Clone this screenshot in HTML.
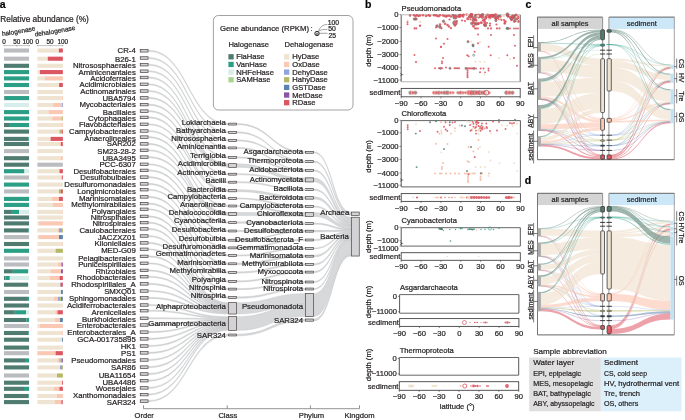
<!DOCTYPE html>
<html><head><meta charset="utf-8"><style>
html,body{margin:0;padding:0;background:#fff;width:685px;height:420px;overflow:hidden}
svg{display:block;will-change:transform}
text{font-family:"Liberation Sans", sans-serif;stroke:#231f20;stroke-width:0.22px;paint-order:stroke}
</style></head><body>
<svg width="685" height="420" viewBox="0 0 685 420" font-family="Liberation Sans, sans-serif">
<rect width="685" height="420" fill="#fff"/>
<text x="-0.30" y="8.20" font-size="10.5" text-anchor="start" font-weight="bold" fill="#000" >a</text>
<text x="0.30" y="22.30" font-size="8.3" text-anchor="start" font-weight="normal" fill="#231f20" >Relative abundance (%)</text>
<defs><path id="arc1" d="M2.3,35.9 Q20,33.6 42,29.2"/><path id="arc2" d="M35.0,36.6 Q56,33.6 82,28.6"/></defs>
<text font-size="6.6" fill="#231f20"><textPath href="#arc1">halogenase</textPath></text>
<text font-size="6.6" fill="#231f20"><textPath href="#arc2">dehalogenase</textPath></text>
<text x="4.00" y="44.00" font-size="6.4" text-anchor="middle" font-weight="normal" fill="#231f20" >0</text>
<text x="16.70" y="44.00" font-size="6.4" text-anchor="middle" font-weight="normal" fill="#231f20" >50</text>
<text x="27.80" y="44.00" font-size="6.4" text-anchor="middle" font-weight="normal" fill="#231f20" >100</text>
<line x1="4.00" y1="45.60" x2="29.40" y2="45.60" stroke="#888" stroke-width="0.5" />
<line x1="4.00" y1="45.00" x2="4.00" y2="46.20" stroke="#666" stroke-width="0.5" />
<line x1="16.70" y1="45.00" x2="16.70" y2="46.20" stroke="#666" stroke-width="0.5" />
<line x1="29.40" y1="45.00" x2="29.40" y2="46.20" stroke="#666" stroke-width="0.5" />
<text x="37.40" y="44.00" font-size="6.4" text-anchor="middle" font-weight="normal" fill="#231f20" >0</text>
<text x="50.10" y="44.00" font-size="6.4" text-anchor="middle" font-weight="normal" fill="#231f20" >50</text>
<text x="62.80" y="44.00" font-size="6.4" text-anchor="middle" font-weight="normal" fill="#231f20" >100</text>
<line x1="37.40" y1="45.60" x2="62.80" y2="45.60" stroke="#888" stroke-width="0.5" />
<line x1="37.40" y1="45.00" x2="37.40" y2="46.20" stroke="#666" stroke-width="0.5" />
<line x1="50.10" y1="45.00" x2="50.10" y2="46.20" stroke="#666" stroke-width="0.5" />
<line x1="62.80" y1="45.00" x2="62.80" y2="46.20" stroke="#666" stroke-width="0.5" />
<rect x="4.00" y="48.45" width="25.05" height="4.10" fill="#bbbcc0" stroke="none" stroke-width="0" rx="0" />
<rect x="37.40" y="48.45" width="21.55" height="4.10" fill="#efe3d1" stroke="none" stroke-width="0" rx="0" />
<rect x="58.90" y="48.45" width="3.95" height="4.10" fill="#dc5661" stroke="none" stroke-width="0" rx="0" />
<rect x="4.00" y="56.65" width="25.05" height="4.10" fill="#bbbcc0" stroke="none" stroke-width="0" rx="0" />
<rect x="37.40" y="56.65" width="10.45" height="4.10" fill="#efe3d1" stroke="none" stroke-width="0" rx="0" />
<rect x="47.80" y="56.65" width="15.05" height="4.10" fill="#dc5661" stroke="none" stroke-width="0" rx="0" />
<rect x="4.00" y="63.75" width="25.05" height="4.10" fill="#4f7b70" stroke="none" stroke-width="0" rx="0" />
<rect x="37.40" y="63.75" width="25.45" height="4.10" fill="#efe3d1" stroke="none" stroke-width="0" rx="0" />
<rect x="4.00" y="70.05" width="25.05" height="4.10" fill="#2b9e86" stroke="none" stroke-width="0" rx="0" />
<rect x="37.40" y="70.05" width="2.55" height="4.10" fill="#efe3d1" stroke="none" stroke-width="0" rx="0" />
<rect x="39.90" y="70.05" width="22.95" height="4.10" fill="#dc5661" stroke="none" stroke-width="0" rx="0" />
<rect x="4.00" y="76.35" width="25.05" height="4.10" fill="#2b9e86" stroke="none" stroke-width="0" rx="0" />
<rect x="37.40" y="76.35" width="7.65" height="4.10" fill="#efe3d1" stroke="none" stroke-width="0" rx="0" />
<rect x="45.00" y="76.35" width="17.85" height="4.10" fill="#fbc8b3" stroke="none" stroke-width="0" rx="0" />
<rect x="4.00" y="82.95" width="25.05" height="4.10" fill="#2b9e86" stroke="none" stroke-width="0" rx="0" />
<rect x="37.40" y="82.95" width="21.75" height="4.10" fill="#efe3d1" stroke="none" stroke-width="0" rx="0" />
<rect x="59.10" y="82.95" width="3.75" height="4.10" fill="#dc5661" stroke="none" stroke-width="0" rx="0" />
<rect x="4.00" y="89.95" width="25.05" height="4.10" fill="#bbbcc0" stroke="none" stroke-width="0" rx="0" />
<rect x="37.40" y="89.95" width="25.45" height="4.10" fill="#efe3d1" stroke="none" stroke-width="0" rx="0" />
<rect x="4.00" y="96.05" width="0.65" height="4.10" fill="#4f7b70" stroke="none" stroke-width="0" rx="0" />
<rect x="4.60" y="96.05" width="24.45" height="4.10" fill="#2b9e86" stroke="none" stroke-width="0" rx="0" />
<rect x="37.40" y="96.05" width="24.45" height="4.10" fill="#efe3d1" stroke="none" stroke-width="0" rx="0" />
<rect x="61.80" y="96.05" width="1.05" height="4.10" fill="#fbc8b3" stroke="none" stroke-width="0" rx="0" />
<rect x="4.00" y="102.95" width="25.05" height="4.10" fill="#d6ede9" stroke="none" stroke-width="0" rx="0" />
<rect x="37.40" y="102.95" width="15.85" height="4.10" fill="#efe3d1" stroke="none" stroke-width="0" rx="0" />
<rect x="53.20" y="102.95" width="8.75" height="4.10" fill="#fbc8b3" stroke="none" stroke-width="0" rx="0" />
<rect x="61.90" y="102.95" width="0.95" height="4.10" fill="#8ea4da" stroke="none" stroke-width="0" rx="0" />
<rect x="4.00" y="110.05" width="25.05" height="4.10" fill="#2b9e86" stroke="none" stroke-width="0" rx="0" />
<rect x="37.40" y="110.05" width="11.25" height="4.10" fill="#efe3d1" stroke="none" stroke-width="0" rx="0" />
<rect x="48.60" y="110.05" width="14.25" height="4.10" fill="#fbc8b3" stroke="none" stroke-width="0" rx="0" />
<rect x="4.00" y="116.45" width="25.05" height="4.10" fill="#2b9e86" stroke="none" stroke-width="0" rx="0" />
<rect x="37.40" y="116.45" width="14.85" height="4.10" fill="#efe3d1" stroke="none" stroke-width="0" rx="0" />
<rect x="52.20" y="116.45" width="9.65" height="4.10" fill="#fbc8b3" stroke="none" stroke-width="0" rx="0" />
<rect x="61.80" y="116.45" width="1.05" height="4.10" fill="#b5b967" stroke="none" stroke-width="0" rx="0" />
<rect x="4.00" y="122.95" width="5.05" height="4.10" fill="#4f7b70" stroke="none" stroke-width="0" rx="0" />
<rect x="9.00" y="122.95" width="20.05" height="4.10" fill="#2b9e86" stroke="none" stroke-width="0" rx="0" />
<rect x="37.40" y="122.95" width="24.15" height="4.10" fill="#efe3d1" stroke="none" stroke-width="0" rx="0" />
<rect x="61.50" y="122.95" width="1.35" height="4.10" fill="#fbc8b3" stroke="none" stroke-width="0" rx="0" />
<rect x="4.00" y="129.55" width="25.05" height="4.10" fill="#4f7b70" stroke="none" stroke-width="0" rx="0" />
<rect x="37.40" y="129.55" width="22.15" height="4.10" fill="#efe3d1" stroke="none" stroke-width="0" rx="0" />
<rect x="59.50" y="129.55" width="2.55" height="4.10" fill="#b5b967" stroke="none" stroke-width="0" rx="0" />
<rect x="62.00" y="129.55" width="0.85" height="4.10" fill="#dc5661" stroke="none" stroke-width="0" rx="0" />
<rect x="4.00" y="136.85" width="24.45" height="4.10" fill="#4f7b70" stroke="none" stroke-width="0" rx="0" />
<rect x="28.40" y="136.85" width="0.65" height="4.10" fill="#2b9e86" stroke="none" stroke-width="0" rx="0" />
<rect x="37.40" y="136.85" width="13.25" height="4.10" fill="#efe3d1" stroke="none" stroke-width="0" rx="0" />
<rect x="50.60" y="136.85" width="12.25" height="4.10" fill="#dc5661" stroke="none" stroke-width="0" rx="0" />
<rect x="4.00" y="141.95" width="25.05" height="4.10" fill="#4f7b70" stroke="none" stroke-width="0" rx="0" />
<rect x="37.40" y="141.95" width="22.15" height="4.10" fill="#efe3d1" stroke="none" stroke-width="0" rx="0" />
<rect x="59.50" y="141.95" width="1.55" height="4.10" fill="#fbc8b3" stroke="none" stroke-width="0" rx="0" />
<rect x="61.00" y="141.95" width="1.85" height="4.10" fill="#dc5661" stroke="none" stroke-width="0" rx="0" />
<rect x="4.00" y="149.05" width="25.05" height="4.10" fill="#bbbcc0" stroke="none" stroke-width="0" rx="0" />
<rect x="37.40" y="149.05" width="25.45" height="4.10" fill="#efe3d1" stroke="none" stroke-width="0" rx="0" />
<rect x="4.00" y="156.15" width="25.05" height="4.10" fill="#4f7b70" stroke="none" stroke-width="0" rx="0" />
<rect x="37.40" y="156.15" width="23.15" height="4.10" fill="#efe3d1" stroke="none" stroke-width="0" rx="0" />
<rect x="60.50" y="156.15" width="2.35" height="4.10" fill="#fbc8b3" stroke="none" stroke-width="0" rx="0" />
<rect x="4.00" y="162.65" width="25.05" height="4.10" fill="#4f7b70" stroke="none" stroke-width="0" rx="0" />
<rect x="37.40" y="162.65" width="25.45" height="4.10" fill="#bbbcc0" stroke="none" stroke-width="0" rx="0" />
<rect x="4.00" y="169.15" width="20.45" height="4.10" fill="#2b9e86" stroke="none" stroke-width="0" rx="0" />
<rect x="24.40" y="169.15" width="4.65" height="4.10" fill="#d6ede9" stroke="none" stroke-width="0" rx="0" />
<rect x="37.40" y="169.15" width="22.15" height="4.10" fill="#efe3d1" stroke="none" stroke-width="0" rx="0" />
<rect x="59.50" y="169.15" width="3.35" height="4.10" fill="#dc5661" stroke="none" stroke-width="0" rx="0" />
<rect x="4.00" y="175.45" width="25.05" height="4.10" fill="#bbbcc0" stroke="none" stroke-width="0" rx="0" />
<rect x="37.40" y="175.45" width="24.45" height="4.10" fill="#efe3d1" stroke="none" stroke-width="0" rx="0" />
<rect x="61.80" y="175.45" width="1.05" height="4.10" fill="#dc5661" stroke="none" stroke-width="0" rx="0" />
<rect x="4.00" y="182.55" width="25.05" height="4.10" fill="#2b9e86" stroke="none" stroke-width="0" rx="0" />
<rect x="37.40" y="182.55" width="25.45" height="4.10" fill="#efe3d1" stroke="none" stroke-width="0" rx="0" />
<rect x="4.00" y="189.35" width="25.05" height="4.10" fill="#bbbcc0" stroke="none" stroke-width="0" rx="0" />
<rect x="37.40" y="189.35" width="21.65" height="4.10" fill="#efe3d1" stroke="none" stroke-width="0" rx="0" />
<rect x="59.00" y="189.35" width="2.05" height="4.10" fill="#b5b967" stroke="none" stroke-width="0" rx="0" />
<rect x="61.00" y="189.35" width="1.85" height="4.10" fill="#dc5661" stroke="none" stroke-width="0" rx="0" />
<rect x="4.00" y="196.85" width="25.05" height="4.10" fill="#2b9e86" stroke="none" stroke-width="0" rx="0" />
<rect x="37.40" y="196.85" width="14.15" height="4.10" fill="#efe3d1" stroke="none" stroke-width="0" rx="0" />
<rect x="51.50" y="196.85" width="7.55" height="4.10" fill="#fbc8b3" stroke="none" stroke-width="0" rx="0" />
<rect x="59.00" y="196.85" width="3.85" height="4.10" fill="#dc5661" stroke="none" stroke-width="0" rx="0" />
<rect x="4.00" y="202.85" width="25.05" height="4.10" fill="#2b9e86" stroke="none" stroke-width="0" rx="0" />
<rect x="37.40" y="202.85" width="15.65" height="4.10" fill="#efe3d1" stroke="none" stroke-width="0" rx="0" />
<rect x="53.00" y="202.85" width="9.85" height="4.10" fill="#fbc8b3" stroke="none" stroke-width="0" rx="0" />
<rect x="4.00" y="209.85" width="7.05" height="4.10" fill="#4f7b70" stroke="none" stroke-width="0" rx="0" />
<rect x="11.00" y="209.85" width="8.05" height="4.10" fill="#2b9e86" stroke="none" stroke-width="0" rx="0" />
<rect x="19.00" y="209.85" width="10.05" height="4.10" fill="#d6ede9" stroke="none" stroke-width="0" rx="0" />
<rect x="37.40" y="209.85" width="24.85" height="4.10" fill="#efe3d1" stroke="none" stroke-width="0" rx="0" />
<rect x="62.20" y="209.85" width="0.65" height="4.10" fill="#fbc8b3" stroke="none" stroke-width="0" rx="0" />
<rect x="4.00" y="215.45" width="25.05" height="4.10" fill="#4f7b70" stroke="none" stroke-width="0" rx="0" />
<rect x="37.40" y="215.45" width="25.45" height="4.10" fill="#efe3d1" stroke="none" stroke-width="0" rx="0" />
<rect x="4.00" y="221.35" width="25.05" height="4.10" fill="#4f7b70" stroke="none" stroke-width="0" rx="0" />
<rect x="37.40" y="221.35" width="1.35" height="4.10" fill="#efe3d1" stroke="none" stroke-width="0" rx="0" />
<rect x="38.70" y="221.35" width="24.15" height="4.10" fill="#fbc8b3" stroke="none" stroke-width="0" rx="0" />
<rect x="4.00" y="228.35" width="24.45" height="4.10" fill="#4f7b70" stroke="none" stroke-width="0" rx="0" />
<rect x="28.40" y="228.35" width="0.65" height="4.10" fill="#2b9e86" stroke="none" stroke-width="0" rx="0" />
<rect x="37.40" y="228.35" width="20.45" height="4.10" fill="#efe3d1" stroke="none" stroke-width="0" rx="0" />
<rect x="57.80" y="228.35" width="1.25" height="4.10" fill="#fbc8b3" stroke="none" stroke-width="0" rx="0" />
<rect x="59.00" y="228.35" width="3.05" height="4.10" fill="#8ea4da" stroke="none" stroke-width="0" rx="0" />
<rect x="62.00" y="228.35" width="0.85" height="4.10" fill="#b5b967" stroke="none" stroke-width="0" rx="0" />
<rect x="4.00" y="235.05" width="25.05" height="4.10" fill="#bbbcc0" stroke="none" stroke-width="0" rx="0" />
<rect x="37.40" y="235.05" width="1.35" height="4.10" fill="#efe3d1" stroke="none" stroke-width="0" rx="0" />
<rect x="38.70" y="235.05" width="20.35" height="4.10" fill="#fbc8b3" stroke="none" stroke-width="0" rx="0" />
<rect x="59.00" y="235.05" width="3.85" height="4.10" fill="#5b83ad" stroke="none" stroke-width="0" rx="0" />
<rect x="4.00" y="241.95" width="25.05" height="4.10" fill="#4f7b70" stroke="none" stroke-width="0" rx="0" />
<rect x="37.40" y="241.95" width="24.85" height="4.10" fill="#efe3d1" stroke="none" stroke-width="0" rx="0" />
<rect x="62.20" y="241.95" width="0.65" height="4.10" fill="#fbc8b3" stroke="none" stroke-width="0" rx="0" />
<rect x="4.00" y="248.75" width="25.05" height="4.10" fill="#2b9e86" stroke="none" stroke-width="0" rx="0" />
<rect x="37.40" y="248.75" width="18.25" height="4.10" fill="#efe3d1" stroke="none" stroke-width="0" rx="0" />
<rect x="55.60" y="248.75" width="7.25" height="4.10" fill="#b5b967" stroke="none" stroke-width="0" rx="0" />
<rect x="4.00" y="256.35" width="25.05" height="4.10" fill="#bbbcc0" stroke="none" stroke-width="0" rx="0" />
<rect x="37.40" y="256.35" width="25.45" height="4.10" fill="#efe3d1" stroke="none" stroke-width="0" rx="0" />
<rect x="4.00" y="262.45" width="25.05" height="4.10" fill="#bbbcc0" stroke="none" stroke-width="0" rx="0" />
<rect x="37.40" y="262.45" width="20.65" height="4.10" fill="#efe3d1" stroke="none" stroke-width="0" rx="0" />
<rect x="58.00" y="262.45" width="3.55" height="4.10" fill="#fbc8b3" stroke="none" stroke-width="0" rx="0" />
<rect x="61.50" y="262.45" width="1.35" height="4.10" fill="#8a55a7" stroke="none" stroke-width="0" rx="0" />
<rect x="4.00" y="269.25" width="8.85" height="4.10" fill="#4f7b70" stroke="none" stroke-width="0" rx="0" />
<rect x="12.80" y="269.25" width="15.25" height="4.10" fill="#2b9e86" stroke="none" stroke-width="0" rx="0" />
<rect x="28.00" y="269.25" width="1.05" height="4.10" fill="#d6ede9" stroke="none" stroke-width="0" rx="0" />
<rect x="37.40" y="269.25" width="13.15" height="4.10" fill="#efe3d1" stroke="none" stroke-width="0" rx="0" />
<rect x="50.50" y="269.25" width="10.55" height="4.10" fill="#fbc8b3" stroke="none" stroke-width="0" rx="0" />
<rect x="61.00" y="269.25" width="1.85" height="4.10" fill="#8a55a7" stroke="none" stroke-width="0" rx="0" />
<rect x="4.00" y="275.95" width="1.55" height="4.10" fill="#4f7b70" stroke="none" stroke-width="0" rx="0" />
<rect x="5.50" y="275.95" width="4.35" height="4.10" fill="#2b9e86" stroke="none" stroke-width="0" rx="0" />
<rect x="9.80" y="275.95" width="19.25" height="4.10" fill="#d6ede9" stroke="none" stroke-width="0" rx="0" />
<rect x="37.40" y="275.95" width="12.65" height="4.10" fill="#efe3d1" stroke="none" stroke-width="0" rx="0" />
<rect x="50.00" y="275.95" width="9.65" height="4.10" fill="#fbc8b3" stroke="none" stroke-width="0" rx="0" />
<rect x="59.60" y="275.95" width="3.25" height="4.10" fill="#dc5661" stroke="none" stroke-width="0" rx="0" />
<rect x="4.00" y="282.65" width="24.05" height="4.10" fill="#4f7b70" stroke="none" stroke-width="0" rx="0" />
<rect x="28.00" y="282.65" width="1.05" height="4.10" fill="#d6ede9" stroke="none" stroke-width="0" rx="0" />
<rect x="37.40" y="282.65" width="22.65" height="4.10" fill="#efe3d1" stroke="none" stroke-width="0" rx="0" />
<rect x="60.00" y="282.65" width="0.75" height="4.10" fill="#8ea4da" stroke="none" stroke-width="0" rx="0" />
<rect x="60.70" y="282.65" width="2.15" height="4.10" fill="#dc5661" stroke="none" stroke-width="0" rx="0" />
<rect x="4.00" y="289.95" width="25.05" height="4.10" fill="#bbbcc0" stroke="none" stroke-width="0" rx="0" />
<rect x="37.40" y="289.95" width="23.65" height="4.10" fill="#efe3d1" stroke="none" stroke-width="0" rx="0" />
<rect x="61.00" y="289.95" width="1.85" height="4.10" fill="#5b83ad" stroke="none" stroke-width="0" rx="0" />
<rect x="4.00" y="296.75" width="23.05" height="4.10" fill="#4f7b70" stroke="none" stroke-width="0" rx="0" />
<rect x="27.00" y="296.75" width="2.05" height="4.10" fill="#2b9e86" stroke="none" stroke-width="0" rx="0" />
<rect x="37.40" y="296.75" width="16.65" height="4.10" fill="#efe3d1" stroke="none" stroke-width="0" rx="0" />
<rect x="54.00" y="296.75" width="4.05" height="4.10" fill="#fbc8b3" stroke="none" stroke-width="0" rx="0" />
<rect x="58.00" y="296.75" width="1.05" height="4.10" fill="#8ea4da" stroke="none" stroke-width="0" rx="0" />
<rect x="59.00" y="296.75" width="2.05" height="4.10" fill="#b5b967" stroke="none" stroke-width="0" rx="0" />
<rect x="61.00" y="296.75" width="1.85" height="4.10" fill="#5b83ad" stroke="none" stroke-width="0" rx="0" />
<rect x="4.00" y="303.45" width="25.05" height="4.10" fill="#4f7b70" stroke="none" stroke-width="0" rx="0" />
<rect x="37.40" y="303.45" width="25.45" height="4.10" fill="#efe3d1" stroke="none" stroke-width="0" rx="0" />
<rect x="4.00" y="310.25" width="10.75" height="4.10" fill="#4f7b70" stroke="none" stroke-width="0" rx="0" />
<rect x="14.70" y="310.25" width="11.35" height="4.10" fill="#2b9e86" stroke="none" stroke-width="0" rx="0" />
<rect x="26.00" y="310.25" width="3.05" height="4.10" fill="#d6ede9" stroke="none" stroke-width="0" rx="0" />
<rect x="37.40" y="310.25" width="17.95" height="4.10" fill="#efe3d1" stroke="none" stroke-width="0" rx="0" />
<rect x="55.30" y="310.25" width="2.25" height="4.10" fill="#fbc8b3" stroke="none" stroke-width="0" rx="0" />
<rect x="57.50" y="310.25" width="5.35" height="4.10" fill="#dc5661" stroke="none" stroke-width="0" rx="0" />
<rect x="4.00" y="317.95" width="22.65" height="4.10" fill="#4f7b70" stroke="none" stroke-width="0" rx="0" />
<rect x="26.60" y="317.95" width="2.45" height="4.10" fill="#2b9e86" stroke="none" stroke-width="0" rx="0" />
<rect x="37.40" y="317.95" width="17.65" height="4.10" fill="#efe3d1" stroke="none" stroke-width="0" rx="0" />
<rect x="55.00" y="317.95" width="5.05" height="4.10" fill="#fbc8b3" stroke="none" stroke-width="0" rx="0" />
<rect x="60.00" y="317.95" width="2.85" height="4.10" fill="#5b83ad" stroke="none" stroke-width="0" rx="0" />
<rect x="4.00" y="323.95" width="25.05" height="4.10" fill="#bbbcc0" stroke="none" stroke-width="0" rx="0" />
<rect x="37.40" y="323.95" width="2.45" height="4.10" fill="#efe3d1" stroke="none" stroke-width="0" rx="0" />
<rect x="39.80" y="323.95" width="23.05" height="4.10" fill="#fbc8b3" stroke="none" stroke-width="0" rx="0" />
<rect x="4.00" y="330.95" width="24.45" height="4.10" fill="#4f7b70" stroke="none" stroke-width="0" rx="0" />
<rect x="28.40" y="330.95" width="0.65" height="4.10" fill="#2b9e86" stroke="none" stroke-width="0" rx="0" />
<rect x="37.40" y="330.95" width="24.15" height="4.10" fill="#efe3d1" stroke="none" stroke-width="0" rx="0" />
<rect x="61.50" y="330.95" width="1.35" height="4.10" fill="#fbc8b3" stroke="none" stroke-width="0" rx="0" />
<rect x="4.00" y="337.65" width="25.05" height="4.10" fill="#4f7b70" stroke="none" stroke-width="0" rx="0" />
<rect x="37.40" y="337.65" width="24.65" height="4.10" fill="#efe3d1" stroke="none" stroke-width="0" rx="0" />
<rect x="62.00" y="337.65" width="0.85" height="4.10" fill="#5b83ad" stroke="none" stroke-width="0" rx="0" />
<rect x="4.00" y="345.55" width="25.05" height="4.10" fill="#4f7b70" stroke="none" stroke-width="0" rx="0" />
<rect x="37.40" y="345.55" width="25.45" height="4.10" fill="#efe3d1" stroke="none" stroke-width="0" rx="0" />
<rect x="4.00" y="351.15" width="25.05" height="4.10" fill="#bbbcc0" stroke="none" stroke-width="0" rx="0" />
<rect x="37.40" y="351.15" width="18.25" height="4.10" fill="#fbc8b3" stroke="none" stroke-width="0" rx="0" />
<rect x="55.60" y="351.15" width="7.25" height="4.10" fill="#dc5661" stroke="none" stroke-width="0" rx="0" />
<rect x="4.00" y="358.35" width="21.05" height="4.10" fill="#4f7b70" stroke="none" stroke-width="0" rx="0" />
<rect x="25.00" y="358.35" width="4.05" height="4.10" fill="#2b9e86" stroke="none" stroke-width="0" rx="0" />
<rect x="37.40" y="358.35" width="20.15" height="4.10" fill="#efe3d1" stroke="none" stroke-width="0" rx="0" />
<rect x="57.50" y="358.35" width="2.05" height="4.10" fill="#fbc8b3" stroke="none" stroke-width="0" rx="0" />
<rect x="59.50" y="358.35" width="1.05" height="4.10" fill="#8ea4da" stroke="none" stroke-width="0" rx="0" />
<rect x="60.50" y="358.35" width="1.05" height="4.10" fill="#b5b967" stroke="none" stroke-width="0" rx="0" />
<rect x="61.50" y="358.35" width="1.35" height="4.10" fill="#8a55a7" stroke="none" stroke-width="0" rx="0" />
<rect x="4.00" y="365.35" width="25.05" height="4.10" fill="#4f7b70" stroke="none" stroke-width="0" rx="0" />
<rect x="37.40" y="365.35" width="22.65" height="4.10" fill="#efe3d1" stroke="none" stroke-width="0" rx="0" />
<rect x="60.00" y="365.35" width="2.05" height="4.10" fill="#8ea4da" stroke="none" stroke-width="0" rx="0" />
<rect x="62.00" y="365.35" width="0.85" height="4.10" fill="#b5b967" stroke="none" stroke-width="0" rx="0" />
<rect x="4.00" y="373.45" width="25.05" height="4.10" fill="#bbbcc0" stroke="none" stroke-width="0" rx="0" />
<rect x="37.40" y="373.45" width="19.65" height="4.10" fill="#efe3d1" stroke="none" stroke-width="0" rx="0" />
<rect x="57.00" y="373.45" width="5.85" height="4.10" fill="#b5b967" stroke="none" stroke-width="0" rx="0" />
<rect x="4.00" y="380.65" width="25.05" height="4.10" fill="#4f7b70" stroke="none" stroke-width="0" rx="0" />
<rect x="37.40" y="380.65" width="24.65" height="4.10" fill="#efe3d1" stroke="none" stroke-width="0" rx="0" />
<rect x="62.00" y="380.65" width="0.85" height="4.10" fill="#dc5661" stroke="none" stroke-width="0" rx="0" />
<rect x="4.00" y="386.75" width="20.05" height="4.10" fill="#4f7b70" stroke="none" stroke-width="0" rx="0" />
<rect x="24.00" y="386.75" width="5.05" height="4.10" fill="#2b9e86" stroke="none" stroke-width="0" rx="0" />
<rect x="37.40" y="386.75" width="16.65" height="4.10" fill="#efe3d1" stroke="none" stroke-width="0" rx="0" />
<rect x="54.00" y="386.75" width="5.05" height="4.10" fill="#fbc8b3" stroke="none" stroke-width="0" rx="0" />
<rect x="59.00" y="386.75" width="0.85" height="4.10" fill="#b5b967" stroke="none" stroke-width="0" rx="0" />
<rect x="59.80" y="386.75" width="3.05" height="4.10" fill="#dc5661" stroke="none" stroke-width="0" rx="0" />
<rect x="4.00" y="393.95" width="24.45" height="4.10" fill="#4f7b70" stroke="none" stroke-width="0" rx="0" />
<rect x="28.40" y="393.95" width="0.65" height="4.10" fill="#2b9e86" stroke="none" stroke-width="0" rx="0" />
<rect x="37.40" y="393.95" width="19.65" height="4.10" fill="#efe3d1" stroke="none" stroke-width="0" rx="0" />
<rect x="57.00" y="393.95" width="5.85" height="4.10" fill="#fbc8b3" stroke="none" stroke-width="0" rx="0" />
<rect x="4.00" y="400.05" width="25.05" height="4.10" fill="#4f7b70" stroke="none" stroke-width="0" rx="0" />
<rect x="37.40" y="400.05" width="17.65" height="4.10" fill="#efe3d1" stroke="none" stroke-width="0" rx="0" />
<rect x="55.00" y="400.05" width="6.55" height="4.10" fill="#fbc8b3" stroke="none" stroke-width="0" rx="0" />
<rect x="61.50" y="400.05" width="0.75" height="4.10" fill="#8a55a7" stroke="none" stroke-width="0" rx="0" />
<rect x="62.20" y="400.05" width="0.65" height="4.10" fill="#dc5661" stroke="none" stroke-width="0" rx="0" />
<path d="M148.40,50.25 C188.35,50.25 188.35,123.55 228.30,123.55 L228.30,124.65 C188.35,124.65 188.35,51.35 148.40,51.35 Z" fill="#d7d8d9" fill-opacity="1.0" stroke="#babdc0" stroke-width="0.35"/>
<path d="M148.40,57.45 C188.35,57.45 188.35,131.85 228.30,131.85 L228.30,132.95 C188.35,132.95 188.35,58.55 148.40,58.55 Z" fill="#d7d8d9" fill-opacity="1.0" stroke="#babdc0" stroke-width="0.35"/>
<path d="M148.40,64.15 C188.35,64.15 188.35,139.85 228.30,139.85 L228.30,140.95 C188.35,140.95 188.35,65.25 148.40,65.25 Z" fill="#d7d8d9" fill-opacity="1.0" stroke="#babdc0" stroke-width="0.35"/>
<path d="M148.40,70.65 C188.35,70.65 188.35,147.35 228.30,147.35 L228.30,148.45 C188.35,148.45 188.35,71.75 148.40,71.75 Z" fill="#d7d8d9" fill-opacity="1.0" stroke="#babdc0" stroke-width="0.35"/>
<path d="M148.40,76.95 C188.35,76.95 188.35,156.75 228.30,156.75 L228.30,158.05 C188.35,158.05 188.35,78.05 148.40,78.05 Z" fill="#d7d8d9" fill-opacity="1.0" stroke="#babdc0" stroke-width="0.35"/>
<path d="M148.40,83.75 C188.35,83.75 188.35,163.75 228.30,163.75 L228.30,164.92 C188.35,164.92 188.35,84.85 148.40,84.85 Z" fill="#d7d8d9" fill-opacity="1.0" stroke="#babdc0" stroke-width="0.35"/>
<path d="M148.40,90.45 C188.35,90.45 188.35,164.92 228.30,164.92 L228.30,166.08 C188.35,166.08 188.35,91.55 148.40,91.55 Z" fill="#d7d8d9" fill-opacity="1.0" stroke="#babdc0" stroke-width="0.35"/>
<path d="M148.40,97.35 C188.35,97.35 188.35,166.08 228.30,166.08 L228.30,167.25 C188.35,167.25 188.35,98.45 148.40,98.45 Z" fill="#d7d8d9" fill-opacity="1.0" stroke="#babdc0" stroke-width="0.35"/>
<path d="M148.40,104.05 C188.35,104.05 188.35,173.65 228.30,173.65 L228.30,174.75 C188.35,174.75 188.35,105.15 148.40,105.15 Z" fill="#d7d8d9" fill-opacity="1.0" stroke="#babdc0" stroke-width="0.35"/>
<path d="M148.40,110.55 C188.35,110.55 188.35,181.65 228.30,181.65 L228.30,182.75 C188.35,182.75 188.35,111.65 148.40,111.65 Z" fill="#d7d8d9" fill-opacity="1.0" stroke="#babdc0" stroke-width="0.35"/>
<path d="M148.40,116.85 C188.35,116.85 188.35,189.70 228.30,189.70 L228.30,190.70 C188.35,190.70 188.35,117.95 148.40,117.95 Z" fill="#d7d8d9" fill-opacity="1.0" stroke="#babdc0" stroke-width="0.35"/>
<path d="M148.40,123.75 C188.35,123.75 188.35,190.70 228.30,190.70 L228.30,191.70 C188.35,191.70 188.35,124.85 148.40,124.85 Z" fill="#d7d8d9" fill-opacity="1.0" stroke="#babdc0" stroke-width="0.35"/>
<path d="M148.40,130.45 C188.35,130.45 188.35,197.95 228.30,197.95 L228.30,199.05 C188.35,199.05 188.35,131.55 148.40,131.55 Z" fill="#d7d8d9" fill-opacity="1.0" stroke="#babdc0" stroke-width="0.35"/>
<path d="M148.40,136.55 C188.35,136.55 188.35,205.45 228.30,205.45 L228.30,206.55 C188.35,206.55 188.35,137.65 148.40,137.65 Z" fill="#d7d8d9" fill-opacity="1.0" stroke="#babdc0" stroke-width="0.35"/>
<path d="M148.40,143.35 C188.35,143.35 188.35,212.50 228.30,212.50 L228.30,213.50 C188.35,213.50 188.35,144.45 148.40,144.45 Z" fill="#d7d8d9" fill-opacity="1.0" stroke="#babdc0" stroke-width="0.35"/>
<path d="M148.40,149.75 C188.35,149.75 188.35,213.50 228.30,213.50 L228.30,214.50 C188.35,214.50 188.35,150.85 148.40,150.85 Z" fill="#d7d8d9" fill-opacity="1.0" stroke="#babdc0" stroke-width="0.35"/>
<path d="M148.40,156.55 C188.35,156.55 188.35,214.50 228.30,214.50 L228.30,215.50 C188.35,215.50 188.35,157.65 148.40,157.65 Z" fill="#d7d8d9" fill-opacity="1.0" stroke="#babdc0" stroke-width="0.35"/>
<path d="M148.40,163.75 C188.35,163.75 188.35,221.85 228.30,221.85 L228.30,223.35 C188.35,223.35 188.35,164.85 148.40,164.85 Z" fill="#d7d8d9" fill-opacity="1.0" stroke="#babdc0" stroke-width="0.35"/>
<path d="M148.40,169.85 C188.35,169.85 188.35,230.30 228.30,230.30 L228.30,231.70 C188.35,231.70 188.35,170.95 148.40,170.95 Z" fill="#d7d8d9" fill-opacity="1.0" stroke="#babdc0" stroke-width="0.35"/>
<path d="M148.40,176.55 C188.35,176.55 188.35,239.75 228.30,239.75 L228.30,240.65 C188.35,240.65 188.35,177.65 148.40,177.65 Z" fill="#d7d8d9" fill-opacity="1.0" stroke="#babdc0" stroke-width="0.35"/>
<path d="M148.40,183.35 C188.35,183.35 188.35,247.40 228.30,247.40 L228.30,248.40 C188.35,248.40 188.35,184.45 148.40,184.45 Z" fill="#d7d8d9" fill-opacity="1.0" stroke="#babdc0" stroke-width="0.35"/>
<path d="M148.40,189.15 C188.35,189.15 188.35,254.95 228.30,254.95 L228.30,256.05 C188.35,256.05 188.35,190.25 148.40,190.25 Z" fill="#d7d8d9" fill-opacity="1.0" stroke="#babdc0" stroke-width="0.35"/>
<path d="M148.40,196.35 C188.35,196.35 188.35,262.95 228.30,262.95 L228.30,264.65 C188.35,264.65 188.35,197.45 148.40,197.45 Z" fill="#d7d8d9" fill-opacity="1.0" stroke="#babdc0" stroke-width="0.35"/>
<path d="M148.40,203.05 C188.35,203.05 188.35,271.85 228.30,271.85 L228.30,273.15 C188.35,273.15 188.35,204.15 148.40,204.15 Z" fill="#d7d8d9" fill-opacity="1.0" stroke="#babdc0" stroke-width="0.35"/>
<path d="M148.40,208.75 C188.35,208.75 188.35,280.85 228.30,280.85 L228.30,281.95 C188.35,281.95 188.35,209.85 148.40,209.85 Z" fill="#d7d8d9" fill-opacity="1.0" stroke="#babdc0" stroke-width="0.35"/>
<path d="M148.40,215.85 C188.35,215.85 188.35,288.55 228.30,288.55 L228.30,289.65 C188.35,289.65 188.35,216.95 148.40,216.95 Z" fill="#d7d8d9" fill-opacity="1.0" stroke="#babdc0" stroke-width="0.35"/>
<path d="M148.40,222.05 C188.35,222.05 188.35,296.85 228.30,296.85 L228.30,298.35 C188.35,298.35 188.35,223.15 148.40,223.15 Z" fill="#d7d8d9" fill-opacity="1.0" stroke="#babdc0" stroke-width="0.35"/>
<path d="M148.40,228.35 C188.35,228.35 188.35,302.75 228.30,302.75 L228.30,303.77 C188.35,303.77 188.35,229.45 148.40,229.45 Z" fill="#d7d8d9" fill-opacity="1.0" stroke="#babdc0" stroke-width="0.35"/>
<path d="M148.40,235.45 C188.35,235.45 188.35,303.77 228.30,303.77 L228.30,304.79 C188.35,304.79 188.35,236.55 148.40,236.55 Z" fill="#d7d8d9" fill-opacity="1.0" stroke="#babdc0" stroke-width="0.35"/>
<path d="M148.40,242.35 C188.35,242.35 188.35,304.79 228.30,304.79 L228.30,305.80 C188.35,305.80 188.35,243.45 148.40,243.45 Z" fill="#d7d8d9" fill-opacity="1.0" stroke="#babdc0" stroke-width="0.35"/>
<path d="M148.40,248.75 C188.35,248.75 188.35,305.80 228.30,305.80 L228.30,306.82 C188.35,306.82 188.35,249.85 148.40,249.85 Z" fill="#d7d8d9" fill-opacity="1.0" stroke="#babdc0" stroke-width="0.35"/>
<path d="M148.40,255.85 C188.35,255.85 188.35,306.82 228.30,306.82 L228.30,307.84 C188.35,307.84 188.35,256.95 148.40,256.95 Z" fill="#d7d8d9" fill-opacity="1.0" stroke="#babdc0" stroke-width="0.35"/>
<path d="M148.40,262.75 C188.35,262.75 188.35,307.84 228.30,307.84 L228.30,308.86 C188.35,308.86 188.35,263.85 148.40,263.85 Z" fill="#d7d8d9" fill-opacity="1.0" stroke="#babdc0" stroke-width="0.35"/>
<path d="M148.40,269.85 C188.35,269.85 188.35,308.86 228.30,308.86 L228.30,309.88 C188.35,309.88 188.35,270.95 148.40,270.95 Z" fill="#d7d8d9" fill-opacity="1.0" stroke="#babdc0" stroke-width="0.35"/>
<path d="M148.40,276.15 C188.35,276.15 188.35,309.88 228.30,309.88 L228.30,310.90 C188.35,310.90 188.35,277.25 148.40,277.25 Z" fill="#d7d8d9" fill-opacity="1.0" stroke="#babdc0" stroke-width="0.35"/>
<path d="M148.40,283.35 C188.35,283.35 188.35,310.90 228.30,310.90 L228.30,311.91 C188.35,311.91 188.35,284.45 148.40,284.45 Z" fill="#d7d8d9" fill-opacity="1.0" stroke="#babdc0" stroke-width="0.35"/>
<path d="M148.40,290.45 C188.35,290.45 188.35,311.91 228.30,311.91 L228.30,312.93 C188.35,312.93 188.35,291.55 148.40,291.55 Z" fill="#d7d8d9" fill-opacity="1.0" stroke="#babdc0" stroke-width="0.35"/>
<path d="M148.40,297.35 C188.35,297.35 188.35,312.93 228.30,312.93 L228.30,313.95 C188.35,313.95 188.35,298.45 148.40,298.45 Z" fill="#d7d8d9" fill-opacity="1.0" stroke="#babdc0" stroke-width="0.35"/>
<path d="M148.40,304.45 C188.35,304.45 188.35,316.65 228.30,316.65 L228.30,317.63 C188.35,317.63 188.35,305.55 148.40,305.55 Z" fill="#d7d8d9" fill-opacity="1.0" stroke="#babdc0" stroke-width="0.35"/>
<path d="M148.40,310.15 C188.35,310.15 188.35,317.63 228.30,317.63 L228.30,318.61 C188.35,318.61 188.35,311.25 148.40,311.25 Z" fill="#d7d8d9" fill-opacity="1.0" stroke="#babdc0" stroke-width="0.35"/>
<path d="M148.40,317.75 C188.35,317.75 188.35,318.61 228.30,318.61 L228.30,319.59 C188.35,319.59 188.35,318.85 148.40,318.85 Z" fill="#d7d8d9" fill-opacity="1.0" stroke="#babdc0" stroke-width="0.35"/>
<path d="M148.40,324.45 C188.35,324.45 188.35,319.59 228.30,319.59 L228.30,320.56 C188.35,320.56 188.35,325.55 148.40,325.55 Z" fill="#d7d8d9" fill-opacity="1.0" stroke="#babdc0" stroke-width="0.35"/>
<path d="M148.40,331.55 C188.35,331.55 188.35,320.56 228.30,320.56 L228.30,321.54 C188.35,321.54 188.35,332.65 148.40,332.65 Z" fill="#d7d8d9" fill-opacity="1.0" stroke="#babdc0" stroke-width="0.35"/>
<path d="M148.40,338.35 C188.35,338.35 188.35,321.54 228.30,321.54 L228.30,322.52 C188.35,322.52 188.35,339.45 148.40,339.45 Z" fill="#d7d8d9" fill-opacity="1.0" stroke="#babdc0" stroke-width="0.35"/>
<path d="M148.40,345.45 C188.35,345.45 188.35,322.52 228.30,322.52 L228.30,323.50 C188.35,323.50 188.35,346.55 148.40,346.55 Z" fill="#d7d8d9" fill-opacity="1.0" stroke="#babdc0" stroke-width="0.35"/>
<path d="M148.40,352.35 C188.35,352.35 188.35,323.50 228.30,323.50 L228.30,324.48 C188.35,324.48 188.35,353.45 148.40,353.45 Z" fill="#d7d8d9" fill-opacity="1.0" stroke="#babdc0" stroke-width="0.35"/>
<path d="M148.40,359.45 C188.35,359.45 188.35,324.48 228.30,324.48 L228.30,325.46 C188.35,325.46 188.35,360.55 148.40,360.55 Z" fill="#d7d8d9" fill-opacity="1.0" stroke="#babdc0" stroke-width="0.35"/>
<path d="M148.40,366.55 C188.35,366.55 188.35,325.46 228.30,325.46 L228.30,326.44 C188.35,326.44 188.35,367.65 148.40,367.65 Z" fill="#d7d8d9" fill-opacity="1.0" stroke="#babdc0" stroke-width="0.35"/>
<path d="M148.40,373.45 C188.35,373.45 188.35,326.44 228.30,326.44 L228.30,327.41 C188.35,327.41 188.35,374.55 148.40,374.55 Z" fill="#d7d8d9" fill-opacity="1.0" stroke="#babdc0" stroke-width="0.35"/>
<path d="M148.40,380.15 C188.35,380.15 188.35,327.41 228.30,327.41 L228.30,328.39 C188.35,328.39 188.35,381.25 148.40,381.25 Z" fill="#d7d8d9" fill-opacity="1.0" stroke="#babdc0" stroke-width="0.35"/>
<path d="M148.40,387.35 C188.35,387.35 188.35,328.39 228.30,328.39 L228.30,329.37 C188.35,329.37 188.35,388.45 148.40,388.45 Z" fill="#d7d8d9" fill-opacity="1.0" stroke="#babdc0" stroke-width="0.35"/>
<path d="M148.40,394.05 C188.35,394.05 188.35,329.37 228.30,329.37 L228.30,330.35 C188.35,330.35 188.35,395.15 148.40,395.15 Z" fill="#d7d8d9" fill-opacity="1.0" stroke="#babdc0" stroke-width="0.35"/>
<path d="M148.40,400.55 C188.35,400.55 188.35,334.15 228.30,334.15 L228.30,335.85 C188.35,335.85 188.35,401.65 148.40,401.65 Z" fill="#d7d8d9" fill-opacity="1.0" stroke="#babdc0" stroke-width="0.35"/>
<path d="M236.70,123.55 C270.95,123.55 270.95,151.75 305.20,151.75 L305.20,152.85 C270.95,152.85 270.95,124.65 236.70,124.65 Z" fill="#d7d8d9" fill-opacity="1.0" stroke="#babdc0" stroke-width="0.35"/>
<path d="M236.70,131.85 C270.95,131.85 270.95,161.00 305.20,161.00 L305.20,161.60 C270.95,161.60 270.95,132.95 236.70,132.95 Z" fill="#d7d8d9" fill-opacity="1.0" stroke="#babdc0" stroke-width="0.35"/>
<path d="M236.70,139.85 C270.95,139.85 270.95,161.60 305.20,161.60 L305.20,162.20 C270.95,162.20 270.95,140.95 236.70,140.95 Z" fill="#d7d8d9" fill-opacity="1.0" stroke="#babdc0" stroke-width="0.35"/>
<path d="M236.70,147.35 C270.95,147.35 270.95,169.70 305.20,169.70 L305.20,170.37 C270.95,170.37 270.95,148.45 236.70,148.45 Z" fill="#d7d8d9" fill-opacity="1.0" stroke="#babdc0" stroke-width="0.35"/>
<path d="M236.70,156.75 C270.95,156.75 270.95,170.37 305.20,170.37 L305.20,171.10 C270.95,171.10 270.95,158.05 236.70,158.05 Z" fill="#d7d8d9" fill-opacity="1.0" stroke="#babdc0" stroke-width="0.35"/>
<path d="M236.70,163.75 C270.95,163.75 270.95,177.95 305.20,177.95 L305.20,180.63 C270.95,180.63 270.95,167.25 236.70,167.25 Z" fill="#d7d8d9" fill-opacity="1.0" stroke="#babdc0" stroke-width="0.35"/>
<path d="M236.70,173.65 C270.95,173.65 270.95,180.63 305.20,180.63 L305.20,181.85 C270.95,181.85 270.95,174.75 236.70,174.75 Z" fill="#d7d8d9" fill-opacity="1.0" stroke="#babdc0" stroke-width="0.35"/>
<path d="M236.70,181.65 C270.95,181.65 270.95,189.00 305.20,189.00 L305.20,190.20 C270.95,190.20 270.95,182.75 236.70,182.75 Z" fill="#d7d8d9" fill-opacity="1.0" stroke="#babdc0" stroke-width="0.35"/>
<path d="M236.70,189.70 C270.95,189.70 270.95,196.75 305.20,196.75 L305.20,199.05 C270.95,199.05 270.95,191.70 236.70,191.70 Z" fill="#d7d8d9" fill-opacity="1.0" stroke="#babdc0" stroke-width="0.35"/>
<path d="M236.70,197.95 C270.95,197.95 270.95,205.90 305.20,205.90 L305.20,207.10 C270.95,207.10 270.95,199.05 236.70,199.05 Z" fill="#d7d8d9" fill-opacity="1.0" stroke="#babdc0" stroke-width="0.35"/>
<path d="M236.70,205.45 C270.95,205.45 270.95,212.55 305.20,212.55 L305.20,213.87 C270.95,213.87 270.95,206.55 236.70,206.55 Z" fill="#d7d8d9" fill-opacity="1.0" stroke="#babdc0" stroke-width="0.35"/>
<path d="M236.70,212.50 C270.95,212.50 270.95,213.87 305.20,213.87 L305.20,216.45 C270.95,216.45 270.95,215.50 236.70,215.50 Z" fill="#d7d8d9" fill-opacity="1.0" stroke="#babdc0" stroke-width="0.35"/>
<path d="M236.70,221.85 C270.95,221.85 270.95,223.00 305.20,223.00 L305.20,224.20 C270.95,224.20 270.95,223.35 236.70,223.35 Z" fill="#d7d8d9" fill-opacity="1.0" stroke="#babdc0" stroke-width="0.35"/>
<path d="M236.70,230.30 C270.95,230.30 270.95,230.45 305.20,230.45 L305.20,231.29 C270.95,231.29 270.95,231.70 236.70,231.70 Z" fill="#d7d8d9" fill-opacity="1.0" stroke="#babdc0" stroke-width="0.35"/>
<path d="M236.70,239.75 C270.95,239.75 270.95,231.29 305.20,231.29 L305.20,231.95 C270.95,231.95 270.95,240.65 236.70,240.65 Z" fill="#d7d8d9" fill-opacity="1.0" stroke="#babdc0" stroke-width="0.35"/>
<path d="M236.70,247.40 C270.95,247.40 270.95,239.40 305.20,239.40 L305.20,240.60 C270.95,240.60 270.95,248.40 236.70,248.40 Z" fill="#d7d8d9" fill-opacity="1.0" stroke="#babdc0" stroke-width="0.35"/>
<path d="M236.70,254.95 C270.95,254.95 270.95,248.10 305.20,248.10 L305.20,248.90 C270.95,248.90 270.95,256.05 236.70,256.05 Z" fill="#d7d8d9" fill-opacity="1.0" stroke="#babdc0" stroke-width="0.35"/>
<path d="M236.70,262.95 C270.95,262.95 270.95,255.45 305.20,255.45 L305.20,256.95 C270.95,256.95 270.95,264.65 236.70,264.65 Z" fill="#d7d8d9" fill-opacity="1.0" stroke="#babdc0" stroke-width="0.35"/>
<path d="M236.70,271.85 C270.95,271.85 270.95,263.75 305.20,263.75 L305.20,265.05 C270.95,265.05 270.95,273.15 236.70,273.15 Z" fill="#d7d8d9" fill-opacity="1.0" stroke="#babdc0" stroke-width="0.35"/>
<path d="M236.70,280.85 C270.95,280.85 270.95,271.45 305.20,271.45 L305.20,272.75 C270.95,272.75 270.95,281.95 236.70,281.95 Z" fill="#d7d8d9" fill-opacity="1.0" stroke="#babdc0" stroke-width="0.35"/>
<path d="M236.70,288.55 C270.95,288.55 270.95,281.50 305.20,281.50 L305.20,282.50 C270.95,282.50 270.95,289.65 236.70,289.65 Z" fill="#d7d8d9" fill-opacity="1.0" stroke="#babdc0" stroke-width="0.35"/>
<path d="M236.70,296.85 C270.95,296.85 270.95,288.50 305.20,288.50 L305.20,289.50 C270.95,289.50 270.95,298.35 236.70,298.35 Z" fill="#d7d8d9" fill-opacity="1.0" stroke="#babdc0" stroke-width="0.35"/>
<path d="M236.70,302.75 C270.95,302.75 270.95,293.65 305.20,293.65 L305.20,304.03 C270.95,304.03 270.95,313.95 236.70,313.95 Z" fill="#d7d8d9" fill-opacity="1.0" stroke="#babdc0" stroke-width="0.35"/>
<path d="M236.70,316.65 C270.95,316.65 270.95,304.03 305.20,304.03 L305.20,316.55 C270.95,316.55 270.95,330.35 236.70,330.35 Z" fill="#d7d8d9" fill-opacity="1.0" stroke="#babdc0" stroke-width="0.35"/>
<path d="M236.70,334.15 C270.95,334.15 270.95,319.10 305.20,319.10 L305.20,321.10 C270.95,321.10 270.95,335.85 236.70,335.85 Z" fill="#d7d8d9" fill-opacity="1.0" stroke="#babdc0" stroke-width="0.35"/>
<path d="M313.80,151.75 C332.45,151.75 332.45,212.15 351.10,212.15 L351.10,213.66 C332.45,213.66 332.45,152.85 313.80,152.85 Z" fill="#d7d8d9" fill-opacity="1.0" stroke="#babdc0" stroke-width="0.35"/>
<path d="M313.80,161.00 C332.45,161.00 332.45,213.66 351.10,213.66 L351.10,215.25 C332.45,215.25 332.45,162.20 313.80,162.20 Z" fill="#d7d8d9" fill-opacity="1.0" stroke="#babdc0" stroke-width="0.35"/>
<path d="M313.80,169.70 C332.45,169.70 332.45,217.35 351.10,217.35 L351.10,218.72 C332.45,218.72 332.45,171.10 313.80,171.10 Z" fill="#d7d8d9" fill-opacity="1.0" stroke="#babdc0" stroke-width="0.35"/>
<path d="M313.80,177.95 C332.45,177.95 332.45,218.72 351.10,218.72 L351.10,221.57 C332.45,221.57 332.45,181.85 313.80,181.85 Z" fill="#d7d8d9" fill-opacity="1.0" stroke="#babdc0" stroke-width="0.35"/>
<path d="M313.80,189.00 C332.45,189.00 332.45,221.57 351.10,221.57 L351.10,222.82 C332.45,222.82 332.45,190.20 313.80,190.20 Z" fill="#d7d8d9" fill-opacity="1.0" stroke="#babdc0" stroke-width="0.35"/>
<path d="M313.80,196.75 C332.45,196.75 332.45,222.82 351.10,222.82 L351.10,224.73 C332.45,224.73 332.45,199.05 313.80,199.05 Z" fill="#d7d8d9" fill-opacity="1.0" stroke="#babdc0" stroke-width="0.35"/>
<path d="M313.80,205.90 C332.45,205.90 332.45,224.73 351.10,224.73 L351.10,225.97 C332.45,225.97 332.45,207.10 313.80,207.10 Z" fill="#d7d8d9" fill-opacity="1.0" stroke="#babdc0" stroke-width="0.35"/>
<path d="M313.80,212.55 C332.45,212.55 332.45,225.97 351.10,225.97 L351.10,228.83 C332.45,228.83 332.45,216.45 313.80,216.45 Z" fill="#d7d8d9" fill-opacity="1.0" stroke="#babdc0" stroke-width="0.35"/>
<path d="M313.80,223.00 C332.45,223.00 332.45,228.83 351.10,228.83 L351.10,230.08 C332.45,230.08 332.45,224.20 313.80,224.20 Z" fill="#d7d8d9" fill-opacity="1.0" stroke="#babdc0" stroke-width="0.35"/>
<path d="M313.80,230.45 C332.45,230.45 332.45,230.08 351.10,230.08 L351.10,231.51 C332.45,231.51 332.45,231.95 313.80,231.95 Z" fill="#d7d8d9" fill-opacity="1.0" stroke="#babdc0" stroke-width="0.35"/>
<path d="M313.80,239.40 C332.45,239.40 332.45,231.51 351.10,231.51 L351.10,232.75 C332.45,232.75 332.45,240.60 313.80,240.60 Z" fill="#d7d8d9" fill-opacity="1.0" stroke="#babdc0" stroke-width="0.35"/>
<path d="M313.80,248.10 C332.45,248.10 332.45,232.75 351.10,232.75 L351.10,233.77 C332.45,233.77 332.45,248.90 313.80,248.90 Z" fill="#d7d8d9" fill-opacity="1.0" stroke="#babdc0" stroke-width="0.35"/>
<path d="M313.80,255.45 C332.45,255.45 332.45,233.77 351.10,233.77 L351.10,235.19 C332.45,235.19 332.45,256.95 313.80,256.95 Z" fill="#d7d8d9" fill-opacity="1.0" stroke="#babdc0" stroke-width="0.35"/>
<path d="M313.80,263.75 C332.45,263.75 332.45,235.19 351.10,235.19 L351.10,236.50 C332.45,236.50 332.45,265.05 313.80,265.05 Z" fill="#d7d8d9" fill-opacity="1.0" stroke="#babdc0" stroke-width="0.35"/>
<path d="M313.80,271.45 C332.45,271.45 332.45,236.50 351.10,236.50 L351.10,237.81 C332.45,237.81 332.45,272.75 313.80,272.75 Z" fill="#d7d8d9" fill-opacity="1.0" stroke="#babdc0" stroke-width="0.35"/>
<path d="M313.80,281.50 C332.45,281.50 332.45,237.81 351.10,237.81 L351.10,238.94 C332.45,238.94 332.45,282.50 313.80,282.50 Z" fill="#d7d8d9" fill-opacity="1.0" stroke="#babdc0" stroke-width="0.35"/>
<path d="M313.80,288.50 C332.45,288.50 332.45,238.94 351.10,238.94 L351.10,240.07 C332.45,240.07 332.45,289.50 313.80,289.50 Z" fill="#d7d8d9" fill-opacity="1.0" stroke="#babdc0" stroke-width="0.35"/>
<path d="M313.80,293.65 C332.45,293.65 332.45,240.07 351.10,240.07 L351.10,254.23 C332.45,254.23 332.45,316.55 313.80,316.55 Z" fill="#d7d8d9" fill-opacity="1.0" stroke="#babdc0" stroke-width="0.35"/>
<path d="M313.80,319.10 C332.45,319.10 332.45,254.23 351.10,254.23 L351.10,255.95 C332.45,255.95 332.45,321.10 313.80,321.10 Z" fill="#d7d8d9" fill-opacity="1.0" stroke="#babdc0" stroke-width="0.35"/>
<rect x="140.25" y="49.55" width="7.80" height="2.50" fill="#d3d3d5" stroke="#4a4240" stroke-width="0.7" rx="0" />
<text x="135.80" y="53.40" font-size="7.8" text-anchor="end" font-weight="normal" fill="#231f20" >CR-4</text>
<rect x="140.25" y="56.75" width="7.80" height="2.50" fill="#d3d3d5" stroke="#4a4240" stroke-width="0.7" rx="0" />
<text x="135.80" y="61.60" font-size="7.8" text-anchor="end" font-weight="normal" fill="#231f20" >B26-1</text>
<rect x="140.25" y="63.45" width="7.80" height="2.50" fill="#d3d3d5" stroke="#4a4240" stroke-width="0.7" rx="0" />
<text x="135.80" y="68.20" font-size="7.8" text-anchor="end" font-weight="normal" fill="#231f20" >Nitrososphaerales</text>
<rect x="140.25" y="69.95" width="7.80" height="2.50" fill="#d3d3d5" stroke="#4a4240" stroke-width="0.7" rx="0" />
<text x="135.80" y="74.50" font-size="7.8" text-anchor="end" font-weight="normal" fill="#231f20" >Aminicenantales</text>
<rect x="140.25" y="76.25" width="7.80" height="2.50" fill="#d3d3d5" stroke="#4a4240" stroke-width="0.7" rx="0" />
<text x="135.80" y="80.80" font-size="7.8" text-anchor="end" font-weight="normal" fill="#231f20" >Acidoferrales</text>
<rect x="140.25" y="83.05" width="7.80" height="2.50" fill="#d3d3d5" stroke="#4a4240" stroke-width="0.7" rx="0" />
<text x="135.80" y="87.40" font-size="7.8" text-anchor="end" font-weight="normal" fill="#231f20" >Acidimicrobiales</text>
<rect x="140.25" y="89.75" width="7.80" height="2.50" fill="#d3d3d5" stroke="#4a4240" stroke-width="0.7" rx="0" />
<text x="135.80" y="94.40" font-size="7.8" text-anchor="end" font-weight="normal" fill="#231f20" >Actinomarinales</text>
<rect x="140.25" y="96.65" width="7.80" height="2.50" fill="#d3d3d5" stroke="#4a4240" stroke-width="0.7" rx="0" />
<text x="135.80" y="100.50" font-size="7.8" text-anchor="end" font-weight="normal" fill="#231f20" >UBA5794</text>
<rect x="140.25" y="103.35" width="7.80" height="2.50" fill="#d3d3d5" stroke="#4a4240" stroke-width="0.7" rx="0" />
<text x="135.80" y="107.40" font-size="7.8" text-anchor="end" font-weight="normal" fill="#231f20" >Mycobacteriales</text>
<rect x="140.25" y="109.85" width="7.80" height="2.50" fill="#d3d3d5" stroke="#4a4240" stroke-width="0.7" rx="0" />
<text x="135.80" y="114.50" font-size="7.8" text-anchor="end" font-weight="normal" fill="#231f20" >Bacillales</text>
<rect x="140.25" y="116.15" width="7.80" height="2.50" fill="#d3d3d5" stroke="#4a4240" stroke-width="0.7" rx="0" />
<text x="135.80" y="120.90" font-size="7.8" text-anchor="end" font-weight="normal" fill="#231f20" >Cytophagales</text>
<rect x="140.25" y="123.05" width="7.80" height="2.50" fill="#d3d3d5" stroke="#4a4240" stroke-width="0.7" rx="0" />
<text x="135.80" y="127.40" font-size="7.8" text-anchor="end" font-weight="normal" fill="#231f20" >Flavobacteriales</text>
<rect x="140.25" y="129.75" width="7.80" height="2.50" fill="#d3d3d5" stroke="#4a4240" stroke-width="0.7" rx="0" />
<text x="135.80" y="134.00" font-size="7.8" text-anchor="end" font-weight="normal" fill="#231f20" >Campylobacterales</text>
<rect x="140.25" y="135.85" width="7.80" height="2.50" fill="#d3d3d5" stroke="#4a4240" stroke-width="0.7" rx="0" />
<text x="135.80" y="141.30" font-size="7.8" text-anchor="end" font-weight="normal" fill="#231f20" >Anaerolineales</text>
<rect x="140.25" y="142.65" width="7.80" height="2.50" fill="#d3d3d5" stroke="#4a4240" stroke-width="0.7" rx="0" />
<text x="135.80" y="146.40" font-size="7.8" text-anchor="end" font-weight="normal" fill="#231f20" >SAR202</text>
<rect x="140.25" y="149.05" width="7.80" height="2.50" fill="#d3d3d5" stroke="#4a4240" stroke-width="0.7" rx="0" />
<text x="135.80" y="153.50" font-size="7.8" text-anchor="end" font-weight="normal" fill="#231f20" >SM23-28-2</text>
<rect x="140.25" y="155.85" width="7.80" height="2.50" fill="#d3d3d5" stroke="#4a4240" stroke-width="0.7" rx="0" />
<text x="135.80" y="160.60" font-size="7.8" text-anchor="end" font-weight="normal" fill="#231f20" >UBA3495</text>
<rect x="140.25" y="163.05" width="7.80" height="2.50" fill="#d3d3d5" stroke="#4a4240" stroke-width="0.7" rx="0" />
<text x="135.80" y="167.10" font-size="7.8" text-anchor="end" font-weight="normal" fill="#231f20" >PCC-6307</text>
<rect x="140.25" y="169.15" width="7.80" height="2.50" fill="#d3d3d5" stroke="#4a4240" stroke-width="0.7" rx="0" />
<text x="135.80" y="173.60" font-size="7.8" text-anchor="end" font-weight="normal" fill="#231f20" >Desulfobacterales</text>
<rect x="140.25" y="175.85" width="7.80" height="2.50" fill="#d3d3d5" stroke="#4a4240" stroke-width="0.7" rx="0" />
<text x="135.80" y="179.90" font-size="7.8" text-anchor="end" font-weight="normal" fill="#231f20" >Desulfobulbales</text>
<rect x="140.25" y="182.65" width="7.80" height="2.50" fill="#d3d3d5" stroke="#4a4240" stroke-width="0.7" rx="0" />
<text x="135.80" y="187.00" font-size="7.8" text-anchor="end" font-weight="normal" fill="#231f20" >Desulfuromonadales</text>
<rect x="140.25" y="188.45" width="7.80" height="2.50" fill="#d3d3d5" stroke="#4a4240" stroke-width="0.7" rx="0" />
<text x="135.80" y="193.80" font-size="7.8" text-anchor="end" font-weight="normal" fill="#231f20" >Longimicrobiales</text>
<rect x="140.25" y="195.65" width="7.80" height="2.50" fill="#d3d3d5" stroke="#4a4240" stroke-width="0.7" rx="0" />
<text x="135.80" y="201.30" font-size="7.8" text-anchor="end" font-weight="normal" fill="#231f20" >Marinisomatales</text>
<rect x="140.25" y="202.35" width="7.80" height="2.50" fill="#d3d3d5" stroke="#4a4240" stroke-width="0.7" rx="0" />
<text x="135.80" y="207.30" font-size="7.8" text-anchor="end" font-weight="normal" fill="#231f20" >Methylomirabilales</text>
<rect x="140.25" y="208.05" width="7.80" height="2.50" fill="#d3d3d5" stroke="#4a4240" stroke-width="0.7" rx="0" />
<text x="135.80" y="214.30" font-size="7.8" text-anchor="end" font-weight="normal" fill="#231f20" >Polyangiales</text>
<rect x="140.25" y="215.15" width="7.80" height="2.50" fill="#d3d3d5" stroke="#4a4240" stroke-width="0.7" rx="0" />
<text x="135.80" y="219.90" font-size="7.8" text-anchor="end" font-weight="normal" fill="#231f20" >Nitrospinales</text>
<rect x="140.25" y="221.35" width="7.80" height="2.50" fill="#d3d3d5" stroke="#4a4240" stroke-width="0.7" rx="0" />
<text x="135.80" y="225.80" font-size="7.8" text-anchor="end" font-weight="normal" fill="#231f20" >Nitrospirales</text>
<rect x="140.25" y="227.65" width="7.80" height="2.50" fill="#d3d3d5" stroke="#4a4240" stroke-width="0.7" rx="0" />
<text x="135.80" y="232.80" font-size="7.8" text-anchor="end" font-weight="normal" fill="#231f20" >Caulobacterales</text>
<rect x="140.25" y="234.75" width="7.80" height="2.50" fill="#d3d3d5" stroke="#4a4240" stroke-width="0.7" rx="0" />
<text x="135.80" y="239.50" font-size="7.8" text-anchor="end" font-weight="normal" fill="#231f20" >JACZXZ01</text>
<rect x="140.25" y="241.65" width="7.80" height="2.50" fill="#d3d3d5" stroke="#4a4240" stroke-width="0.7" rx="0" />
<text x="135.80" y="246.40" font-size="7.8" text-anchor="end" font-weight="normal" fill="#231f20" >Kiloniellales</text>
<rect x="140.25" y="248.05" width="7.80" height="2.50" fill="#d3d3d5" stroke="#4a4240" stroke-width="0.7" rx="0" />
<text x="135.80" y="253.20" font-size="7.8" text-anchor="end" font-weight="normal" fill="#231f20" >MED-G09</text>
<rect x="140.25" y="255.15" width="7.80" height="2.50" fill="#d3d3d5" stroke="#4a4240" stroke-width="0.7" rx="0" />
<text x="135.80" y="260.80" font-size="7.8" text-anchor="end" font-weight="normal" fill="#231f20" >Pelagibacterales</text>
<rect x="140.25" y="262.05" width="7.80" height="2.50" fill="#d3d3d5" stroke="#4a4240" stroke-width="0.7" rx="0" />
<text x="135.80" y="266.90" font-size="7.8" text-anchor="end" font-weight="normal" fill="#231f20" >Puniceispirillales</text>
<rect x="140.25" y="269.15" width="7.80" height="2.50" fill="#d3d3d5" stroke="#4a4240" stroke-width="0.7" rx="0" />
<text x="135.80" y="273.70" font-size="7.8" text-anchor="end" font-weight="normal" fill="#231f20" >Rhizobiales</text>
<rect x="140.25" y="275.45" width="7.80" height="2.50" fill="#d3d3d5" stroke="#4a4240" stroke-width="0.7" rx="0" />
<text x="135.80" y="280.40" font-size="7.8" text-anchor="end" font-weight="normal" fill="#231f20" >Rhodobacterales</text>
<rect x="140.25" y="282.65" width="7.80" height="2.50" fill="#d3d3d5" stroke="#4a4240" stroke-width="0.7" rx="0" />
<text x="135.80" y="287.10" font-size="7.8" text-anchor="end" font-weight="normal" fill="#231f20" >Rhodospirillales_A</text>
<rect x="140.25" y="289.75" width="7.80" height="2.50" fill="#d3d3d5" stroke="#4a4240" stroke-width="0.7" rx="0" />
<text x="135.80" y="294.40" font-size="7.8" text-anchor="end" font-weight="normal" fill="#231f20" >SMXQ01</text>
<rect x="140.25" y="296.65" width="7.80" height="2.50" fill="#d3d3d5" stroke="#4a4240" stroke-width="0.7" rx="0" />
<text x="135.80" y="301.20" font-size="7.8" text-anchor="end" font-weight="normal" fill="#231f20" >Sphingomonadales</text>
<rect x="140.25" y="303.75" width="7.80" height="2.50" fill="#d3d3d5" stroke="#4a4240" stroke-width="0.7" rx="0" />
<text x="135.80" y="307.90" font-size="7.8" text-anchor="end" font-weight="normal" fill="#231f20" >Acidiferrobacterales</text>
<rect x="140.25" y="309.45" width="7.80" height="2.50" fill="#d3d3d5" stroke="#4a4240" stroke-width="0.7" rx="0" />
<text x="135.80" y="314.70" font-size="7.8" text-anchor="end" font-weight="normal" fill="#231f20" >Arenicellales</text>
<rect x="140.25" y="317.05" width="7.80" height="2.50" fill="#d3d3d5" stroke="#4a4240" stroke-width="0.7" rx="0" />
<text x="135.80" y="322.40" font-size="7.8" text-anchor="end" font-weight="normal" fill="#231f20" >Burkholderiales</text>
<rect x="140.25" y="323.75" width="7.80" height="2.50" fill="#d3d3d5" stroke="#4a4240" stroke-width="0.7" rx="0" />
<text x="135.80" y="328.40" font-size="7.8" text-anchor="end" font-weight="normal" fill="#231f20" >Enterobacterales</text>
<rect x="140.25" y="330.85" width="7.80" height="2.50" fill="#d3d3d5" stroke="#4a4240" stroke-width="0.7" rx="0" />
<text x="135.80" y="335.40" font-size="7.8" text-anchor="end" font-weight="normal" fill="#231f20" >Enterobacterales_A</text>
<rect x="140.25" y="337.65" width="7.80" height="2.50" fill="#d3d3d5" stroke="#4a4240" stroke-width="0.7" rx="0" />
<text x="135.80" y="342.10" font-size="7.8" text-anchor="end" font-weight="normal" fill="#231f20" >GCA-001735895</text>
<rect x="140.25" y="344.75" width="7.80" height="2.50" fill="#d3d3d5" stroke="#4a4240" stroke-width="0.7" rx="0" />
<text x="135.80" y="349.00" font-size="7.8" text-anchor="end" font-weight="normal" fill="#231f20" >HK1</text>
<rect x="140.25" y="351.65" width="7.80" height="2.50" fill="#d3d3d5" stroke="#4a4240" stroke-width="0.7" rx="0" />
<text x="135.80" y="355.60" font-size="7.8" text-anchor="end" font-weight="normal" fill="#231f20" >PS1</text>
<rect x="140.25" y="358.75" width="7.80" height="2.50" fill="#d3d3d5" stroke="#4a4240" stroke-width="0.7" rx="0" />
<text x="135.80" y="362.80" font-size="7.8" text-anchor="end" font-weight="normal" fill="#231f20" >Pseudomonadales</text>
<rect x="140.25" y="365.85" width="7.80" height="2.50" fill="#d3d3d5" stroke="#4a4240" stroke-width="0.7" rx="0" />
<text x="135.80" y="369.80" font-size="7.8" text-anchor="end" font-weight="normal" fill="#231f20" >SAR86</text>
<rect x="140.25" y="372.75" width="7.80" height="2.50" fill="#d3d3d5" stroke="#4a4240" stroke-width="0.7" rx="0" />
<text x="135.80" y="377.90" font-size="7.8" text-anchor="end" font-weight="normal" fill="#231f20" >UBA11654</text>
<rect x="140.25" y="379.45" width="7.80" height="2.50" fill="#d3d3d5" stroke="#4a4240" stroke-width="0.7" rx="0" />
<text x="135.80" y="385.10" font-size="7.8" text-anchor="end" font-weight="normal" fill="#231f20" >UBA4486</text>
<rect x="140.25" y="386.65" width="7.80" height="2.50" fill="#d3d3d5" stroke="#4a4240" stroke-width="0.7" rx="0" />
<text x="135.80" y="391.20" font-size="7.8" text-anchor="end" font-weight="normal" fill="#231f20" >Woesejales</text>
<rect x="140.25" y="393.35" width="7.80" height="2.50" fill="#d3d3d5" stroke="#4a4240" stroke-width="0.7" rx="0" />
<text x="135.80" y="398.40" font-size="7.8" text-anchor="end" font-weight="normal" fill="#231f20" >Xanthomonadales</text>
<rect x="140.25" y="399.85" width="7.80" height="2.50" fill="#d3d3d5" stroke="#4a4240" stroke-width="0.7" rx="0" />
<text x="135.80" y="404.50" font-size="7.8" text-anchor="end" font-weight="normal" fill="#231f20" >SAR324</text>
<rect x="228.65" y="123.15" width="7.70" height="1.90" fill="#d3d3d5" stroke="#4a4240" stroke-width="0.7" rx="0" />
<text x="225.90" y="124.90" font-size="7.8" text-anchor="end" font-weight="normal" fill="#231f20" >Lokiarchaeia</text>
<rect x="228.65" y="131.45" width="7.70" height="1.90" fill="#d3d3d5" stroke="#4a4240" stroke-width="0.7" rx="0" />
<text x="225.90" y="133.20" font-size="7.8" text-anchor="end" font-weight="normal" fill="#231f20" >Bathyarchaeia</text>
<rect x="228.65" y="139.45" width="7.70" height="1.90" fill="#d3d3d5" stroke="#4a4240" stroke-width="0.7" rx="0" />
<text x="225.90" y="141.20" font-size="7.8" text-anchor="end" font-weight="normal" fill="#231f20" >Nitrososphaeria</text>
<rect x="228.65" y="146.95" width="7.70" height="1.90" fill="#d3d3d5" stroke="#4a4240" stroke-width="0.7" rx="0" />
<text x="225.90" y="148.70" font-size="7.8" text-anchor="end" font-weight="normal" fill="#231f20" >Aminicenantia</text>
<rect x="228.65" y="156.45" width="7.70" height="1.90" fill="#d3d3d5" stroke="#4a4240" stroke-width="0.7" rx="0" />
<text x="225.90" y="158.20" font-size="7.8" text-anchor="end" font-weight="normal" fill="#231f20" >Terriglobia</text>
<rect x="228.65" y="163.65" width="7.70" height="3.70" fill="#d3d3d5" stroke="#4a4240" stroke-width="0.7" rx="0" />
<text x="225.90" y="166.30" font-size="7.8" text-anchor="end" font-weight="normal" fill="#231f20" >Acidimicrobiia</text>
<rect x="228.65" y="173.25" width="7.70" height="1.90" fill="#d3d3d5" stroke="#4a4240" stroke-width="0.7" rx="0" />
<text x="225.90" y="175.00" font-size="7.8" text-anchor="end" font-weight="normal" fill="#231f20" >Actinomycetia</text>
<rect x="228.65" y="181.25" width="7.70" height="1.90" fill="#d3d3d5" stroke="#4a4240" stroke-width="0.7" rx="0" />
<text x="225.90" y="183.00" font-size="7.8" text-anchor="end" font-weight="normal" fill="#231f20" >Bacilli</text>
<rect x="228.65" y="189.60" width="7.70" height="2.20" fill="#d3d3d5" stroke="#4a4240" stroke-width="0.7" rx="0" />
<text x="225.90" y="191.50" font-size="7.8" text-anchor="end" font-weight="normal" fill="#231f20" >Bacteroidia</text>
<rect x="228.65" y="197.55" width="7.70" height="1.90" fill="#d3d3d5" stroke="#4a4240" stroke-width="0.7" rx="0" />
<text x="225.90" y="199.30" font-size="7.8" text-anchor="end" font-weight="normal" fill="#231f20" >Campylobacteria</text>
<rect x="228.65" y="205.05" width="7.70" height="1.90" fill="#d3d3d5" stroke="#4a4240" stroke-width="0.7" rx="0" />
<text x="225.90" y="206.80" font-size="7.8" text-anchor="end" font-weight="normal" fill="#231f20" >Anaerolineae</text>
<rect x="228.65" y="212.40" width="7.70" height="3.20" fill="#d3d3d5" stroke="#4a4240" stroke-width="0.7" rx="0" />
<text x="225.90" y="214.80" font-size="7.8" text-anchor="end" font-weight="normal" fill="#231f20" >Dehalococcoidia</text>
<rect x="228.65" y="221.65" width="7.70" height="1.90" fill="#d3d3d5" stroke="#4a4240" stroke-width="0.7" rx="0" />
<text x="225.90" y="223.40" font-size="7.8" text-anchor="end" font-weight="normal" fill="#231f20" >Cyanobacteriia</text>
<rect x="228.65" y="230.05" width="7.70" height="1.90" fill="#d3d3d5" stroke="#4a4240" stroke-width="0.7" rx="0" />
<text x="225.90" y="231.80" font-size="7.8" text-anchor="end" font-weight="normal" fill="#231f20" >Desulfobacteria</text>
<rect x="228.65" y="239.25" width="7.70" height="1.90" fill="#d3d3d5" stroke="#4a4240" stroke-width="0.7" rx="0" />
<text x="225.90" y="241.00" font-size="7.8" text-anchor="end" font-weight="normal" fill="#231f20" >Desulfobulbia</text>
<rect x="228.65" y="246.95" width="7.70" height="1.90" fill="#d3d3d5" stroke="#4a4240" stroke-width="0.7" rx="0" />
<text x="225.90" y="248.70" font-size="7.8" text-anchor="end" font-weight="normal" fill="#231f20" >Desulfuromonadia</text>
<rect x="228.65" y="254.55" width="7.70" height="1.90" fill="#d3d3d5" stroke="#4a4240" stroke-width="0.7" rx="0" />
<text x="225.90" y="256.30" font-size="7.8" text-anchor="end" font-weight="normal" fill="#231f20" >Gemmatimonadetes</text>
<rect x="228.65" y="262.85" width="7.70" height="1.90" fill="#d3d3d5" stroke="#4a4240" stroke-width="0.7" rx="0" />
<text x="225.90" y="264.60" font-size="7.8" text-anchor="end" font-weight="normal" fill="#231f20" >Marinisomatia</text>
<rect x="228.65" y="271.55" width="7.70" height="1.90" fill="#d3d3d5" stroke="#4a4240" stroke-width="0.7" rx="0" />
<text x="225.90" y="273.30" font-size="7.8" text-anchor="end" font-weight="normal" fill="#231f20" >Methylomirabilia</text>
<rect x="228.65" y="280.45" width="7.70" height="1.90" fill="#d3d3d5" stroke="#4a4240" stroke-width="0.7" rx="0" />
<text x="225.90" y="282.20" font-size="7.8" text-anchor="end" font-weight="normal" fill="#231f20" >Polyangia</text>
<rect x="228.65" y="288.15" width="7.70" height="1.90" fill="#d3d3d5" stroke="#4a4240" stroke-width="0.7" rx="0" />
<text x="225.90" y="289.90" font-size="7.8" text-anchor="end" font-weight="normal" fill="#231f20" >Nitrospinia</text>
<rect x="228.65" y="296.65" width="7.70" height="1.90" fill="#d3d3d5" stroke="#4a4240" stroke-width="0.7" rx="0" />
<text x="225.90" y="298.40" font-size="7.8" text-anchor="end" font-weight="normal" fill="#231f20" >Nitrospiria</text>
<rect x="228.65" y="302.65" width="7.70" height="11.40" fill="#d3d3d5" stroke="#4a4240" stroke-width="0.7" rx="0" />
<text x="225.90" y="309.40" font-size="7.8" text-anchor="end" font-weight="normal" fill="#231f20" >Alphaproteobacteria</text>
<rect x="228.65" y="316.55" width="7.70" height="13.90" fill="#d3d3d5" stroke="#4a4240" stroke-width="0.7" rx="0" />
<text x="225.90" y="325.60" font-size="7.8" text-anchor="end" font-weight="normal" fill="#231f20" >Gammaproteobacteria</text>
<rect x="228.65" y="334.05" width="7.70" height="1.90" fill="#d3d3d5" stroke="#4a4240" stroke-width="0.7" rx="0" />
<text x="225.90" y="337.60" font-size="7.8" text-anchor="end" font-weight="normal" fill="#231f20" >SAR324</text>
<rect x="305.55" y="151.35" width="7.90" height="1.90" fill="#d3d3d5" stroke="#4a4240" stroke-width="0.7" rx="0" />
<text x="303.00" y="153.90" font-size="7.8" text-anchor="end" font-weight="normal" fill="#231f20" >Asgardarchaeota</text>
<rect x="305.55" y="160.65" width="7.90" height="1.90" fill="#d3d3d5" stroke="#4a4240" stroke-width="0.7" rx="0" />
<text x="303.00" y="163.20" font-size="7.8" text-anchor="end" font-weight="normal" fill="#231f20" >Thermoproteota</text>
<rect x="305.55" y="169.45" width="7.90" height="1.90" fill="#d3d3d5" stroke="#4a4240" stroke-width="0.7" rx="0" />
<text x="303.00" y="172.00" font-size="7.8" text-anchor="end" font-weight="normal" fill="#231f20" >Acidobacteriota</text>
<rect x="305.55" y="177.85" width="7.90" height="4.10" fill="#d3d3d5" stroke="#4a4240" stroke-width="0.7" rx="0" />
<text x="303.00" y="181.50" font-size="7.8" text-anchor="end" font-weight="normal" fill="#231f20" >Actinomycetota</text>
<rect x="305.55" y="188.65" width="7.90" height="1.90" fill="#d3d3d5" stroke="#4a4240" stroke-width="0.7" rx="0" />
<text x="303.00" y="191.20" font-size="7.8" text-anchor="end" font-weight="normal" fill="#231f20" >Bacillota</text>
<rect x="305.55" y="196.65" width="7.90" height="2.50" fill="#d3d3d5" stroke="#4a4240" stroke-width="0.7" rx="0" />
<text x="303.00" y="199.50" font-size="7.8" text-anchor="end" font-weight="normal" fill="#231f20" >Bacteroidota</text>
<rect x="305.55" y="205.55" width="7.90" height="1.90" fill="#d3d3d5" stroke="#4a4240" stroke-width="0.7" rx="0" />
<text x="303.00" y="208.10" font-size="7.8" text-anchor="end" font-weight="normal" fill="#231f20" >Campylobacterota</text>
<rect x="305.55" y="212.45" width="7.90" height="4.10" fill="#d3d3d5" stroke="#4a4240" stroke-width="0.7" rx="0" />
<text x="303.00" y="216.10" font-size="7.8" text-anchor="end" font-weight="normal" fill="#231f20" >Chloroflexota</text>
<rect x="305.55" y="222.65" width="7.90" height="1.90" fill="#d3d3d5" stroke="#4a4240" stroke-width="0.7" rx="0" />
<text x="303.00" y="225.20" font-size="7.8" text-anchor="end" font-weight="normal" fill="#231f20" >Cyanobacteriota</text>
<rect x="305.55" y="230.25" width="7.90" height="1.90" fill="#d3d3d5" stroke="#4a4240" stroke-width="0.7" rx="0" />
<text x="303.00" y="232.80" font-size="7.8" text-anchor="end" font-weight="normal" fill="#231f20" >Desulfobacterota</text>
<rect x="305.55" y="239.05" width="7.90" height="1.90" fill="#d3d3d5" stroke="#4a4240" stroke-width="0.7" rx="0" />
<text x="303.00" y="241.60" font-size="7.8" text-anchor="end" font-weight="normal" fill="#231f20" >Desulfobacterota_F</text>
<rect x="305.55" y="247.55" width="7.90" height="1.90" fill="#d3d3d5" stroke="#4a4240" stroke-width="0.7" rx="0" />
<text x="303.00" y="250.10" font-size="7.8" text-anchor="end" font-weight="normal" fill="#231f20" >Gemmatimonadota</text>
<rect x="305.55" y="255.25" width="7.90" height="1.90" fill="#d3d3d5" stroke="#4a4240" stroke-width="0.7" rx="0" />
<text x="303.00" y="257.80" font-size="7.8" text-anchor="end" font-weight="normal" fill="#231f20" >Marinisomatota</text>
<rect x="305.55" y="263.45" width="7.90" height="1.90" fill="#d3d3d5" stroke="#4a4240" stroke-width="0.7" rx="0" />
<text x="303.00" y="266.00" font-size="7.8" text-anchor="end" font-weight="normal" fill="#231f20" >Methylomirabilota</text>
<rect x="305.55" y="271.15" width="7.90" height="1.90" fill="#d3d3d5" stroke="#4a4240" stroke-width="0.7" rx="0" />
<text x="303.00" y="273.70" font-size="7.8" text-anchor="end" font-weight="normal" fill="#231f20" >Myxococcota</text>
<rect x="305.55" y="281.05" width="7.90" height="1.90" fill="#d3d3d5" stroke="#4a4240" stroke-width="0.7" rx="0" />
<text x="303.00" y="283.60" font-size="7.8" text-anchor="end" font-weight="normal" fill="#231f20" >Nitrospinota</text>
<rect x="305.55" y="288.05" width="7.90" height="1.90" fill="#d3d3d5" stroke="#4a4240" stroke-width="0.7" rx="0" />
<text x="303.00" y="290.60" font-size="7.8" text-anchor="end" font-weight="normal" fill="#231f20" >Nitrospirota</text>
<rect x="305.55" y="293.55" width="7.90" height="23.10" fill="#d3d3d5" stroke="#4a4240" stroke-width="0.7" rx="0" />
<text x="303.00" y="309.30" font-size="7.8" text-anchor="end" font-weight="normal" fill="#231f20" >Pseudomonadota</text>
<rect x="305.55" y="319.00" width="7.90" height="2.20" fill="#d3d3d5" stroke="#4a4240" stroke-width="0.7" rx="0" />
<text x="303.00" y="323.00" font-size="7.8" text-anchor="end" font-weight="normal" fill="#231f20" >SAR324</text>
<rect x="351.45" y="212.05" width="7.80" height="3.30" fill="#d3d3d5" stroke="#4a4240" stroke-width="0.7" rx="0" />
<rect x="351.45" y="217.25" width="7.80" height="38.80" fill="#d3d3d5" stroke="#4a4240" stroke-width="0.7" rx="0" />
<text x="349.30" y="215.40" font-size="7.8" text-anchor="end" font-weight="normal" fill="#231f20" >Archaea</text>
<text x="348.80" y="238.90" font-size="7.8" text-anchor="end" font-weight="normal" fill="#231f20" >Bacteria</text>
<line x1="143.50" y1="408.70" x2="359.50" y2="408.70" stroke="#777" stroke-width="0.8" />
<line x1="143.50" y1="405.30" x2="143.50" y2="408.70" stroke="#777" stroke-width="0.8" />
<line x1="227.20" y1="405.30" x2="227.20" y2="408.70" stroke="#777" stroke-width="0.8" />
<line x1="310.40" y1="405.30" x2="310.40" y2="408.70" stroke="#777" stroke-width="0.8" />
<line x1="359.50" y1="405.30" x2="359.50" y2="408.70" stroke="#777" stroke-width="0.8" />
<text x="144.20" y="418.30" font-size="7.6" text-anchor="middle" font-weight="normal" fill="#231f20" >Order</text>
<text x="227.90" y="418.30" font-size="7.6" text-anchor="middle" font-weight="normal" fill="#231f20" >Class</text>
<text x="311.50" y="418.30" font-size="7.6" text-anchor="middle" font-weight="normal" fill="#231f20" >Phylum</text>
<text x="359.50" y="418.30" font-size="7.6" text-anchor="middle" font-weight="normal" fill="#231f20" >Kingdom</text>
<rect x="213.40" y="15.50" width="139.60" height="94.50" fill="white" stroke="#8a8a8a" stroke-width="0.8" rx="5" />
<text x="219.90" y="31.40" font-size="7.75" text-anchor="start" font-weight="normal" fill="#231f20" >Gene abundance (RPKM)</text>
<text x="310.60" y="31.40" font-size="7.75" text-anchor="start" font-weight="normal" fill="#231f20" >:</text>
<text x="228.40" y="47.40" font-size="7.6" text-anchor="start" font-weight="normal" fill="#231f20" >Halogenase</text>
<text x="284.60" y="47.40" font-size="7.6" text-anchor="start" font-weight="normal" fill="#231f20" >Dehalogenase</text>
<rect x="228.40" y="54.15" width="5.30" height="5.30" fill="#4f7b70" stroke="none" stroke-width="0" rx="0" />
<text x="236.30" y="59.40" font-size="7.6" text-anchor="start" font-weight="normal" fill="#231f20" >FlaHase</text>
<rect x="228.40" y="61.80" width="5.30" height="5.30" fill="#2b9e86" stroke="none" stroke-width="0" rx="0" />
<text x="236.30" y="67.05" font-size="7.6" text-anchor="start" font-weight="normal" fill="#231f20" >VanHase</text>
<rect x="228.40" y="69.45" width="5.30" height="5.30" fill="#d6ede9" stroke="none" stroke-width="0" rx="0" />
<text x="236.30" y="74.70" font-size="7.6" text-anchor="start" font-weight="normal" fill="#231f20" >NHFeHase</text>
<rect x="228.40" y="77.10" width="5.30" height="5.30" fill="#a9d48f" stroke="none" stroke-width="0" rx="0" />
<text x="236.30" y="82.35" font-size="7.6" text-anchor="start" font-weight="normal" fill="#231f20" >SAMHase</text>
<rect x="284.00" y="54.15" width="5.30" height="5.30" fill="#efe3d1" stroke="none" stroke-width="0" rx="0" />
<text x="292.30" y="59.40" font-size="7.6" text-anchor="start" font-weight="normal" fill="#231f20" >HyDase</text>
<rect x="284.00" y="61.80" width="5.30" height="5.30" fill="#fbc8b3" stroke="none" stroke-width="0" rx="0" />
<text x="292.30" y="67.05" font-size="7.6" text-anchor="start" font-weight="normal" fill="#231f20" >OxDase</text>
<rect x="284.00" y="69.45" width="5.30" height="5.30" fill="#8ea4da" stroke="none" stroke-width="0" rx="0" />
<text x="292.30" y="74.70" font-size="7.6" text-anchor="start" font-weight="normal" fill="#231f20" >DehyDase</text>
<rect x="284.00" y="77.10" width="5.30" height="5.30" fill="#b5b967" stroke="none" stroke-width="0" rx="0" />
<text x="292.30" y="82.35" font-size="7.6" text-anchor="start" font-weight="normal" fill="#231f20" >HahyDase</text>
<rect x="284.00" y="84.75" width="5.30" height="5.30" fill="#5b83ad" stroke="none" stroke-width="0" rx="0" />
<text x="292.30" y="90.00" font-size="7.6" text-anchor="start" font-weight="normal" fill="#231f20" >GSTDase</text>
<rect x="284.00" y="92.40" width="5.30" height="5.30" fill="#8a55a7" stroke="none" stroke-width="0" rx="0" />
<text x="292.30" y="97.65" font-size="7.6" text-anchor="start" font-weight="normal" fill="#231f20" >MetDase</text>
<rect x="284.00" y="100.05" width="5.30" height="5.30" fill="#dc5661" stroke="none" stroke-width="0" rx="0" />
<text x="292.30" y="105.30" font-size="7.6" text-anchor="start" font-weight="normal" fill="#231f20" >RDase</text>
<circle cx="317.0" cy="33.5" r="2.2" fill="none" stroke="#2a2a2a" stroke-width="1.0"/>
<circle cx="317.1" cy="34.1" r="1.1" fill="#fff" stroke="#2a2a2a" stroke-width="0.7"/>
<path d="M318.4,31.6 C320,27 322.5,24.8 327.4,24.4 M318.9,31.3 C320.6,29.9 322.2,29.5 327.4,29.4 M319.4,33.3 L327.4,33.3" fill="none" stroke="#444" stroke-width="0.5"/>
<text x="327.70" y="24.90" font-size="6.8" text-anchor="start" font-weight="normal" fill="#231f20" >100</text>
<text x="328.20" y="30.70" font-size="6.8" text-anchor="start" font-weight="normal" fill="#231f20" >50</text>
<text x="328.50" y="38.40" font-size="6.8" text-anchor="start" font-weight="normal" fill="#231f20" >25</text>
<text x="364.90" y="8.00" font-size="10.5" text-anchor="start" font-weight="bold" fill="#000" >b</text>
<text x="401.60" y="10.50" font-size="7.6" text-anchor="start" font-weight="normal" fill="#231f20" >Pseudomonadota</text>
<rect x="401.20" y="14.80" width="119.00" height="67.00" fill="white" stroke="none" stroke-width="0" rx="0" />
<line x1="401.20" y1="14.80" x2="401.20" y2="81.80" stroke="#444" stroke-width="0.9" />
<line x1="520.20" y1="14.80" x2="520.20" y2="81.80" stroke="#444" stroke-width="0.9" />
<line x1="401.20" y1="14.80" x2="520.20" y2="14.80" stroke="#b5b5b5" stroke-width="0.9" />
<line x1="401.20" y1="81.80" x2="520.20" y2="81.80" stroke="#aaaaaa" stroke-width="0.9" />
<text x="398.60" y="17.10" font-size="7.6" text-anchor="end" font-weight="normal" fill="#231f20" >0</text>
<line x1="399.60" y1="14.60" x2="401.20" y2="14.60" stroke="#444" stroke-width="0.6" />
<text x="398.60" y="30.10" font-size="7.6" text-anchor="end" font-weight="normal" fill="#231f20" >−1000</text>
<line x1="399.60" y1="27.60" x2="401.20" y2="27.60" stroke="#444" stroke-width="0.6" />
<text x="398.60" y="43.90" font-size="7.6" text-anchor="end" font-weight="normal" fill="#231f20" >−2000</text>
<line x1="399.60" y1="41.40" x2="401.20" y2="41.40" stroke="#444" stroke-width="0.6" />
<text x="398.60" y="57.10" font-size="7.6" text-anchor="end" font-weight="normal" fill="#231f20" >−3000</text>
<line x1="399.60" y1="54.60" x2="401.20" y2="54.60" stroke="#444" stroke-width="0.6" />
<text x="398.60" y="70.20" font-size="7.6" text-anchor="end" font-weight="normal" fill="#231f20" >−4000</text>
<line x1="399.60" y1="67.70" x2="401.20" y2="67.70" stroke="#444" stroke-width="0.6" />
<text x="398.60" y="82.50" font-size="7.6" text-anchor="end" font-weight="normal" fill="#231f20" >−11000</text>
<line x1="399.60" y1="80.00" x2="401.20" y2="80.00" stroke="#444" stroke-width="0.6" />
<rect x="401.20" y="88.40" width="119.00" height="8.40" fill="white" stroke="#444" stroke-width="0.9" rx="0" />
<text x="400.40" y="95.10" font-size="7.6" text-anchor="end" font-weight="normal" fill="#231f20" >sediment</text>
<line x1="401.20" y1="96.80" x2="401.20" y2="98.40" stroke="#444" stroke-width="0.6" />
<text x="401.20" y="105.70" font-size="7.6" text-anchor="middle" font-weight="normal" fill="#231f20" >−90</text>
<line x1="421.03" y1="96.80" x2="421.03" y2="98.40" stroke="#444" stroke-width="0.6" />
<text x="421.03" y="105.70" font-size="7.6" text-anchor="middle" font-weight="normal" fill="#231f20" >−60</text>
<line x1="440.87" y1="96.80" x2="440.87" y2="98.40" stroke="#444" stroke-width="0.6" />
<text x="440.87" y="105.70" font-size="7.6" text-anchor="middle" font-weight="normal" fill="#231f20" >−30</text>
<line x1="460.70" y1="96.80" x2="460.70" y2="98.40" stroke="#444" stroke-width="0.6" />
<text x="460.70" y="105.70" font-size="7.6" text-anchor="middle" font-weight="normal" fill="#231f20" >0</text>
<line x1="480.53" y1="96.80" x2="480.53" y2="98.40" stroke="#444" stroke-width="0.6" />
<text x="480.53" y="105.70" font-size="7.6" text-anchor="middle" font-weight="normal" fill="#231f20" >30</text>
<line x1="500.37" y1="96.80" x2="500.37" y2="98.40" stroke="#444" stroke-width="0.6" />
<text x="500.37" y="105.70" font-size="7.6" text-anchor="middle" font-weight="normal" fill="#231f20" >60</text>
<line x1="520.20" y1="96.80" x2="520.20" y2="98.40" stroke="#444" stroke-width="0.6" />
<text x="520.20" y="105.70" font-size="7.6" text-anchor="middle" font-weight="normal" fill="#231f20" >90</text>
<text transform="translate(370.9,50.6) rotate(-90)" font-size="7.6" text-anchor="middle" fill="#231f20">depth (m)</text>
<circle cx="410.0" cy="15.6" r="1.25" fill="#d9525d" fill-opacity="0.88"/>
<circle cx="414.0" cy="15.3" r="1.25" fill="#d9525d" fill-opacity="0.88"/>
<circle cx="415.5" cy="16.1" r="1.25" fill="#d9525d" fill-opacity="0.88"/>
<circle cx="417.0" cy="15.2" r="1.25" fill="#d9525d" fill-opacity="0.88"/>
<circle cx="418.5" cy="15.9" r="1.25" fill="#d9525d" fill-opacity="0.88"/>
<circle cx="420.0" cy="15.6" r="1.25" fill="#d9525d" fill-opacity="0.88"/>
<circle cx="423.0" cy="15.2" r="1.25" fill="#d9525d" fill-opacity="0.88"/>
<circle cx="426.0" cy="15.9" r="1.25" fill="#d9525d" fill-opacity="0.88"/>
<circle cx="428.5" cy="15.2" r="1.25" fill="#d9525d" fill-opacity="0.88"/>
<circle cx="430.0" cy="15.8" r="1.25" fill="#d9525d" fill-opacity="0.88"/>
<circle cx="434.0" cy="15.2" r="1.25" fill="#d9525d" fill-opacity="0.88"/>
<circle cx="435.5" cy="15.2" r="1.25" fill="#d9525d" fill-opacity="0.88"/>
<circle cx="437.0" cy="15.7" r="1.25" fill="#d9525d" fill-opacity="0.88"/>
<circle cx="438.5" cy="16.3" r="1.25" fill="#d9525d" fill-opacity="0.88"/>
<circle cx="440.0" cy="15.3" r="1.25" fill="#d9525d" fill-opacity="0.88"/>
<circle cx="443.0" cy="15.4" r="1.25" fill="#d9525d" fill-opacity="0.88"/>
<circle cx="444.5" cy="16.0" r="1.25" fill="#d9525d" fill-opacity="0.88"/>
<circle cx="446.0" cy="16.5" r="1.25" fill="#d9525d" fill-opacity="0.88"/>
<circle cx="447.0" cy="16.0" r="1.25" fill="#d9525d" fill-opacity="0.88"/>
<circle cx="449.0" cy="15.7" r="1.25" fill="#d9525d" fill-opacity="0.88"/>
<circle cx="451.0" cy="16.6" r="1.25" fill="#d9525d" fill-opacity="0.88"/>
<circle cx="453.0" cy="15.2" r="1.25" fill="#d9525d" fill-opacity="0.88"/>
<circle cx="455.0" cy="16.4" r="1.25" fill="#d9525d" fill-opacity="0.88"/>
<circle cx="475.8" cy="15.1" r="1.27" fill="#d9525d" fill-opacity="0.88"/>
<circle cx="493.7" cy="15.3" r="1.55" fill="#d9525d" fill-opacity="0.88"/>
<circle cx="478.7" cy="17.0" r="1.24" fill="#d9525d" fill-opacity="0.88" stroke="#4f7b70" stroke-width="0.6" stroke-opacity="0.8"/>
<circle cx="473.0" cy="17.7" r="1.46" fill="#d9525d" fill-opacity="0.88"/>
<circle cx="485.9" cy="16.6" r="1.38" fill="#d9525d" fill-opacity="0.88"/>
<circle cx="489.8" cy="15.6" r="1.54" fill="#d9525d" fill-opacity="0.88"/>
<circle cx="495.8" cy="17.9" r="1.37" fill="#d9525d" fill-opacity="0.88"/>
<circle cx="470.0" cy="16.4" r="1.65" fill="#d9525d" fill-opacity="0.88" stroke="#4f7b70" stroke-width="0.6" stroke-opacity="0.8"/>
<circle cx="482.6" cy="14.6" r="1.60" fill="#d9525d" fill-opacity="0.88"/>
<circle cx="485.5" cy="18.6" r="1.39" fill="#d9525d" fill-opacity="0.88"/>
<circle cx="486.2" cy="17.2" r="1.47" fill="#d9525d" fill-opacity="0.88"/>
<circle cx="498.1" cy="16.7" r="1.60" fill="#d9525d" fill-opacity="0.88" stroke="#4f7b70" stroke-width="0.6" stroke-opacity="0.8"/>
<circle cx="489.9" cy="17.5" r="1.80" fill="#d9525d" fill-opacity="0.88"/>
<circle cx="475.7" cy="16.3" r="1.60" fill="#d9525d" fill-opacity="0.88" stroke="#4f7b70" stroke-width="0.6" stroke-opacity="0.8"/>
<circle cx="481.7" cy="15.2" r="1.27" fill="#d9525d" fill-opacity="0.88" stroke="#4f7b70" stroke-width="0.6" stroke-opacity="0.8"/>
<circle cx="492.1" cy="15.0" r="1.35" fill="#d9525d" fill-opacity="0.88"/>
<circle cx="495.6" cy="14.8" r="1.47" fill="#d9525d" fill-opacity="0.88"/>
<circle cx="496.0" cy="18.3" r="1.72" fill="#d9525d" fill-opacity="0.88"/>
<circle cx="480.1" cy="16.1" r="1.73" fill="#d9525d" fill-opacity="0.88"/>
<circle cx="471.1" cy="15.2" r="1.34" fill="#d9525d" fill-opacity="0.88"/>
<circle cx="482.5" cy="17.2" r="1.36" fill="#d9525d" fill-opacity="0.88" stroke="#4f7b70" stroke-width="0.6" stroke-opacity="0.8"/>
<circle cx="480.2" cy="16.2" r="1.54" fill="#d9525d" fill-opacity="0.88"/>
<circle cx="489.5" cy="16.9" r="1.57" fill="#d9525d" fill-opacity="0.88"/>
<circle cx="467.8" cy="18.7" r="1.67" fill="#d9525d" fill-opacity="0.88"/>
<circle cx="493.1" cy="16.3" r="1.44" fill="#d9525d" fill-opacity="0.88" stroke="#4f7b70" stroke-width="0.6" stroke-opacity="0.8"/>
<circle cx="487.6" cy="14.7" r="1.24" fill="#d9525d" fill-opacity="0.88"/>
<circle cx="471.5" cy="16.0" r="1.23" fill="#d9525d" fill-opacity="0.88" stroke="#4f7b70" stroke-width="0.6" stroke-opacity="0.8"/>
<circle cx="471.1" cy="14.9" r="1.42" fill="#d9525d" fill-opacity="0.88" stroke="#4f7b70" stroke-width="0.6" stroke-opacity="0.8"/>
<circle cx="495.7" cy="17.3" r="1.29" fill="#d9525d" fill-opacity="0.88"/>
<circle cx="477.8" cy="16.1" r="1.27" fill="#d9525d" fill-opacity="0.88"/>
<circle cx="499.8" cy="16.6" r="1.49" fill="#d9525d" fill-opacity="0.88" stroke="#4f7b70" stroke-width="0.6" stroke-opacity="0.8"/>
<circle cx="469.5" cy="16.0" r="1.36" fill="#d9525d" fill-opacity="0.88"/>
<circle cx="471.5" cy="14.5" r="1.77" fill="#d9525d" fill-opacity="0.88"/>
<circle cx="471.0" cy="17.0" r="1.22" fill="#d9525d" fill-opacity="0.88"/>
<circle cx="499.3" cy="18.5" r="1.62" fill="#d9525d" fill-opacity="0.88"/>
<circle cx="478.5" cy="15.2" r="1.66" fill="#d9525d" fill-opacity="0.88"/>
<circle cx="492.5" cy="16.0" r="1.33" fill="#d9525d" fill-opacity="0.88"/>
<circle cx="499.5" cy="18.5" r="1.68" fill="#d9525d" fill-opacity="0.88"/>
<circle cx="491.2" cy="15.5" r="1.51" fill="#d9525d" fill-opacity="0.88"/>
<circle cx="467.0" cy="14.5" r="1.37" fill="#d9525d" fill-opacity="0.88"/>
<circle cx="514.4" cy="21.5" r="1.42" fill="#d9525d" fill-opacity="0.88"/>
<circle cx="518.4" cy="21.5" r="1.38" fill="#d9525d" fill-opacity="0.88"/>
<circle cx="508.1" cy="15.9" r="1.30" fill="#d9525d" fill-opacity="0.88"/>
<circle cx="517.2" cy="20.6" r="1.44" fill="#d9525d" fill-opacity="0.88"/>
<circle cx="515.9" cy="15.0" r="1.53" fill="#d9525d" fill-opacity="0.88"/>
<circle cx="515.6" cy="20.0" r="1.44" fill="#d9525d" fill-opacity="0.88" stroke="#4f7b70" stroke-width="0.6" stroke-opacity="0.8"/>
<circle cx="515.7" cy="16.9" r="1.60" fill="#d9525d" fill-opacity="0.88"/>
<circle cx="510.4" cy="17.4" r="1.67" fill="#d9525d" fill-opacity="0.88"/>
<circle cx="507.3" cy="15.3" r="1.28" fill="#d9525d" fill-opacity="0.88"/>
<circle cx="516.0" cy="15.5" r="1.61" fill="#d9525d" fill-opacity="0.88"/>
<circle cx="513.9" cy="17.0" r="1.47" fill="#d9525d" fill-opacity="0.88" stroke="#4f7b70" stroke-width="0.6" stroke-opacity="0.8"/>
<circle cx="505.2" cy="21.6" r="1.52" fill="#d9525d" fill-opacity="0.88"/>
<circle cx="517.7" cy="17.6" r="1.64" fill="#d9525d" fill-opacity="0.88"/>
<circle cx="507.9" cy="16.3" r="1.35" fill="#d9525d" fill-opacity="0.88"/>
<circle cx="513.0" cy="16.3" r="1.41" fill="#d9525d" fill-opacity="0.88" stroke="#4f7b70" stroke-width="0.6" stroke-opacity="0.8"/>
<circle cx="517.4" cy="17.0" r="1.43" fill="#d9525d" fill-opacity="0.88"/>
<circle cx="517.3" cy="17.5" r="1.66" fill="#d9525d" fill-opacity="0.88"/>
<circle cx="512.2" cy="18.3" r="1.21" fill="#d9525d" fill-opacity="0.88"/>
<circle cx="507.5" cy="14.4" r="1.60" fill="#d9525d" fill-opacity="0.88" stroke="#4f7b70" stroke-width="0.6" stroke-opacity="0.8"/>
<circle cx="511.4" cy="19.8" r="1.48" fill="#d9525d" fill-opacity="0.88"/>
<circle cx="512.0" cy="18.5" r="1.59" fill="#d9525d" fill-opacity="0.88" stroke="#4f7b70" stroke-width="0.6" stroke-opacity="0.8"/>
<circle cx="512.6" cy="16.2" r="1.34" fill="#d9525d" fill-opacity="0.88"/>
<circle cx="478.6" cy="23.5" r="1.48" fill="#d9525d" fill-opacity="0.88"/>
<circle cx="477.7" cy="23.9" r="1.35" fill="#d9525d" fill-opacity="0.88"/>
<circle cx="481.2" cy="22.6" r="1.37" fill="#d9525d" fill-opacity="0.88"/>
<circle cx="484.7" cy="24.6" r="1.54" fill="#d9525d" fill-opacity="0.88"/>
<circle cx="475.1" cy="23.5" r="1.57" fill="#d9525d" fill-opacity="0.88"/>
<circle cx="473.4" cy="20.0" r="1.32" fill="#d9525d" fill-opacity="0.88" stroke="#4f7b70" stroke-width="0.6" stroke-opacity="0.8"/>
<circle cx="474.9" cy="19.6" r="1.43" fill="#d9525d" fill-opacity="0.88"/>
<circle cx="484.1" cy="20.2" r="1.46" fill="#d9525d" fill-opacity="0.88"/>
<circle cx="473.5" cy="26.1" r="1.58" fill="#d9525d" fill-opacity="0.88"/>
<circle cx="484.8" cy="22.2" r="1.34" fill="#d9525d" fill-opacity="0.88"/>
<circle cx="483.2" cy="20.3" r="1.32" fill="#d9525d" fill-opacity="0.88"/>
<circle cx="476.2" cy="20.6" r="1.26" fill="#d9525d" fill-opacity="0.88"/>
<circle cx="471.8" cy="23.4" r="1.32" fill="#d9525d" fill-opacity="0.88" stroke="#4f7b70" stroke-width="0.6" stroke-opacity="0.8"/>
<circle cx="476.1" cy="24.0" r="1.36" fill="#d9525d" fill-opacity="0.88" stroke="#4f7b70" stroke-width="0.6" stroke-opacity="0.8"/>
<circle cx="485.3" cy="25.3" r="1.59" fill="#d9525d" fill-opacity="0.88" stroke="#4f7b70" stroke-width="0.6" stroke-opacity="0.8"/>
<circle cx="475.2" cy="19.3" r="1.49" fill="#d9525d" fill-opacity="0.88"/>
<circle cx="473.3" cy="22.4" r="1.56" fill="#d9525d" fill-opacity="0.88"/>
<circle cx="460.1" cy="15.0" r="1.23" fill="#efdcc3" fill-opacity="0.88"/>
<circle cx="463.6" cy="14.8" r="1.32" fill="#d9525d" fill-opacity="0.88"/>
<circle cx="459.5" cy="16.7" r="1.38" fill="#d9525d" fill-opacity="0.88"/>
<circle cx="463.1" cy="16.5" r="1.24" fill="#d9525d" fill-opacity="0.88"/>
<circle cx="459.8" cy="15.2" r="1.18" fill="#d9525d" fill-opacity="0.88"/>
<circle cx="460.7" cy="15.9" r="1.25" fill="#d9525d" fill-opacity="0.88"/>
<circle cx="458.3" cy="16.3" r="1.39" fill="#d9525d" fill-opacity="0.88"/>
<circle cx="460.1" cy="15.0" r="1.25" fill="#d9525d" fill-opacity="0.88"/>
<circle cx="462.2" cy="15.1" r="1.20" fill="#d9525d" fill-opacity="0.88"/>
<circle cx="459.4" cy="15.4" r="1.40" fill="#d9525d" fill-opacity="0.88"/>
<circle cx="467.9" cy="14.7" r="1.25" fill="#efdcc3" fill-opacity="0.88"/>
<circle cx="516.9" cy="18.4" r="1.12" fill="#efdcc3" fill-opacity="0.88"/>
<circle cx="489.2" cy="19.5" r="1.33" fill="#efdcc3" fill-opacity="0.88"/>
<circle cx="500.1" cy="18.6" r="1.44" fill="#efdcc3" fill-opacity="0.88"/>
<circle cx="516.5" cy="16.9" r="1.11" fill="#efdcc3" fill-opacity="0.88"/>
<circle cx="477.9" cy="16.1" r="1.44" fill="#efdcc3" fill-opacity="0.88"/>
<circle cx="503.9" cy="15.6" r="1.49" fill="#efdcc3" fill-opacity="0.88"/>
<circle cx="517.1" cy="20.8" r="1.01" fill="#efdcc3" fill-opacity="0.88"/>
<circle cx="462.0" cy="20.5" r="1.10" fill="#d9525d" fill-opacity="0.88"/>
<circle cx="465.0" cy="21.0" r="1.10" fill="#d9525d" fill-opacity="0.88"/>
<circle cx="470.5" cy="19.5" r="1.10" fill="#d9525d" fill-opacity="0.88"/>
<circle cx="481.5" cy="23.0" r="1.10" fill="#d9525d" fill-opacity="0.88"/>
<circle cx="484.5" cy="24.5" r="1.10" fill="#d9525d" fill-opacity="0.88"/>
<circle cx="487.0" cy="23.0" r="1.10" fill="#d9525d" fill-opacity="0.88"/>
<circle cx="490.0" cy="23.5" r="1.10" fill="#d9525d" fill-opacity="0.88"/>
<circle cx="501.5" cy="20.0" r="1.10" fill="#d9525d" fill-opacity="0.88"/>
<circle cx="504.0" cy="20.0" r="1.10" fill="#d9525d" fill-opacity="0.88"/>
<circle cx="505.0" cy="23.5" r="1.10" fill="#d9525d" fill-opacity="0.88"/>
<circle cx="490.0" cy="25.6" r="1.10" fill="#d9525d" fill-opacity="0.88"/>
<circle cx="496.5" cy="24.5" r="1.10" fill="#d9525d" fill-opacity="0.88"/>
<circle cx="504.5" cy="23.4" r="1.10" fill="#d9525d" fill-opacity="0.88"/>
<circle cx="475.0" cy="28.4" r="1.10" fill="#d9525d" fill-opacity="0.88"/>
<circle cx="488.0" cy="28.4" r="1.10" fill="#d9525d" fill-opacity="0.88"/>
<circle cx="491.0" cy="28.4" r="1.10" fill="#d9525d" fill-opacity="0.88"/>
<circle cx="497.0" cy="28.4" r="1.10" fill="#d9525d" fill-opacity="0.88"/>
<circle cx="499.5" cy="28.4" r="1.10" fill="#d9525d" fill-opacity="0.88"/>
<circle cx="414.5" cy="19.0" r="1.30" fill="#d9525d" fill-opacity="0.88" stroke="#4f7b70" stroke-width="0.6" stroke-opacity="0.8"/>
<circle cx="416.0" cy="19.0" r="1.30" fill="#d9525d" fill-opacity="0.88" stroke="#4f7b70" stroke-width="0.6" stroke-opacity="0.8"/>
<circle cx="407.5" cy="20.5" r="1.10" fill="#efdcc3" fill-opacity="0.88"/>
<circle cx="407.5" cy="22.2" r="1.00" fill="#d9525d" fill-opacity="0.88"/>
<circle cx="407.5" cy="24.2" r="1.00" fill="#d9525d" fill-opacity="0.88"/>
<circle cx="420.0" cy="21.8" r="1.30" fill="#efdcc3" fill-opacity="0.88"/>
<circle cx="420.0" cy="25.7" r="1.20" fill="#d9525d" fill-opacity="0.88"/>
<circle cx="414.6" cy="28.4" r="1.10" fill="#d9525d" fill-opacity="0.88"/>
<circle cx="416.3" cy="28.4" r="1.10" fill="#d9525d" fill-opacity="0.88"/>
<circle cx="443.5" cy="21.2" r="1.30" fill="#d9525d" fill-opacity="0.88" stroke="#4f7b70" stroke-width="0.6" stroke-opacity="0.8"/>
<circle cx="449.5" cy="19.5" r="1.10" fill="#d9525d" fill-opacity="0.88"/>
<circle cx="445.0" cy="23.8" r="1.30" fill="#d9525d" fill-opacity="0.88"/>
<circle cx="447.5" cy="25.0" r="1.30" fill="#d9525d" fill-opacity="0.88"/>
<circle cx="449.0" cy="26.5" r="1.20" fill="#d9525d" fill-opacity="0.88"/>
<circle cx="451.0" cy="28.2" r="1.10" fill="#d9525d" fill-opacity="0.88"/>
<circle cx="437.0" cy="26.0" r="1.30" fill="#d9525d" fill-opacity="0.88" stroke="#4f7b70" stroke-width="0.6" stroke-opacity="0.8"/>
<circle cx="440.0" cy="24.5" r="1.30" fill="#d9525d" fill-opacity="0.88"/>
<circle cx="440.0" cy="27.0" r="1.40" fill="#d9525d" fill-opacity="0.88" stroke="#4f7b70" stroke-width="0.6" stroke-opacity="0.8"/>
<circle cx="441.5" cy="28.3" r="1.10" fill="#d9525d" fill-opacity="0.88"/>
<circle cx="436.0" cy="27.5" r="1.00" fill="#d9525d" fill-opacity="0.88"/>
<circle cx="455.0" cy="23.0" r="2.40" fill="#d9525d" fill-opacity="0.88" stroke="#4f7b70" stroke-width="0.6" stroke-opacity="0.8"/>
<circle cx="455.0" cy="25.5" r="1.30" fill="#d9525d" fill-opacity="0.88"/>
<circle cx="457.0" cy="21.0" r="1.10" fill="#d9525d" fill-opacity="0.88"/>
<circle cx="455.0" cy="17.0" r="2.30" fill="#d9525d" fill-opacity="0.88" stroke="#4f7b70" stroke-width="0.6" stroke-opacity="0.8"/>
<circle cx="476.5" cy="28.4" r="1.00" fill="#d9525d" fill-opacity="0.88"/>
<circle cx="478.0" cy="28.4" r="1.00" fill="#d9525d" fill-opacity="0.88"/>
<circle cx="507.0" cy="28.4" r="1.10" fill="#4f7b70" fill-opacity="0.88" stroke="#4f7b70" stroke-width="0.6" stroke-opacity="0.8"/>
<circle cx="510.0" cy="28.4" r="1.00" fill="#d9525d" fill-opacity="0.88"/>
<circle cx="514.0" cy="28.4" r="1.00" fill="#d9525d" fill-opacity="0.88"/>
<circle cx="516.0" cy="28.4" r="1.00" fill="#d9525d" fill-opacity="0.88"/>
<circle cx="518.0" cy="28.4" r="1.00" fill="#d9525d" fill-opacity="0.88"/>
<circle cx="478.0" cy="34.6" r="1.00" fill="#d9525d" fill-opacity="0.88"/>
<circle cx="491.0" cy="35.0" r="1.00" fill="#d9525d" fill-opacity="0.88"/>
<circle cx="514.0" cy="35.0" r="1.00" fill="#d9525d" fill-opacity="0.88"/>
<circle cx="468.0" cy="41.7" r="1.10" fill="#d9525d" fill-opacity="0.88" stroke="#4f7b70" stroke-width="0.6" stroke-opacity="0.8"/>
<circle cx="471.0" cy="41.7" r="1.10" fill="#efdcc3" fill-opacity="0.88"/>
<circle cx="478.0" cy="43.2" r="1.00" fill="#d9525d" fill-opacity="0.88"/>
<circle cx="480.0" cy="41.9" r="1.00" fill="#efdcc3" fill-opacity="0.88"/>
<circle cx="473.0" cy="45.1" r="1.20" fill="#d9525d" fill-opacity="0.88" stroke="#4f7b70" stroke-width="0.6" stroke-opacity="0.8"/>
<circle cx="488.6" cy="46.8" r="1.00" fill="#d9525d" fill-opacity="0.88"/>
<circle cx="515.0" cy="45.7" r="1.00" fill="#d9525d" fill-opacity="0.88"/>
<circle cx="496.0" cy="20.5" r="1.20" fill="#d9525d" fill-opacity="0.88" stroke="#4f7b70" stroke-width="0.6" stroke-opacity="0.8"/>
<circle cx="508.0" cy="28.4" r="1.10" fill="#d9525d" fill-opacity="0.88" stroke="#4f7b70" stroke-width="0.6" stroke-opacity="0.8"/>
<circle cx="517.0" cy="18.8" r="1.20" fill="#d9525d" fill-opacity="0.88"/>
<circle cx="436.0" cy="38.4" r="1.00" fill="#d9525d" fill-opacity="0.88"/>
<circle cx="447.5" cy="38.9" r="1.00" fill="#d9525d" fill-opacity="0.88"/>
<circle cx="444.0" cy="43.7" r="1.00" fill="#d9525d" fill-opacity="0.88"/>
<circle cx="441.0" cy="46.8" r="1.00" fill="#d9525d" fill-opacity="0.88"/>
<circle cx="414.5" cy="55.0" r="1.00" fill="#d9525d" fill-opacity="0.88"/>
<circle cx="416.0" cy="62.0" r="1.10" fill="#d9525d" fill-opacity="0.88"/>
<circle cx="441.0" cy="47.1" r="1.00" fill="#d9525d" fill-opacity="0.88"/>
<circle cx="443.0" cy="57.9" r="1.00" fill="#d9525d" fill-opacity="0.88"/>
<circle cx="442.0" cy="61.5" r="1.00" fill="#d9525d" fill-opacity="0.88"/>
<circle cx="442.0" cy="63.3" r="1.00" fill="#d9525d" fill-opacity="0.88"/>
<circle cx="435.0" cy="68.3" r="1.00" fill="#d9525d" fill-opacity="0.88"/>
<circle cx="439.0" cy="68.3" r="1.00" fill="#d9525d" fill-opacity="0.88"/>
<circle cx="440.5" cy="68.3" r="1.10" fill="#d9525d" fill-opacity="0.88" stroke="#4f7b70" stroke-width="0.6" stroke-opacity="0.8"/>
<circle cx="442.0" cy="68.3" r="1.00" fill="#d9525d" fill-opacity="0.88"/>
<circle cx="446.0" cy="67.4" r="1.00" fill="#d9525d" fill-opacity="0.88"/>
<circle cx="450.0" cy="68.3" r="1.10" fill="#d9525d" fill-opacity="0.88" stroke="#4f7b70" stroke-width="0.6" stroke-opacity="0.8"/>
<circle cx="454.5" cy="68.3" r="1.00" fill="#d9525d" fill-opacity="0.88"/>
<circle cx="456.0" cy="68.3" r="1.00" fill="#d9525d" fill-opacity="0.88"/>
<circle cx="457.5" cy="68.3" r="1.00" fill="#d9525d" fill-opacity="0.88"/>
<circle cx="459.0" cy="68.3" r="1.00" fill="#d9525d" fill-opacity="0.88"/>
<circle cx="473.2" cy="46.3" r="1.00" fill="#4f7b70" fill-opacity="0.88"/>
<circle cx="474.6" cy="51.8" r="1.00" fill="#d9525d" fill-opacity="0.88"/>
<circle cx="467.2" cy="55.2" r="1.00" fill="#d9525d" fill-opacity="0.88"/>
<circle cx="468.6" cy="56.3" r="1.00" fill="#d9525d" fill-opacity="0.88"/>
<circle cx="473.7" cy="55.2" r="1.10" fill="#efdcc3" fill-opacity="0.88" stroke="#4f7b70" stroke-width="0.6" stroke-opacity="0.8"/>
<circle cx="490.7" cy="55.2" r="1.00" fill="#d9525d" fill-opacity="0.88"/>
<circle cx="499.0" cy="57.9" r="1.00" fill="#efdcc3" fill-opacity="0.88"/>
<circle cx="507.3" cy="55.2" r="1.00" fill="#d9525d" fill-opacity="0.88"/>
<circle cx="510.0" cy="59.0" r="1.00" fill="#efdcc3" fill-opacity="0.88"/>
<circle cx="514.0" cy="58.0" r="1.00" fill="#d9525d" fill-opacity="0.88"/>
<circle cx="475.5" cy="61.8" r="1.00" fill="#efdcc3" fill-opacity="0.88"/>
<circle cx="480.0" cy="61.8" r="1.00" fill="#efdcc3" fill-opacity="0.88"/>
<circle cx="484.5" cy="61.8" r="0.90" fill="#efdcc3" fill-opacity="0.88"/>
<circle cx="517.0" cy="65.8" r="1.00" fill="#d9525d" fill-opacity="0.88"/>
<circle cx="466.0" cy="68.4" r="1.10" fill="#d9525d" fill-opacity="0.88" stroke="#4f7b70" stroke-width="0.6" stroke-opacity="0.8"/>
<circle cx="468.0" cy="68.4" r="1.20" fill="#d9525d" fill-opacity="0.88"/>
<circle cx="470.0" cy="68.4" r="1.10" fill="#d9525d" fill-opacity="0.88"/>
<circle cx="472.0" cy="68.4" r="1.10" fill="#d9525d" fill-opacity="0.88"/>
<circle cx="474.0" cy="68.4" r="1.10" fill="#d9525d" fill-opacity="0.88" stroke="#4f7b70" stroke-width="0.6" stroke-opacity="0.8"/>
<circle cx="476.0" cy="68.4" r="1.00" fill="#d9525d" fill-opacity="0.88"/>
<circle cx="480.7" cy="68.4" r="1.00" fill="#d9525d" fill-opacity="0.88"/>
<circle cx="483.5" cy="68.4" r="1.00" fill="#d9525d" fill-opacity="0.88"/>
<circle cx="488.5" cy="68.4" r="1.00" fill="#d9525d" fill-opacity="0.88"/>
<circle cx="488.5" cy="70.5" r="1.00" fill="#d9525d" fill-opacity="0.88"/>
<circle cx="467.5" cy="70.5" r="1.00" fill="#d9525d" fill-opacity="0.88"/>
<circle cx="467.5" cy="72.3" r="1.00" fill="#d9525d" fill-opacity="0.88"/>
<circle cx="467.5" cy="74.0" r="1.00" fill="#d9525d" fill-opacity="0.88"/>
<circle cx="467.5" cy="75.8" r="1.00" fill="#d9525d" fill-opacity="0.88"/>
<circle cx="467.5" cy="77.3" r="1.00" fill="#d9525d" fill-opacity="0.88"/>
<circle cx="480.0" cy="72.3" r="1.00" fill="#d9525d" fill-opacity="0.88"/>
<circle cx="484.5" cy="74.5" r="1.00" fill="#efdcc3" fill-opacity="0.88"/>
<circle cx="485.0" cy="72.3" r="0.90" fill="#d9525d" fill-opacity="0.88"/>
<path d="M401.8,74.6 l-1.6,-1.4 M401.8,74.6 l-1.6,1.4 M401.2,74.6 h2" stroke="#333" stroke-width="0.6" fill="none"/>
<circle cx="410.5" cy="92.7" r="1.8" fill="#d9525d" fill-opacity="0.85" stroke="#8fb0a6" stroke-width="0.7"/>
<circle cx="413.0" cy="92.7" r="1.8" fill="#d9525d" fill-opacity="0.85" stroke="#f3c8b8" stroke-width="0.7"/>
<circle cx="415.5" cy="92.7" r="1.6" fill="#d9525d" fill-opacity="0.85" stroke="#8fb0a6" stroke-width="0.7"/>
<circle cx="434.0" cy="92.7" r="1.7" fill="#d9525d" fill-opacity="0.85" stroke="#f3b8b0" stroke-width="0.7"/>
<circle cx="436.5" cy="92.7" r="1.8" fill="#d9525d" fill-opacity="0.85" stroke="#f3b8b0" stroke-width="0.7"/>
<circle cx="439.0" cy="92.7" r="1.7" fill="#d9525d" fill-opacity="0.85" stroke="#8fb0a6" stroke-width="0.7"/>
<circle cx="441.5" cy="92.7" r="1.6" fill="#d9525d" fill-opacity="0.85" stroke="#f3b8b0" stroke-width="0.7"/>
<circle cx="444.5" cy="92.7" r="1.8" fill="#d9525d" fill-opacity="0.85" stroke="#8fb0a6" stroke-width="0.7"/>
<circle cx="447.5" cy="92.7" r="1.9" fill="#d9525d" fill-opacity="0.85" stroke="#8fb0a6" stroke-width="0.7"/>
<circle cx="450.5" cy="92.7" r="1.5" fill="#d9525d" fill-opacity="0.85" stroke="#f3c8b8" stroke-width="0.7"/>
<circle cx="453.0" cy="92.7" r="1.4" fill="#d9525d" fill-opacity="0.85" stroke="#f3c8b8" stroke-width="0.7"/>
<circle cx="458.0" cy="92.7" r="1.5" fill="#d9525d" fill-opacity="0.85" stroke="#f3b8b0" stroke-width="0.7"/>
<circle cx="460.5" cy="92.7" r="1.6" fill="#d9525d" fill-opacity="0.85" stroke="#8fb0a6" stroke-width="0.7"/>
<circle cx="463.0" cy="92.7" r="1.5" fill="#d9525d" fill-opacity="0.85" stroke="#f3b8b0" stroke-width="0.7"/>
<circle cx="465.5" cy="92.7" r="1.4" fill="#d9525d" fill-opacity="0.85" stroke="#f3c8b8" stroke-width="0.7"/>
<circle cx="469.0" cy="92.7" r="2.4" fill="#d9525d" fill-opacity="0.85" stroke="#f3b8b0" stroke-width="0.7"/>
<circle cx="471.5" cy="92.7" r="2.5" fill="#d9525d" fill-opacity="0.85" stroke="#f3b8b0" stroke-width="0.7"/>
<circle cx="474.2" cy="92.7" r="2.3" fill="#d9525d" fill-opacity="0.85" stroke="#8fb0a6" stroke-width="0.7"/>
<circle cx="476.8" cy="92.7" r="2.3" fill="#d9525d" fill-opacity="0.85" stroke="#f3b8b0" stroke-width="0.7"/>
<circle cx="479.5" cy="92.7" r="2.2" fill="#d9525d" fill-opacity="0.85" stroke="#8fb0a6" stroke-width="0.7"/>
<circle cx="482.2" cy="92.7" r="2.0" fill="#d9525d" fill-opacity="0.85" stroke="#f3b8b0" stroke-width="0.7"/>
<circle cx="484.8" cy="92.7" r="2.1" fill="#d9525d" fill-opacity="0.85" stroke="#8fb0a6" stroke-width="0.7"/>
<circle cx="489.0" cy="92.7" r="1.5" fill="#d9525d" fill-opacity="0.85" stroke="#f3c8b8" stroke-width="0.7"/>
<circle cx="506.5" cy="92.7" r="1.9" fill="#d9525d" fill-opacity="0.85" stroke="#8fb0a6" stroke-width="0.7"/>
<circle cx="509.5" cy="92.7" r="1.9" fill="#d9525d" fill-opacity="0.85" stroke="#f3b8b0" stroke-width="0.7"/>
<circle cx="512.5" cy="92.7" r="1.7" fill="#d9525d" fill-opacity="0.85" stroke="#8fb0a6" stroke-width="0.7"/>
<circle cx="486.5" cy="92.7" r="2.3" fill="#fff" fill-opacity="0.6" stroke="#d9525d" stroke-width="0.9"/>
<text x="401.60" y="116.20" font-size="7.6" text-anchor="start" font-weight="normal" fill="#231f20" >Chloroflexota</text>
<rect x="401.20" y="120.60" width="119.20" height="66.30" fill="white" stroke="none" stroke-width="0" rx="0" />
<line x1="401.20" y1="120.60" x2="401.20" y2="186.90" stroke="#444" stroke-width="0.9" />
<line x1="520.40" y1="120.60" x2="520.40" y2="186.90" stroke="#444" stroke-width="0.9" />
<line x1="401.20" y1="120.60" x2="520.40" y2="120.60" stroke="#555" stroke-width="0.9" />
<line x1="401.20" y1="186.90" x2="520.40" y2="186.90" stroke="#555" stroke-width="0.9" />
<text x="398.60" y="122.80" font-size="7.6" text-anchor="end" font-weight="normal" fill="#231f20" >0</text>
<line x1="399.60" y1="120.30" x2="401.20" y2="120.30" stroke="#444" stroke-width="0.6" />
<text x="398.60" y="135.40" font-size="7.6" text-anchor="end" font-weight="normal" fill="#231f20" >−1000</text>
<line x1="399.60" y1="132.90" x2="401.20" y2="132.90" stroke="#444" stroke-width="0.6" />
<text x="398.60" y="148.90" font-size="7.6" text-anchor="end" font-weight="normal" fill="#231f20" >−2000</text>
<line x1="399.60" y1="146.40" x2="401.20" y2="146.40" stroke="#444" stroke-width="0.6" />
<text x="398.60" y="162.10" font-size="7.6" text-anchor="end" font-weight="normal" fill="#231f20" >−3000</text>
<line x1="399.60" y1="159.60" x2="401.20" y2="159.60" stroke="#444" stroke-width="0.6" />
<text x="398.60" y="175.50" font-size="7.6" text-anchor="end" font-weight="normal" fill="#231f20" >−4000</text>
<line x1="399.60" y1="173.00" x2="401.20" y2="173.00" stroke="#444" stroke-width="0.6" />
<text x="398.60" y="187.70" font-size="7.6" text-anchor="end" font-weight="normal" fill="#231f20" >−11000</text>
<line x1="399.60" y1="185.20" x2="401.20" y2="185.20" stroke="#444" stroke-width="0.6" />
<rect x="401.20" y="193.60" width="119.20" height="7.80" fill="white" stroke="#444" stroke-width="0.9" rx="0" />
<text x="400.40" y="200.00" font-size="7.6" text-anchor="end" font-weight="normal" fill="#231f20" >sediment</text>
<line x1="401.20" y1="201.40" x2="401.20" y2="203.00" stroke="#444" stroke-width="0.6" />
<text x="401.20" y="211.00" font-size="7.6" text-anchor="middle" font-weight="normal" fill="#231f20" >−90</text>
<line x1="421.07" y1="201.40" x2="421.07" y2="203.00" stroke="#444" stroke-width="0.6" />
<text x="421.07" y="211.00" font-size="7.6" text-anchor="middle" font-weight="normal" fill="#231f20" >−60</text>
<line x1="440.93" y1="201.40" x2="440.93" y2="203.00" stroke="#444" stroke-width="0.6" />
<text x="440.93" y="211.00" font-size="7.6" text-anchor="middle" font-weight="normal" fill="#231f20" >−30</text>
<line x1="460.80" y1="201.40" x2="460.80" y2="203.00" stroke="#444" stroke-width="0.6" />
<text x="460.80" y="211.00" font-size="7.6" text-anchor="middle" font-weight="normal" fill="#231f20" >0</text>
<line x1="480.67" y1="201.40" x2="480.67" y2="203.00" stroke="#444" stroke-width="0.6" />
<text x="480.67" y="211.00" font-size="7.6" text-anchor="middle" font-weight="normal" fill="#231f20" >30</text>
<line x1="500.53" y1="201.40" x2="500.53" y2="203.00" stroke="#444" stroke-width="0.6" />
<text x="500.53" y="211.00" font-size="7.6" text-anchor="middle" font-weight="normal" fill="#231f20" >60</text>
<line x1="520.40" y1="201.40" x2="520.40" y2="203.00" stroke="#444" stroke-width="0.6" />
<text x="520.40" y="211.00" font-size="7.6" text-anchor="middle" font-weight="normal" fill="#231f20" >90</text>
<text transform="translate(370.9,156.5) rotate(-90)" font-size="7.6" text-anchor="middle" fill="#231f20">depth (m)</text>
<circle cx="407.7" cy="125.3" r="0.95" fill="#d9525d" fill-opacity="0.88"/>
<circle cx="407.7" cy="127.2" r="0.95" fill="#d9525d" fill-opacity="0.88"/>
<circle cx="407.7" cy="129.2" r="0.95" fill="#d9525d" fill-opacity="0.88"/>
<circle cx="416.0" cy="124.2" r="0.95" fill="#efdcc3" fill-opacity="0.88"/>
<circle cx="420.0" cy="131.0" r="0.95" fill="#d9525d" fill-opacity="0.88"/>
<circle cx="415.8" cy="133.6" r="0.95" fill="#4f7b70" fill-opacity="0.88"/>
<circle cx="430.0" cy="122.3" r="0.95" fill="#4f7b70" fill-opacity="0.88"/>
<circle cx="436.0" cy="121.3" r="0.95" fill="#4f7b70" fill-opacity="0.88"/>
<circle cx="441.0" cy="122.3" r="0.95" fill="#f6b49a" fill-opacity="0.88"/>
<circle cx="445.5" cy="122.3" r="0.95" fill="#d9525d" fill-opacity="0.88"/>
<circle cx="447.0" cy="122.3" r="0.95" fill="#efdcc3" fill-opacity="0.88"/>
<circle cx="449.8" cy="122.3" r="0.95" fill="#4f7b70" fill-opacity="0.88"/>
<circle cx="452.5" cy="122.5" r="0.95" fill="#d9525d" fill-opacity="0.88"/>
<circle cx="455.0" cy="122.0" r="0.95" fill="#d9525d" fill-opacity="0.88"/>
<circle cx="449.8" cy="125.0" r="0.95" fill="#d9525d" fill-opacity="0.88"/>
<circle cx="444.0" cy="126.7" r="0.95" fill="#d9525d" fill-opacity="0.88"/>
<circle cx="445.7" cy="129.5" r="0.95" fill="#d9525d" fill-opacity="0.88"/>
<circle cx="447.3" cy="130.9" r="0.95" fill="#d9525d" fill-opacity="0.88"/>
<circle cx="437.6" cy="131.7" r="0.95" fill="#d9525d" fill-opacity="0.88"/>
<circle cx="441.0" cy="130.5" r="0.95" fill="#efdcc3" fill-opacity="0.88"/>
<circle cx="441.5" cy="132.0" r="0.95" fill="#efdcc3" fill-opacity="0.88"/>
<circle cx="439.5" cy="133.8" r="0.95" fill="#f6b49a" fill-opacity="0.88"/>
<circle cx="441.5" cy="133.5" r="0.95" fill="#efdcc3" fill-opacity="0.88"/>
<circle cx="451.0" cy="133.6" r="0.95" fill="#f6b49a" fill-opacity="0.88"/>
<circle cx="455.0" cy="128.2" r="0.95" fill="#f6b49a" fill-opacity="0.88"/>
<circle cx="455.0" cy="131.0" r="0.95" fill="#efdcc3" fill-opacity="0.88"/>
<circle cx="459.8" cy="125.5" r="0.95" fill="#f6b49a" fill-opacity="0.88"/>
<circle cx="436.0" cy="143.8" r="0.95" fill="#f6b49a" fill-opacity="0.88"/>
<circle cx="447.5" cy="144.0" r="0.95" fill="#f6b49a" fill-opacity="0.88"/>
<circle cx="444.0" cy="149.0" r="0.95" fill="#4f7b70" fill-opacity="0.88"/>
<circle cx="441.3" cy="152.4" r="0.95" fill="#efdcc3" fill-opacity="0.88"/>
<circle cx="462.0" cy="125.5" r="0.95" fill="#4f7b70" fill-opacity="0.88"/>
<circle cx="465.0" cy="126.2" r="0.95" fill="#4f7b70" fill-opacity="0.88"/>
<circle cx="467.0" cy="121.5" r="0.95" fill="#efdcc3" fill-opacity="0.88"/>
<circle cx="469.5" cy="122.0" r="0.95" fill="#efdcc3" fill-opacity="0.88"/>
<circle cx="472.0" cy="121.0" r="0.95" fill="#4f7b70" fill-opacity="0.88"/>
<circle cx="473.5" cy="121.0" r="0.95" fill="#efdcc3" fill-opacity="0.88"/>
<circle cx="475.8" cy="121.0" r="0.95" fill="#efdcc3" fill-opacity="0.88"/>
<circle cx="473.5" cy="123.8" r="0.95" fill="#d9525d" fill-opacity="0.88"/>
<circle cx="476.0" cy="122.8" r="0.95" fill="#d9525d" fill-opacity="0.88"/>
<circle cx="478.5" cy="122.8" r="0.95" fill="#d9525d" fill-opacity="0.88"/>
<circle cx="482.0" cy="123.5" r="0.95" fill="#d9525d" fill-opacity="0.88"/>
<circle cx="486.3" cy="123.5" r="0.95" fill="#d9525d" fill-opacity="0.88"/>
<circle cx="493.0" cy="121.5" r="0.95" fill="#d9525d" fill-opacity="0.88"/>
<circle cx="499.0" cy="122.0" r="0.95" fill="#d9525d" fill-opacity="0.88"/>
<circle cx="510.0" cy="123.0" r="0.95" fill="#d9525d" fill-opacity="0.88"/>
<circle cx="512.0" cy="123.5" r="0.95" fill="#d9525d" fill-opacity="0.88"/>
<circle cx="514.0" cy="123.0" r="0.95" fill="#d9525d" fill-opacity="0.88"/>
<circle cx="478.5" cy="126.0" r="0.95" fill="#d9525d" fill-opacity="0.88"/>
<circle cx="481.5" cy="126.0" r="0.95" fill="#4f7b70" fill-opacity="0.88"/>
<circle cx="481.5" cy="127.2" r="0.95" fill="#d9525d" fill-opacity="0.88"/>
<circle cx="476.0" cy="127.0" r="0.95" fill="#d9525d" fill-opacity="0.88"/>
<circle cx="478.5" cy="129.5" r="0.95" fill="#efdcc3" fill-opacity="0.88"/>
<circle cx="482.5" cy="129.3" r="0.95" fill="#d9525d" fill-opacity="0.88"/>
<circle cx="487.0" cy="128.0" r="0.95" fill="#d9525d" fill-opacity="0.88"/>
<circle cx="476.0" cy="130.6" r="0.95" fill="#d9525d" fill-opacity="0.88"/>
<circle cx="478.5" cy="130.8" r="0.95" fill="#efdcc3" fill-opacity="0.88"/>
<circle cx="490.0" cy="131.0" r="0.95" fill="#d9525d" fill-opacity="0.88"/>
<circle cx="497.0" cy="130.5" r="0.95" fill="#d9525d" fill-opacity="0.88"/>
<circle cx="505.5" cy="129.0" r="0.95" fill="#d9525d" fill-opacity="0.88"/>
<circle cx="476.0" cy="133.6" r="0.95" fill="#d9525d" fill-opacity="0.88"/>
<circle cx="478.5" cy="133.8" r="0.95" fill="#efdcc3" fill-opacity="0.88"/>
<circle cx="478.5" cy="140.0" r="0.95" fill="#f6b49a" fill-opacity="0.88"/>
<circle cx="468.5" cy="147.0" r="0.95" fill="#f6b49a" fill-opacity="0.88"/>
<circle cx="471.0" cy="147.0" r="0.95" fill="#4f7b70" fill-opacity="0.88"/>
<circle cx="478.0" cy="148.6" r="0.95" fill="#f6b49a" fill-opacity="0.88"/>
<circle cx="480.0" cy="147.0" r="0.95" fill="#efdcc3" fill-opacity="0.88"/>
<circle cx="473.3" cy="151.4" r="0.95" fill="#f6b49a" fill-opacity="0.88"/>
<circle cx="488.8" cy="152.0" r="0.95" fill="#efdcc3" fill-opacity="0.88"/>
<circle cx="491.0" cy="133.5" r="0.95" fill="#efdcc3" fill-opacity="0.88"/>
<circle cx="517.0" cy="133.6" r="0.95" fill="#efdcc3" fill-opacity="0.88"/>
<circle cx="502.0" cy="125.3" r="0.95" fill="#efdcc3" fill-opacity="0.88"/>
<circle cx="507.0" cy="125.7" r="0.95" fill="#efdcc3" fill-opacity="0.88"/>
<circle cx="513.0" cy="126.0" r="0.95" fill="#efdcc3" fill-opacity="0.88"/>
<circle cx="517.0" cy="123.5" r="0.95" fill="#efdcc3" fill-opacity="0.88"/>
<circle cx="515.0" cy="119.8" r="0.95" fill="#4f7b70" fill-opacity="0.88"/>
<circle cx="499.0" cy="120.0" r="0.95" fill="#4f7b70" fill-opacity="0.88"/>
<circle cx="474.7" cy="157.0" r="0.95" fill="#d9525d" fill-opacity="0.88"/>
<circle cx="467.5" cy="161.2" r="0.95" fill="#f6b49a" fill-opacity="0.88"/>
<circle cx="469.0" cy="162.0" r="0.95" fill="#f6b49a" fill-opacity="0.88"/>
<circle cx="416.6" cy="167.1" r="0.95" fill="#4f7b70" fill-opacity="0.88"/>
<circle cx="443.0" cy="163.0" r="0.95" fill="#f6b49a" fill-opacity="0.88"/>
<circle cx="442.0" cy="167.0" r="0.95" fill="#f6b49a" fill-opacity="0.88"/>
<circle cx="442.0" cy="169.0" r="0.95" fill="#f6b49a" fill-opacity="0.88"/>
<circle cx="475.6" cy="167.0" r="0.95" fill="#efdcc3" fill-opacity="0.88"/>
<circle cx="480.6" cy="167.0" r="0.95" fill="#efdcc3" fill-opacity="0.88"/>
<circle cx="485.0" cy="167.0" r="0.95" fill="#efdcc3" fill-opacity="0.88"/>
<circle cx="490.5" cy="160.5" r="0.95" fill="#efdcc3" fill-opacity="0.88"/>
<circle cx="499.5" cy="163.3" r="0.95" fill="#efdcc3" fill-opacity="0.88"/>
<circle cx="514.0" cy="163.3" r="0.95" fill="#efdcc3" fill-opacity="0.88"/>
<circle cx="517.0" cy="171.0" r="0.95" fill="#efdcc3" fill-opacity="0.88"/>
<circle cx="435.0" cy="173.5" r="0.95" fill="#f6b49a" fill-opacity="0.88"/>
<circle cx="440.0" cy="173.5" r="0.95" fill="#f6b49a" fill-opacity="0.88"/>
<circle cx="441.5" cy="173.5" r="0.95" fill="#f6b49a" fill-opacity="0.88"/>
<circle cx="446.0" cy="173.5" r="0.95" fill="#f6b49a" fill-opacity="0.88"/>
<circle cx="450.5" cy="173.5" r="0.95" fill="#f6b49a" fill-opacity="0.88"/>
<circle cx="455.0" cy="173.5" r="0.95" fill="#f6b49a" fill-opacity="0.88"/>
<circle cx="459.0" cy="173.5" r="0.95" fill="#f6b49a" fill-opacity="0.88"/>
<circle cx="465.0" cy="173.5" r="0.95" fill="#f6b49a" fill-opacity="0.88"/>
<circle cx="467.0" cy="173.5" r="0.95" fill="#f6b49a" fill-opacity="0.88"/>
<circle cx="469.0" cy="173.5" r="0.95" fill="#f6b49a" fill-opacity="0.88"/>
<circle cx="471.0" cy="173.5" r="0.95" fill="#efdcc3" fill-opacity="0.88"/>
<circle cx="473.0" cy="173.5" r="0.95" fill="#f6b49a" fill-opacity="0.88"/>
<circle cx="475.0" cy="173.5" r="0.95" fill="#f6b49a" fill-opacity="0.88"/>
<circle cx="480.5" cy="173.5" r="0.95" fill="#f6b49a" fill-opacity="0.88"/>
<circle cx="482.0" cy="173.5" r="0.95" fill="#f6b49a" fill-opacity="0.88"/>
<circle cx="489.0" cy="173.5" r="0.95" fill="#f6b49a" fill-opacity="0.88"/>
<circle cx="467.0" cy="171.0" r="0.95" fill="#4f7b70" fill-opacity="0.88"/>
<circle cx="481.0" cy="173.3" r="0.95" fill="#4f7b70" fill-opacity="0.88"/>
<circle cx="468.5" cy="174.5" r="0.95" fill="#d9525d" fill-opacity="0.88"/>
<circle cx="468.0" cy="176.5" r="0.95" fill="#f6b49a" fill-opacity="0.88"/>
<circle cx="468.0" cy="178.5" r="0.95" fill="#f6b49a" fill-opacity="0.88"/>
<circle cx="468.0" cy="180.5" r="0.95" fill="#f6b49a" fill-opacity="0.88"/>
<circle cx="468.0" cy="182.0" r="0.95" fill="#f6b49a" fill-opacity="0.88"/>
<circle cx="480.5" cy="176.5" r="0.95" fill="#f6b49a" fill-opacity="0.88"/>
<circle cx="480.5" cy="178.5" r="0.95" fill="#f6b49a" fill-opacity="0.88"/>
<circle cx="480.5" cy="180.0" r="0.95" fill="#f6b49a" fill-opacity="0.88"/>
<circle cx="488.5" cy="176.0" r="0.95" fill="#efdcc3" fill-opacity="0.88"/>
<circle cx="480.6" cy="130.7" r="0.95" fill="#d9525d" fill-opacity="0.88"/>
<circle cx="472.8" cy="121.9" r="0.95" fill="#d9525d" fill-opacity="0.88"/>
<circle cx="484.8" cy="128.4" r="0.95" fill="#d9525d" fill-opacity="0.88"/>
<circle cx="480.2" cy="128.6" r="0.95" fill="#d9525d" fill-opacity="0.88"/>
<circle cx="477.8" cy="122.7" r="0.95" fill="#d9525d" fill-opacity="0.88"/>
<circle cx="470.1" cy="125.0" r="0.95" fill="#d9525d" fill-opacity="0.88"/>
<circle cx="486.5" cy="127.0" r="0.95" fill="#d9525d" fill-opacity="0.88"/>
<circle cx="470.6" cy="130.7" r="0.95" fill="#d9525d" fill-opacity="0.88"/>
<circle cx="476.1" cy="121.0" r="0.95" fill="#d9525d" fill-opacity="0.88"/>
<circle cx="471.4" cy="124.1" r="0.95" fill="#efdcc3" fill-opacity="0.88"/>
<circle cx="473.4" cy="126.6" r="0.95" fill="#d9525d" fill-opacity="0.88"/>
<circle cx="471.5" cy="130.0" r="0.95" fill="#d9525d" fill-opacity="0.88"/>
<circle cx="476.8" cy="121.5" r="0.95" fill="#d9525d" fill-opacity="0.88"/>
<circle cx="475.1" cy="127.9" r="0.95" fill="#d9525d" fill-opacity="0.88"/>
<circle cx="480.0" cy="126.8" r="0.95" fill="#d9525d" fill-opacity="0.88"/>
<circle cx="481.2" cy="128.9" r="0.95" fill="#efdcc3" fill-opacity="0.88"/>
<circle cx="476.6" cy="124.6" r="0.95" fill="#d9525d" fill-opacity="0.88"/>
<circle cx="472.5" cy="129.0" r="0.95" fill="#efdcc3" fill-opacity="0.88"/>
<circle cx="472.5" cy="130.1" r="0.95" fill="#efdcc3" fill-opacity="0.88"/>
<circle cx="485.2" cy="127.9" r="0.95" fill="#efdcc3" fill-opacity="0.88"/>
<circle cx="481.9" cy="126.6" r="0.95" fill="#efdcc3" fill-opacity="0.88"/>
<circle cx="482.8" cy="127.3" r="0.95" fill="#d9525d" fill-opacity="0.88"/>
<circle cx="484.0" cy="127.4" r="0.95" fill="#efdcc3" fill-opacity="0.88"/>
<circle cx="481.6" cy="128.6" r="0.95" fill="#d9525d" fill-opacity="0.88"/>
<circle cx="471.4" cy="121.5" r="0.95" fill="#efdcc3" fill-opacity="0.88"/>
<path d="M401.8,180.0 l-1.6,-1.4 M401.8,180.0 l-1.6,1.4 M401.2,180.0 h2" stroke="#333" stroke-width="0.6" fill="none"/>
<circle cx="413.0" cy="197.5" r="0.90" fill="#efdcc3" fill-opacity="0.88"/>
<circle cx="417.0" cy="197.5" r="1.10" fill="#d9525d" fill-opacity="0.88"/>
<circle cx="435.0" cy="197.5" r="1.00" fill="#efdcc3" fill-opacity="0.88"/>
<circle cx="437.0" cy="197.5" r="1.00" fill="#f6b49a" fill-opacity="0.88"/>
<circle cx="439.0" cy="197.5" r="1.00" fill="#efdcc3" fill-opacity="0.88"/>
<circle cx="441.0" cy="197.5" r="0.90" fill="#d9525d" fill-opacity="0.88"/>
<circle cx="445.0" cy="197.5" r="0.70" fill="#d9525d" fill-opacity="0.88"/>
<circle cx="449.0" cy="197.5" r="0.70" fill="#d9525d" fill-opacity="0.88"/>
<circle cx="452.0" cy="197.5" r="0.70" fill="#d9525d" fill-opacity="0.88"/>
<circle cx="455.0" cy="197.5" r="0.80" fill="#f6b49a" fill-opacity="0.88"/>
<circle cx="460.0" cy="197.5" r="1.00" fill="#efdcc3" fill-opacity="0.88"/>
<circle cx="462.0" cy="197.5" r="1.00" fill="#f6b49a" fill-opacity="0.88"/>
<circle cx="464.0" cy="197.5" r="1.00" fill="#efdcc3" fill-opacity="0.88"/>
<circle cx="467.0" cy="197.5" r="1.10" fill="#d9525d" fill-opacity="0.88"/>
<circle cx="469.0" cy="197.5" r="1.90" fill="#efdcc3" fill-opacity="0.88"/>
<circle cx="471.5" cy="197.5" r="1.40" fill="#d9525d" fill-opacity="0.88"/>
<circle cx="474.0" cy="197.5" r="1.40" fill="#d9525d" fill-opacity="0.88"/>
<circle cx="476.5" cy="197.5" r="1.40" fill="#d9525d" fill-opacity="0.88"/>
<circle cx="479.0" cy="197.5" r="1.50" fill="#d9525d" fill-opacity="0.88"/>
<circle cx="481.5" cy="197.5" r="1.40" fill="#d9525d" fill-opacity="0.88"/>
<circle cx="484.0" cy="197.5" r="1.30" fill="#d9525d" fill-opacity="0.88"/>
<circle cx="486.5" cy="197.5" r="1.50" fill="#d9525d" fill-opacity="0.88"/>
<circle cx="489.0" cy="197.5" r="1.20" fill="#d9525d" fill-opacity="0.88"/>
<circle cx="506.5" cy="197.5" r="1.60" fill="#d9525d" fill-opacity="0.88"/>
<circle cx="509.0" cy="197.5" r="1.70" fill="#d9525d" fill-opacity="0.88"/>
<circle cx="511.5" cy="197.5" r="1.30" fill="#d9525d" fill-opacity="0.88"/>
<circle cx="514.0" cy="197.5" r="0.90" fill="#f6b49a" fill-opacity="0.88"/>
<text x="401.60" y="223.10" font-size="7.6" text-anchor="start" font-weight="normal" fill="#231f20" >Cyanobacteriota</text>
<rect x="401.20" y="227.70" width="119.10" height="18.40" fill="white" stroke="none" stroke-width="0" rx="0" />
<line x1="401.20" y1="227.70" x2="401.20" y2="246.10" stroke="#444" stroke-width="0.9" />
<line x1="520.30" y1="227.70" x2="520.30" y2="246.10" stroke="#444" stroke-width="0.9" />
<line x1="401.20" y1="227.70" x2="520.30" y2="227.70" stroke="#555" stroke-width="0.9" />
<line x1="401.20" y1="246.10" x2="520.30" y2="246.10" stroke="#555" stroke-width="0.9" />
<text x="398.60" y="229.70" font-size="7.6" text-anchor="end" font-weight="normal" fill="#231f20" >0</text>
<line x1="399.60" y1="227.20" x2="401.20" y2="227.20" stroke="#444" stroke-width="0.6" />
<text x="398.60" y="243.10" font-size="7.6" text-anchor="end" font-weight="normal" fill="#231f20" >−1000</text>
<line x1="399.60" y1="240.60" x2="401.20" y2="240.60" stroke="#444" stroke-width="0.6" />
<text x="398.60" y="250.90" font-size="7.6" text-anchor="end" font-weight="normal" fill="#231f20" >−11000</text>
<line x1="399.60" y1="246.10" x2="401.20" y2="246.10" stroke="#444" stroke-width="0.6" />
<rect x="401.20" y="252.70" width="119.10" height="7.60" fill="white" stroke="#444" stroke-width="0.9" rx="0" />
<text x="400.40" y="259.00" font-size="7.6" text-anchor="end" font-weight="normal" fill="#231f20" >sediment</text>
<line x1="401.20" y1="260.30" x2="401.20" y2="261.90" stroke="#444" stroke-width="0.6" />
<text x="401.20" y="268.80" font-size="7.6" text-anchor="middle" font-weight="normal" fill="#231f20" >−90</text>
<line x1="421.05" y1="260.30" x2="421.05" y2="261.90" stroke="#444" stroke-width="0.6" />
<text x="421.05" y="268.80" font-size="7.6" text-anchor="middle" font-weight="normal" fill="#231f20" >−60</text>
<line x1="440.90" y1="260.30" x2="440.90" y2="261.90" stroke="#444" stroke-width="0.6" />
<text x="440.90" y="268.80" font-size="7.6" text-anchor="middle" font-weight="normal" fill="#231f20" >−30</text>
<line x1="460.75" y1="260.30" x2="460.75" y2="261.90" stroke="#444" stroke-width="0.6" />
<text x="460.75" y="268.80" font-size="7.6" text-anchor="middle" font-weight="normal" fill="#231f20" >0</text>
<line x1="480.60" y1="260.30" x2="480.60" y2="261.90" stroke="#444" stroke-width="0.6" />
<text x="480.60" y="268.80" font-size="7.6" text-anchor="middle" font-weight="normal" fill="#231f20" >30</text>
<line x1="500.45" y1="260.30" x2="500.45" y2="261.90" stroke="#444" stroke-width="0.6" />
<text x="500.45" y="268.80" font-size="7.6" text-anchor="middle" font-weight="normal" fill="#231f20" >60</text>
<line x1="520.30" y1="260.30" x2="520.30" y2="261.90" stroke="#444" stroke-width="0.6" />
<text x="520.30" y="268.80" font-size="7.6" text-anchor="middle" font-weight="normal" fill="#231f20" >90</text>
<text transform="translate(370.9,236.8) rotate(-90)" font-size="7.6" text-anchor="middle" fill="#231f20">depth (m)</text>
<circle cx="439.5" cy="228.6" r="1.20" fill="#4f7b70" fill-opacity="0.88"/>
<circle cx="441.0" cy="228.9" r="1.20" fill="#4f7b70" fill-opacity="0.88"/>
<circle cx="442.0" cy="229.2" r="1.10" fill="#4f7b70" fill-opacity="0.88"/>
<circle cx="443.5" cy="230.6" r="0.70" fill="#2b9e86" fill-opacity="0.88"/>
<circle cx="449.7" cy="229.5" r="0.70" fill="#2b9e86" fill-opacity="0.88"/>
<circle cx="455.5" cy="229.5" r="0.70" fill="#2b9e86" fill-opacity="0.88"/>
<circle cx="460.5" cy="228.5" r="0.90" fill="#2b9e86" fill-opacity="0.88"/>
<circle cx="462.0" cy="228.5" r="0.70" fill="#4f7b70" fill-opacity="0.88"/>
<circle cx="468.0" cy="229.4" r="0.80" fill="#2b9e86" fill-opacity="0.88"/>
<circle cx="469.5" cy="229.2" r="0.90" fill="#4f7b70" fill-opacity="0.88"/>
<circle cx="471.0" cy="229.2" r="1.00" fill="#4f7b70" fill-opacity="0.88"/>
<circle cx="472.6" cy="229.4" r="1.00" fill="#4f7b70" fill-opacity="0.88"/>
<circle cx="474.0" cy="229.2" r="0.90" fill="#2b9e86" fill-opacity="0.88"/>
<circle cx="476.5" cy="230.0" r="0.70" fill="#f6b49a" fill-opacity="0.88"/>
<circle cx="481.0" cy="229.5" r="0.70" fill="#2b9e86" fill-opacity="0.88"/>
<circle cx="485.0" cy="229.5" r="0.70" fill="#2b9e86" fill-opacity="0.88"/>
<circle cx="493.5" cy="229.5" r="0.70" fill="#2b9e86" fill-opacity="0.88"/>
<circle cx="499.0" cy="228.3" r="0.70" fill="#2b9e86" fill-opacity="0.88"/>
<circle cx="450.5" cy="241.0" r="0.80" fill="#4f7b70" fill-opacity="0.88"/>
<circle cx="490" cy="228.5" r="1.6" fill="none" stroke="#2b9e86" stroke-width="0.6"/>
<path d="M401.8,243.4 l-1.6,-1.4 M401.8,243.4 l-1.6,1.4 M401.2,243.4 h2" stroke="#333" stroke-width="0.6" fill="none"/>
<circle cx="447.3" cy="256.5" r="0.60" fill="#f6b49a" fill-opacity="0.88"/>
<circle cx="478.6" cy="256.5" r="0.50" fill="#2b9e86" fill-opacity="0.4"/>
<text x="400.00" y="289.70" font-size="7.6" text-anchor="start" font-weight="normal" fill="#231f20" >Asgardarchaeota</text>
<rect x="399.60" y="294.60" width="119.30" height="18.60" fill="white" stroke="none" stroke-width="0" rx="0" />
<line x1="399.60" y1="294.60" x2="399.60" y2="313.20" stroke="#444" stroke-width="0.9" />
<line x1="518.90" y1="294.60" x2="518.90" y2="313.20" stroke="#444" stroke-width="0.9" />
<line x1="399.60" y1="294.60" x2="518.90" y2="294.60" stroke="#555" stroke-width="0.9" />
<line x1="399.60" y1="313.20" x2="518.90" y2="313.20" stroke="#555" stroke-width="0.9" />
<text x="397.00" y="298.90" font-size="7.6" text-anchor="end" font-weight="normal" fill="#231f20" >0</text>
<line x1="398.00" y1="296.40" x2="399.60" y2="296.40" stroke="#444" stroke-width="0.6" />
<text x="397.00" y="314.30" font-size="7.6" text-anchor="end" font-weight="normal" fill="#231f20" >−11000</text>
<line x1="398.00" y1="311.80" x2="399.60" y2="311.80" stroke="#444" stroke-width="0.6" />
<rect x="399.60" y="318.60" width="119.30" height="7.80" fill="white" stroke="#444" stroke-width="0.9" rx="0" />
<text x="398.80" y="325.00" font-size="7.6" text-anchor="end" font-weight="normal" fill="#231f20" >sediment</text>
<line x1="399.60" y1="326.40" x2="399.60" y2="328.00" stroke="#444" stroke-width="0.6" />
<text x="399.60" y="335.50" font-size="7.6" text-anchor="middle" font-weight="normal" fill="#231f20" >−90</text>
<line x1="419.48" y1="326.40" x2="419.48" y2="328.00" stroke="#444" stroke-width="0.6" />
<text x="419.48" y="335.50" font-size="7.6" text-anchor="middle" font-weight="normal" fill="#231f20" >−60</text>
<line x1="439.37" y1="326.40" x2="439.37" y2="328.00" stroke="#444" stroke-width="0.6" />
<text x="439.37" y="335.50" font-size="7.6" text-anchor="middle" font-weight="normal" fill="#231f20" >−30</text>
<line x1="459.25" y1="326.40" x2="459.25" y2="328.00" stroke="#444" stroke-width="0.6" />
<text x="459.25" y="335.50" font-size="7.6" text-anchor="middle" font-weight="normal" fill="#231f20" >0</text>
<line x1="479.13" y1="326.40" x2="479.13" y2="328.00" stroke="#444" stroke-width="0.6" />
<text x="479.13" y="335.50" font-size="7.6" text-anchor="middle" font-weight="normal" fill="#231f20" >30</text>
<line x1="499.02" y1="326.40" x2="499.02" y2="328.00" stroke="#444" stroke-width="0.6" />
<text x="499.02" y="335.50" font-size="7.6" text-anchor="middle" font-weight="normal" fill="#231f20" >60</text>
<line x1="518.90" y1="326.40" x2="518.90" y2="328.00" stroke="#444" stroke-width="0.6" />
<text x="518.90" y="335.50" font-size="7.6" text-anchor="middle" font-weight="normal" fill="#231f20" >90</text>
<text transform="translate(370.9,302.0) rotate(-90)" font-size="7.6" text-anchor="middle" fill="#231f20">depth (m)</text>
<circle cx="464.4" cy="322.5" r="2.0" fill="none" stroke="#d9525d" stroke-width="0.7"/>
<circle cx="470.0" cy="322.5" r="0.60" fill="#d9525d" fill-opacity="0.88"/>
<circle cx="474.5" cy="322.5" r="0.70" fill="#d9525d" fill-opacity="0.88"/>
<circle cx="476.0" cy="322.5" r="0.70" fill="#d9525d" fill-opacity="0.88"/>
<circle cx="477.5" cy="322.5" r="0.70" fill="#d9525d" fill-opacity="0.88"/>
<circle cx="481.0" cy="322.5" r="0.60" fill="#d9525d" fill-opacity="0.88"/>
<circle cx="484.0" cy="322.5" r="0.80" fill="#d9525d" fill-opacity="0.88"/>
<circle cx="485.5" cy="322.5" r="0.90" fill="#d9525d" fill-opacity="0.88"/>
<circle cx="487.0" cy="322.5" r="0.70" fill="#d9525d" fill-opacity="0.88"/>
<circle cx="505.5" cy="322.5" r="1.00" fill="#d9525d" fill-opacity="0.88"/>
<circle cx="507.5" cy="322.5" r="1.20" fill="#d9525d" fill-opacity="0.88"/>
<circle cx="509.5" cy="322.5" r="0.80" fill="#d9525d" fill-opacity="0.88"/>
<text x="399.70" y="353.30" font-size="7.6" text-anchor="start" font-weight="normal" fill="#231f20" >Thermoproteota</text>
<rect x="399.30" y="357.50" width="119.40" height="17.70" fill="white" stroke="none" stroke-width="0" rx="0" />
<line x1="399.30" y1="357.50" x2="399.30" y2="375.20" stroke="#444" stroke-width="0.9" />
<line x1="518.70" y1="357.50" x2="518.70" y2="375.20" stroke="#444" stroke-width="0.9" />
<line x1="399.30" y1="357.50" x2="518.70" y2="357.50" stroke="#555" stroke-width="0.9" />
<line x1="399.30" y1="375.20" x2="518.70" y2="375.20" stroke="#555" stroke-width="0.9" />
<text x="396.70" y="361.10" font-size="7.6" text-anchor="end" font-weight="normal" fill="#231f20" >0</text>
<line x1="397.70" y1="358.60" x2="399.30" y2="358.60" stroke="#444" stroke-width="0.6" />
<text x="396.70" y="376.40" font-size="7.6" text-anchor="end" font-weight="normal" fill="#231f20" >−11000</text>
<line x1="397.70" y1="373.90" x2="399.30" y2="373.90" stroke="#444" stroke-width="0.6" />
<rect x="399.30" y="381.70" width="119.40" height="8.60" fill="white" stroke="#444" stroke-width="0.9" rx="0" />
<text x="398.50" y="388.50" font-size="7.6" text-anchor="end" font-weight="normal" fill="#231f20" >sediment</text>
<line x1="399.30" y1="390.30" x2="399.30" y2="391.90" stroke="#444" stroke-width="0.6" />
<text x="399.30" y="398.90" font-size="7.6" text-anchor="middle" font-weight="normal" fill="#231f20" >−90</text>
<line x1="419.20" y1="390.30" x2="419.20" y2="391.90" stroke="#444" stroke-width="0.6" />
<text x="419.20" y="398.90" font-size="7.6" text-anchor="middle" font-weight="normal" fill="#231f20" >−60</text>
<line x1="439.10" y1="390.30" x2="439.10" y2="391.90" stroke="#444" stroke-width="0.6" />
<text x="439.10" y="398.90" font-size="7.6" text-anchor="middle" font-weight="normal" fill="#231f20" >−30</text>
<line x1="459.00" y1="390.30" x2="459.00" y2="391.90" stroke="#444" stroke-width="0.6" />
<text x="459.00" y="398.90" font-size="7.6" text-anchor="middle" font-weight="normal" fill="#231f20" >0</text>
<line x1="478.90" y1="390.30" x2="478.90" y2="391.90" stroke="#444" stroke-width="0.6" />
<text x="478.90" y="398.90" font-size="7.6" text-anchor="middle" font-weight="normal" fill="#231f20" >30</text>
<line x1="498.80" y1="390.30" x2="498.80" y2="391.90" stroke="#444" stroke-width="0.6" />
<text x="498.80" y="398.90" font-size="7.6" text-anchor="middle" font-weight="normal" fill="#231f20" >60</text>
<line x1="518.70" y1="390.30" x2="518.70" y2="391.90" stroke="#444" stroke-width="0.6" />
<text x="518.70" y="398.90" font-size="7.6" text-anchor="middle" font-weight="normal" fill="#231f20" >90</text>
<text transform="translate(370.9,365.0) rotate(-90)" font-size="7.6" text-anchor="middle" fill="#231f20">depth (m)</text>
<circle cx="409.5" cy="386.0" r="1.40" fill="#efdcc3" fill-opacity="0.88"/>
<circle cx="411.5" cy="386.0" r="1.50" fill="#efdcc3" fill-opacity="0.88"/>
<circle cx="413.0" cy="386.0" r="1.20" fill="#efdcc3" fill-opacity="0.88"/>
<circle cx="432.5" cy="386.0" r="1.10" fill="#efdcc3" fill-opacity="0.88"/>
<circle cx="434.5" cy="386.0" r="1.20" fill="#efdcc3" fill-opacity="0.88"/>
<circle cx="436.5" cy="386.0" r="0.90" fill="#efdcc3" fill-opacity="0.88"/>
<circle cx="444.0" cy="386.0" r="0.60" fill="#efdcc3" fill-opacity="0.88"/>
<circle cx="450.0" cy="386.0" r="0.60" fill="#efdcc3" fill-opacity="0.88"/>
<circle cx="460.5" cy="386.0" r="0.90" fill="#f6b49a" fill-opacity="0.88"/>
<circle cx="462.0" cy="386.0" r="0.80" fill="#efdcc3" fill-opacity="0.88"/>
<circle cx="471.0" cy="386.0" r="0.80" fill="#d9525d" fill-opacity="0.88"/>
<circle cx="473.5" cy="386.0" r="1.40" fill="#d9525d" fill-opacity="0.88"/>
<circle cx="475.5" cy="386.0" r="1.00" fill="#d9525d" fill-opacity="0.88"/>
<circle cx="477.5" cy="386.0" r="1.20" fill="#d9525d" fill-opacity="0.88"/>
<circle cx="480.0" cy="386.0" r="0.80" fill="#d9525d" fill-opacity="0.88"/>
<circle cx="487.0" cy="386.0" r="0.90" fill="#d9525d" fill-opacity="0.88"/>
<circle cx="488.5" cy="386.0" r="0.70" fill="#d9525d" fill-opacity="0.88"/>
<circle cx="507.0" cy="386.0" r="1.90" fill="#d9525d" fill-opacity="0.88"/>
<circle cx="464.8" cy="386.0" r="2.0" fill="white" stroke="#d9525d" stroke-width="0.8"/>
<text x="457.20" y="408.90" font-size="7.6" text-anchor="middle" font-weight="normal" fill="#231f20" >latitude (°)</text>
<text x="525.40" y="8.30" font-size="10.5" text-anchor="start" font-weight="bold" fill="#000" >c</text>
<rect x="537.30" y="17.10" width="65.30" height="11.80" fill="#d4d4d4" stroke="none" stroke-width="0" rx="0" />
<rect x="609.00" y="17.10" width="65.60" height="11.80" fill="#cce8f8" stroke="none" stroke-width="0" rx="0" />
<line x1="537.30" y1="17.10" x2="602.60" y2="17.10" stroke="#555" stroke-width="0.9" />
<line x1="609.00" y1="17.10" x2="674.60" y2="17.10" stroke="#555" stroke-width="0.9" />
<text x="570.00" y="26.20" font-size="7.4" text-anchor="middle" font-weight="normal" fill="#231f20" >all samples</text>
<text x="641.80" y="26.20" font-size="7.4" text-anchor="middle" font-weight="normal" fill="#231f20" >sediment</text>
<line x1="537.50" y1="17.10" x2="537.50" y2="159.70" stroke="#666" stroke-width="0.9" />
<line x1="674.30" y1="17.10" x2="674.30" y2="159.70" stroke="#999" stroke-width="0.9" />
<line x1="602.60" y1="17.10" x2="602.60" y2="159.70" stroke="#9a9a9a" stroke-width="1.1" />
<line x1="608.90" y1="17.10" x2="608.90" y2="159.70" stroke="#9a9a9a" stroke-width="1.1" />
<line x1="537.50" y1="159.70" x2="674.30" y2="159.70" stroke="#555" stroke-width="0.9" />
<path d="M540.90,42.00 C570.65,42.00 570.65,29.40 600.40,29.40 L600.40,30.33 C570.65,30.33 570.65,42.90 540.90,42.90 Z" fill="#78998f" fill-opacity="0.72" stroke="none" stroke-width="0"/>
<path d="M540.90,43.21 C570.65,43.21 570.65,44.33 600.40,44.33" fill="none" stroke="#2b9e86" stroke-width="0.6031413612565445" stroke-opacity="0.6"/>
<path d="M540.90,43.51 C570.65,43.51 570.65,58.40 600.40,58.40 L600.40,65.67 C570.65,65.67 570.65,50.75 540.90,50.75 Z" fill="#efdfcc" fill-opacity="0.62" stroke="none" stroke-width="0"/>
<path d="M540.90,51.00 C570.65,51.00 570.65,118.26 600.40,118.26" fill="none" stroke="#fbc0a8" stroke-width="0.5026178010471205" stroke-opacity="0.7000000000000001"/>
<path d="M540.90,51.42 C570.65,51.42 570.65,154.78 600.40,154.78" fill="none" stroke="#dc5661" stroke-width="0.45" stroke-opacity="0.7000000000000001"/>
<path d="M540.90,56.90 C570.65,56.90 570.65,30.33 600.40,30.33 L600.40,32.31 C570.65,32.31 570.65,58.81 540.90,58.81 Z" fill="#78998f" fill-opacity="0.72" stroke="none" stroke-width="0"/>
<path d="M540.90,59.01 C570.65,59.01 570.65,44.88 600.40,44.88" fill="none" stroke="#2b9e86" stroke-width="0.45" stroke-opacity="0.6"/>
<path d="M540.90,59.26 C570.65,59.26 570.65,50.25 600.40,50.25" fill="none" stroke="#9fd4c8" stroke-width="0.45" stroke-opacity="0.65"/>
<path d="M540.90,59.31 C570.65,59.31 570.65,65.67 600.40,65.67 L600.40,77.78 C570.65,77.78 570.65,71.39 540.90,71.39 Z" fill="#efdfcc" fill-opacity="0.62" stroke="none" stroke-width="0"/>
<path d="M540.90,71.39 C570.65,71.39 570.65,118.53 600.40,118.53 L600.40,119.89 C570.65,119.89 570.65,72.70 540.90,72.70 Z" fill="#fbc0a8" fill-opacity="0.55" stroke="none" stroke-width="0"/>
<path d="M540.90,72.75 C570.65,72.75 570.65,135.25 600.40,135.25" fill="none" stroke="#8ea4da" stroke-width="0.45" stroke-opacity="0.65"/>
<path d="M540.90,73.05 C570.65,73.05 570.65,155.22 600.40,155.22" fill="none" stroke="#dc5661" stroke-width="0.5030674846625767" stroke-opacity="0.7000000000000001"/>
<path d="M540.90,78.50 C570.65,78.50 570.65,32.31 600.40,32.31 L600.40,35.43 C570.65,35.43 570.65,81.43 540.90,81.43 Z" fill="#78998f" fill-opacity="0.72" stroke="none" stroke-width="0"/>
<path d="M540.90,81.58 C570.65,81.58 570.65,45.26 600.40,45.26" fill="none" stroke="#2b9e86" stroke-width="0.45" stroke-opacity="0.6"/>
<path d="M540.90,81.73 C570.65,81.73 570.65,77.78 600.40,77.78 L600.40,92.92 C570.65,92.92 570.65,96.38 540.90,96.38 Z" fill="#efdfcc" fill-opacity="0.62" stroke="none" stroke-width="0"/>
<path d="M540.90,96.38 C570.65,96.38 570.65,119.89 600.40,119.89 L600.40,122.41 C570.65,122.41 570.65,98.73 540.90,98.73 Z" fill="#fbc0a8" fill-opacity="0.55" stroke="none" stroke-width="0"/>
<path d="M540.90,98.83 C570.65,98.83 570.65,135.30 600.40,135.30" fill="none" stroke="#8ea4da" stroke-width="0.45" stroke-opacity="0.65"/>
<path d="M540.90,98.97 C570.65,98.97 570.65,139.87 600.40,139.87" fill="none" stroke="#b5b967" stroke-width="0.45" stroke-opacity="0.7000000000000001"/>
<path d="M540.90,99.12 C570.65,99.12 570.65,145.19 600.40,145.19" fill="none" stroke="#5b83ad" stroke-width="0.45" stroke-opacity="0.7000000000000001"/>
<path d="M540.90,99.27 C570.65,99.27 570.65,150.45 600.40,150.45" fill="none" stroke="#8a55a7" stroke-width="0.45" stroke-opacity="0.65"/>
<path d="M540.90,99.66 C570.65,99.66 570.65,155.84 600.40,155.84" fill="none" stroke="#dc5661" stroke-width="0.6840909090909091" stroke-opacity="0.7000000000000001"/>
<path d="M540.90,105.00 C570.65,105.00 570.65,35.43 600.40,35.43 L600.40,39.06 C570.65,39.06 570.65,108.46 540.90,108.46 Z" fill="#78998f" fill-opacity="0.72" stroke="none" stroke-width="0"/>
<path d="M540.90,108.61 C570.65,108.61 570.65,45.59 600.40,45.59" fill="none" stroke="#2b9e86" stroke-width="0.45" stroke-opacity="0.6"/>
<path d="M540.90,108.81 C570.65,108.81 570.65,54.05 600.40,54.05" fill="none" stroke="#a9d48f" stroke-width="0.45" stroke-opacity="0.65"/>
<path d="M540.90,108.86 C570.65,108.86 570.65,92.92 600.40,92.92 L600.40,108.56 C570.65,108.56 570.65,124.18 540.90,124.18 Z" fill="#efdfcc" fill-opacity="0.62" stroke="none" stroke-width="0"/>
<path d="M540.90,124.18 C570.65,124.18 570.65,122.41 600.40,122.41 L600.40,127.66 C570.65,127.66 570.65,129.12 540.90,129.12 Z" fill="#fbc0a8" fill-opacity="0.55" stroke="none" stroke-width="0"/>
<path d="M540.90,129.22 C570.65,129.22 570.65,135.30 600.40,135.30" fill="none" stroke="#8ea4da" stroke-width="0.45" stroke-opacity="0.65"/>
<path d="M540.90,129.52 C570.65,129.52 570.65,140.21 600.40,140.21" fill="none" stroke="#b5b967" stroke-width="0.45" stroke-opacity="0.7000000000000001"/>
<path d="M540.90,129.81 C570.65,129.81 570.65,145.56 600.40,145.56" fill="none" stroke="#5b83ad" stroke-width="0.45" stroke-opacity="0.7000000000000001"/>
<path d="M540.90,129.96 C570.65,129.96 570.65,150.45 600.40,150.45" fill="none" stroke="#8a55a7" stroke-width="0.45" stroke-opacity="0.65"/>
<path d="M540.90,130.01 C570.65,130.01 570.65,156.20 600.40,156.20 L600.40,157.23 C570.65,157.23 570.65,131.00 540.90,131.00 Z" fill="#dc5661" fill-opacity="0.55" stroke="none" stroke-width="0"/>
<path d="M540.90,136.10 C570.65,136.10 570.65,39.06 600.40,39.06 L600.40,40.10 C570.65,40.10 570.65,136.97 540.90,136.97 Z" fill="#78998f" fill-opacity="0.72" stroke="none" stroke-width="0"/>
<path d="M540.90,137.19 C570.65,137.19 570.65,46.03 600.40,46.03" fill="none" stroke="#2b9e86" stroke-width="0.45" stroke-opacity="0.6"/>
<path d="M540.90,137.41 C570.65,137.41 570.65,108.56 600.40,108.56 L600.40,112.90 C570.65,112.90 570.65,141.17 540.90,141.17 Z" fill="#efdfcc" fill-opacity="0.62" stroke="none" stroke-width="0"/>
<path d="M540.90,141.17 C570.65,141.17 570.65,127.66 600.40,127.66 L600.40,130.60 C570.65,130.60 570.65,143.62 540.90,143.62 Z" fill="#fbc0a8" fill-opacity="0.55" stroke="none" stroke-width="0"/>
<path d="M540.90,143.71 C570.65,143.71 570.65,135.29 600.40,135.29" fill="none" stroke="#8ea4da" stroke-width="0.45" stroke-opacity="0.65"/>
<path d="M540.90,144.06 C570.65,144.06 570.65,140.89 600.40,140.89" fill="none" stroke="#b5b967" stroke-width="0.525" stroke-opacity="0.7000000000000001"/>
<path d="M540.90,144.46 C570.65,144.46 570.65,146.02 600.40,146.02" fill="none" stroke="#5b83ad" stroke-width="0.45" stroke-opacity="0.7000000000000001"/>
<path d="M540.90,144.63 C570.65,144.63 570.65,150.44 600.40,150.44" fill="none" stroke="#8a55a7" stroke-width="0.45" stroke-opacity="0.65"/>
<path d="M540.90,144.67 C570.65,144.67 570.65,157.23 600.40,157.23 L600.40,159.50 C570.65,159.50 570.65,146.60 540.90,146.60 Z" fill="#dc5661" fill-opacity="0.55" stroke="none" stroke-width="0"/>
<path d="M611.60,29.55 C641.05,29.55 641.05,64.94 670.50,64.94" fill="none" stroke="#78998f" stroke-width="0.45" stroke-opacity="0.87"/>
<path d="M611.60,44.65 C641.05,44.65 641.05,65.12 670.50,65.12" fill="none" stroke="#2b9e86" stroke-width="0.45" stroke-opacity="0.6"/>
<path d="M611.60,58.40 C641.05,58.40 641.05,65.16 670.50,65.16 L670.50,66.96 C641.05,66.96 641.05,60.80 611.60,60.80 Z" fill="#efdfcc" fill-opacity="0.62" stroke="none" stroke-width="0"/>
<path d="M611.60,118.28 C641.05,118.28 641.05,67.10 670.50,67.10" fill="none" stroke="#fbc0a8" stroke-width="0.45" stroke-opacity="0.7000000000000001"/>
<path d="M611.60,135.22 C641.05,135.22 641.05,67.26 670.50,67.26" fill="none" stroke="#8ea4da" stroke-width="0.45" stroke-opacity="0.65"/>
<path d="M611.60,140.15 C641.05,140.15 641.05,67.32 670.50,67.32" fill="none" stroke="#b5b967" stroke-width="0.45" stroke-opacity="0.7000000000000001"/>
<path d="M611.60,154.60 C641.05,154.60 641.05,67.37 670.50,67.37 L670.50,68.90 C641.05,68.90 641.05,156.06 611.60,156.06 Z" fill="#dc5661" fill-opacity="0.55" stroke="none" stroke-width="0"/>
<path d="M611.60,30.12 C641.05,30.12 641.05,74.18 670.50,74.18" fill="none" stroke="#78998f" stroke-width="0.7574468085106387" stroke-opacity="0.87"/>
<path d="M611.60,44.69 C641.05,44.69 641.05,74.65 670.50,74.65" fill="none" stroke="#2b9e86" stroke-width="0.45" stroke-opacity="0.6"/>
<path d="M611.60,60.80 C641.05,60.80 641.05,74.75 670.50,74.75 L670.50,80.05 C641.05,80.05 641.05,67.53 611.60,67.53 Z" fill="#efdfcc" fill-opacity="0.62" stroke="none" stroke-width="0"/>
<path d="M611.60,118.87 C641.05,118.87 641.05,80.38 670.50,80.38" fill="none" stroke="#fbc0a8" stroke-width="0.6627659574468089" stroke-opacity="0.7000000000000001"/>
<path d="M611.60,135.25 C641.05,135.25 641.05,80.76 670.50,80.76" fill="none" stroke="#8ea4da" stroke-width="0.45" stroke-opacity="0.65"/>
<path d="M611.60,140.15 C641.05,140.15 641.05,80.85 670.50,80.85" fill="none" stroke="#b5b967" stroke-width="0.45" stroke-opacity="0.7000000000000001"/>
<path d="M611.60,145.65 C641.05,145.65 641.05,80.95 670.50,80.95" fill="none" stroke="#5b83ad" stroke-width="0.45" stroke-opacity="0.7000000000000001"/>
<path d="M611.60,156.06 C641.05,156.06 641.05,81.00 670.50,81.00 L670.50,82.70 C641.05,82.70 641.05,157.61 611.60,157.61 Z" fill="#dc5661" fill-opacity="0.55" stroke="none" stroke-width="0"/>
<path d="M611.60,30.54 C641.05,30.54 641.05,89.30 670.50,89.30 L670.50,90.31 C641.05,90.31 641.05,31.57 611.60,31.57 Z" fill="#78998f" fill-opacity="0.72" stroke="none" stroke-width="0"/>
<path d="M611.60,44.75 C641.05,44.75 641.05,90.46 670.50,90.46" fill="none" stroke="#2b9e86" stroke-width="0.45" stroke-opacity="0.6"/>
<path d="M611.60,67.53 C641.05,67.53 641.05,90.61 670.50,90.61 L670.50,101.68 C641.05,101.68 641.05,80.73 611.60,80.73 Z" fill="#efdfcc" fill-opacity="0.62" stroke="none" stroke-width="0"/>
<path d="M611.60,119.29 C641.05,119.29 641.05,101.68 670.50,101.68 L670.50,102.89 C641.05,102.89 641.05,120.72 611.60,120.72 Z" fill="#fbc0a8" fill-opacity="0.55" stroke="none" stroke-width="0"/>
<path d="M611.60,135.25 C641.05,135.25 641.05,102.94 670.50,102.94" fill="none" stroke="#8ea4da" stroke-width="0.45" stroke-opacity="0.65"/>
<path d="M611.60,140.20 C641.05,140.20 641.05,103.09 670.50,103.09" fill="none" stroke="#b5b967" stroke-width="0.45" stroke-opacity="0.7000000000000001"/>
<path d="M611.60,145.65 C641.05,145.65 641.05,103.24 670.50,103.24" fill="none" stroke="#5b83ad" stroke-width="0.45" stroke-opacity="0.7000000000000001"/>
<path d="M611.60,157.61 C641.05,157.61 641.05,103.29 670.50,103.29 L670.50,104.30 C641.05,104.30 641.05,158.47 611.60,158.47 Z" fill="#dc5661" fill-opacity="0.55" stroke="none" stroke-width="0"/>
<path d="M611.60,31.57 C641.05,31.57 641.05,109.10 670.50,109.10 L670.50,110.06 C641.05,110.06 641.05,32.50 611.60,32.50 Z" fill="#78998f" fill-opacity="0.72" stroke="none" stroke-width="0"/>
<path d="M611.60,44.71 C641.05,44.71 641.05,110.17 670.50,110.17" fill="none" stroke="#2b9e86" stroke-width="0.45" stroke-opacity="0.6"/>
<path d="M611.60,80.73 C641.05,80.73 641.05,110.28 670.50,110.28 L670.50,119.71 C641.05,119.71 641.05,91.30 611.60,91.30 Z" fill="#efdfcc" fill-opacity="0.62" stroke="none" stroke-width="0"/>
<path d="M611.60,120.72 C641.05,120.72 641.05,119.71 670.50,119.71 L670.50,121.32 C641.05,121.32 641.05,122.50 611.60,122.50 Z" fill="#fbc0a8" fill-opacity="0.55" stroke="none" stroke-width="0"/>
<path d="M611.60,135.25 C641.05,135.25 641.05,121.37 670.50,121.37" fill="none" stroke="#8ea4da" stroke-width="0.45" stroke-opacity="0.65"/>
<path d="M611.60,140.26 C641.05,140.26 641.05,121.59 670.50,121.59" fill="none" stroke="#b5b967" stroke-width="0.45" stroke-opacity="0.7000000000000001"/>
<path d="M611.60,145.71 C641.05,145.71 641.05,121.85 670.50,121.85" fill="none" stroke="#5b83ad" stroke-width="0.45" stroke-opacity="0.7000000000000001"/>
<path d="M611.60,150.43 C641.05,150.43 641.05,121.99 670.50,121.99" fill="none" stroke="#8a55a7" stroke-width="0.45" stroke-opacity="0.65"/>
<path d="M611.60,158.47 C641.05,158.47 641.05,122.01 670.50,122.01 L670.50,123.30 C641.05,123.30 641.05,159.50 611.60,159.50 Z" fill="#dc5661" fill-opacity="0.55" stroke="none" stroke-width="0"/>
<rect x="537.60" y="42.00" width="3.30" height="9.60" fill="#a8a8a8" stroke="none" stroke-width="0" rx="0" />
<rect x="537.60" y="56.90" width="3.30" height="16.40" fill="#a8a8a8" stroke="none" stroke-width="0" rx="0" />
<rect x="537.60" y="78.50" width="3.30" height="21.50" fill="#a8a8a8" stroke="none" stroke-width="0" rx="0" />
<rect x="537.60" y="105.00" width="3.30" height="26.00" fill="#a8a8a8" stroke="none" stroke-width="0" rx="0" />
<rect x="537.60" y="136.10" width="3.30" height="10.50" fill="#a8a8a8" stroke="none" stroke-width="0" rx="0" />
<rect x="670.50" y="64.80" width="3.20" height="4.10" fill="#bfe2f6" stroke="none" stroke-width="0" rx="0" />
<rect x="670.50" y="73.80" width="3.20" height="8.90" fill="#bfe2f6" stroke="none" stroke-width="0" rx="0" />
<rect x="670.50" y="89.30" width="3.20" height="15.00" fill="#bfe2f6" stroke="none" stroke-width="0" rx="0" />
<rect x="670.50" y="109.10" width="3.20" height="14.20" fill="#bfe2f6" stroke="none" stroke-width="0" rx="0" />
<rect x="600.70" y="29.70" width="3.80" height="10.10" rx="1.0" fill="#4f7b70" stroke="#3a3a3a" stroke-width="0.8"/>
<rect x="600.40" y="44.00" width="4.40" height="2.30" rx="1.15" fill="#2b9e86" stroke="#333" stroke-width="0.5"/>
<line x1="600.10" y1="50.20" x2="605.10" y2="50.20" stroke="#222" stroke-width="0.9" />
<line x1="600.10" y1="54.00" x2="605.10" y2="54.00" stroke="#222" stroke-width="0.9" />
<rect x="600.70" y="58.70" width="3.80" height="53.90" rx="1.0" fill="#efe3d1" stroke="#3a3a3a" stroke-width="0.8"/>
<rect x="600.70" y="118.30" width="3.80" height="12.00" rx="1.0" fill="#fbc8b3" stroke="#3a3a3a" stroke-width="0.8"/>
<line x1="600.10" y1="135.20" x2="605.10" y2="135.20" stroke="#222" stroke-width="0.9" />
<rect x="600.40" y="139.80" width="4.40" height="1.50" rx="0.75" fill="#b5b967" stroke="#333" stroke-width="0.5"/>
<rect x="600.40" y="145.00" width="4.40" height="1.30" rx="0.65" fill="#2f4d6b" stroke="#333" stroke-width="0.5"/>
<line x1="600.10" y1="150.40" x2="605.10" y2="150.40" stroke="#222" stroke-width="0.9" />
<rect x="600.70" y="154.90" width="3.80" height="4.30" rx="0.5" fill="#dc5661" stroke="#3a3a3a" stroke-width="0.8"/>
<rect x="607.10" y="29.70" width="4.20" height="2.50" rx="0.5" fill="#4f7b70" stroke="#3a3a3a" stroke-width="0.8"/>
<line x1="606.50" y1="44.60" x2="611.90" y2="44.60" stroke="#2b9e86" stroke-width="0.9" />
<line x1="606.50" y1="50.20" x2="611.90" y2="50.20" stroke="#222" stroke-width="0.9" />
<line x1="606.50" y1="54.00" x2="611.90" y2="54.00" stroke="#222" stroke-width="0.9" />
<rect x="607.10" y="58.70" width="4.20" height="32.30" rx="1.0" fill="#efe3d1" stroke="#3a3a3a" stroke-width="0.8"/>
<rect x="607.10" y="118.40" width="4.20" height="3.80" rx="0.5" fill="#fbc8b3" stroke="#3a3a3a" stroke-width="0.8"/>
<line x1="606.50" y1="135.20" x2="611.90" y2="135.20" stroke="#222" stroke-width="0.9" />
<line x1="606.50" y1="140.10" x2="611.90" y2="140.10" stroke="#222" stroke-width="0.9" />
<line x1="606.50" y1="145.60" x2="611.90" y2="145.60" stroke="#2f4d6b" stroke-width="0.9" />
<line x1="606.50" y1="150.40" x2="611.90" y2="150.40" stroke="#222" stroke-width="0.9" />
<rect x="607.10" y="154.90" width="4.20" height="4.30" rx="0.5" fill="#dc5661" stroke="#3a3a3a" stroke-width="0.8"/>
<text transform="translate(532.7,42.0) rotate(-90)" font-size="6.7" text-anchor="middle" fill="#231f20">EPI</text>
<line x1="533.60" y1="35.35" x2="533.60" y2="48.65" stroke="#222" stroke-width="0.6" />
<line x1="533.60" y1="47.60" x2="537.50" y2="47.60" stroke="#222" stroke-width="0.6" />
<text transform="translate(532.7,60.5) rotate(-90)" font-size="6.7" text-anchor="middle" fill="#231f20">MES</text>
<line x1="533.60" y1="53.85" x2="533.60" y2="67.15" stroke="#222" stroke-width="0.6" />
<line x1="533.60" y1="65.30" x2="537.50" y2="65.30" stroke="#222" stroke-width="0.6" />
<text transform="translate(532.7,88.4) rotate(-90)" font-size="6.7" text-anchor="middle" fill="#231f20">BAT</text>
<line x1="533.60" y1="81.75" x2="533.60" y2="95.05" stroke="#222" stroke-width="0.6" />
<line x1="533.60" y1="88.90" x2="537.50" y2="88.90" stroke="#222" stroke-width="0.6" />
<text transform="translate(532.7,121.0) rotate(-90)" font-size="6.7" text-anchor="middle" fill="#231f20">ABY</text>
<line x1="533.60" y1="114.35" x2="533.60" y2="127.65" stroke="#222" stroke-width="0.6" />
<line x1="533.60" y1="117.60" x2="537.50" y2="117.60" stroke="#222" stroke-width="0.6" />
<text transform="translate(532.7,147.0) rotate(-90)" font-size="6.7" text-anchor="middle" fill="#231f20">sediment</text>
<line x1="533.60" y1="130.60" x2="533.60" y2="163.40" stroke="#222" stroke-width="0.6" />
<line x1="533.60" y1="141.30" x2="537.50" y2="141.30" stroke="#222" stroke-width="0.6" />
<text transform="translate(678.9,63.6) rotate(90)" font-size="6.8" text-anchor="middle" fill="#231f20">CS</text>
<line x1="676.70" y1="58.60" x2="676.70" y2="68.60" stroke="#222" stroke-width="0.6" />
<line x1="674.30" y1="66.60" x2="676.70" y2="66.60" stroke="#222" stroke-width="0.6" />
<text transform="translate(678.9,77.6) rotate(90)" font-size="6.8" text-anchor="middle" fill="#231f20">HV</text>
<line x1="676.70" y1="72.60" x2="676.70" y2="82.60" stroke="#222" stroke-width="0.6" />
<line x1="674.30" y1="78.60" x2="676.70" y2="78.60" stroke="#222" stroke-width="0.6" />
<text transform="translate(678.9,96.2) rotate(90)" font-size="6.8" text-anchor="middle" fill="#231f20">Tre</text>
<line x1="676.70" y1="89.10" x2="676.70" y2="103.30" stroke="#222" stroke-width="0.6" />
<line x1="674.30" y1="95.70" x2="676.70" y2="95.70" stroke="#222" stroke-width="0.6" />
<text transform="translate(678.9,117.4) rotate(90)" font-size="6.8" text-anchor="middle" fill="#231f20">OS</text>
<line x1="676.70" y1="112.40" x2="676.70" y2="122.40" stroke="#222" stroke-width="0.6" />
<line x1="674.30" y1="116.60" x2="676.70" y2="116.60" stroke="#222" stroke-width="0.6" />
<text x="524.80" y="183.80" font-size="10.5" text-anchor="start" font-weight="bold" fill="#000" >d</text>
<rect x="537.30" y="193.30" width="65.30" height="11.80" fill="#d4d4d4" stroke="none" stroke-width="0" rx="0" />
<rect x="609.00" y="193.30" width="65.60" height="11.80" fill="#cce8f8" stroke="none" stroke-width="0" rx="0" />
<line x1="537.30" y1="193.30" x2="602.60" y2="193.30" stroke="#555" stroke-width="0.9" />
<line x1="609.00" y1="193.30" x2="674.60" y2="193.30" stroke="#555" stroke-width="0.9" />
<text x="570.00" y="202.40" font-size="7.4" text-anchor="middle" font-weight="normal" fill="#231f20" >all samples</text>
<text x="641.80" y="202.40" font-size="7.4" text-anchor="middle" font-weight="normal" fill="#231f20" >sediment</text>
<line x1="537.50" y1="193.30" x2="537.50" y2="334.90" stroke="#666" stroke-width="0.9" />
<line x1="674.30" y1="193.30" x2="674.30" y2="334.90" stroke="#999" stroke-width="0.9" />
<line x1="602.60" y1="193.30" x2="602.60" y2="334.90" stroke="#9a9a9a" stroke-width="1.1" />
<line x1="608.90" y1="193.30" x2="608.90" y2="334.90" stroke="#9a9a9a" stroke-width="1.1" />
<line x1="537.50" y1="334.90" x2="674.30" y2="334.90" stroke="#555" stroke-width="0.9" />
<path d="M540.90,228.46 C570.65,228.46 570.65,206.49 600.40,206.49" fill="none" stroke="#78998f" stroke-width="0.5123456790123464" stroke-opacity="0.87"/>
<path d="M540.90,228.87 C570.65,228.87 570.65,217.02 600.40,217.02" fill="none" stroke="#2b9e86" stroke-width="0.45" stroke-opacity="0.6"/>
<path d="M540.90,229.02 C570.65,229.02 570.65,230.60 600.40,230.60 L600.40,237.28 C570.65,237.28 570.65,235.68 540.90,235.68 Z" fill="#efdfcc" fill-opacity="0.62" stroke="none" stroke-width="0"/>
<path d="M540.90,235.89 C570.65,235.89 570.65,293.65 600.40,293.65" fill="none" stroke="#fbc0a8" stroke-width="0.45" stroke-opacity="0.7000000000000001"/>
<path d="M540.90,236.14 C570.65,236.14 570.65,306.35 600.40,306.35" fill="none" stroke="#8ea4da" stroke-width="0.45" stroke-opacity="0.65"/>
<path d="M540.90,236.35 C570.65,236.35 570.65,325.47 600.40,325.47" fill="none" stroke="#dc5661" stroke-width="0.45" stroke-opacity="0.7000000000000001"/>
<path d="M540.90,242.50 C570.65,242.50 570.65,206.79 600.40,206.79 L600.40,208.19 C570.65,208.19 570.65,243.68 540.90,243.68 Z" fill="#78998f" fill-opacity="0.72" stroke="none" stroke-width="0"/>
<path d="M540.90,243.82 C570.65,243.82 570.65,217.27 600.40,217.27" fill="none" stroke="#2b9e86" stroke-width="0.45" stroke-opacity="0.6"/>
<path d="M540.90,243.97 C570.65,243.97 570.65,237.28 600.40,237.28 L600.40,249.11 C570.65,249.11 570.65,255.23 540.90,255.23 Z" fill="#efdfcc" fill-opacity="0.62" stroke="none" stroke-width="0"/>
<path d="M540.90,255.23 C570.65,255.23 570.65,293.89 600.40,293.89 L600.40,295.13 C570.65,295.13 570.65,256.21 540.90,256.21 Z" fill="#fbc0a8" fill-opacity="0.55" stroke="none" stroke-width="0"/>
<path d="M540.90,256.26 C570.65,256.26 570.65,306.35 600.40,306.35" fill="none" stroke="#8ea4da" stroke-width="0.45" stroke-opacity="0.65"/>
<path d="M540.90,256.36 C570.65,256.36 570.65,315.62 600.40,315.62" fill="none" stroke="#5b83ad" stroke-width="0.45" stroke-opacity="0.7000000000000001"/>
<path d="M540.90,256.60 C570.65,256.60 570.65,325.85 600.40,325.85" fill="none" stroke="#dc5661" stroke-width="0.45" stroke-opacity="0.7000000000000001"/>
<path d="M540.90,263.60 C570.65,263.60 570.65,208.19 600.40,208.19 L600.40,209.37 C570.65,209.37 570.65,264.57 540.90,264.57 Z" fill="#78998f" fill-opacity="0.72" stroke="none" stroke-width="0"/>
<path d="M540.90,264.67 C570.65,264.67 570.65,217.47 600.40,217.47" fill="none" stroke="#2b9e86" stroke-width="0.45" stroke-opacity="0.6"/>
<path d="M540.90,264.77 C570.65,264.77 570.65,249.11 600.40,249.11 L600.40,254.25 C570.65,254.25 570.65,269.63 540.90,269.63 Z" fill="#efdfcc" fill-opacity="0.62" stroke="none" stroke-width="0"/>
<path d="M540.90,269.92 C570.65,269.92 570.65,295.50 600.40,295.50" fill="none" stroke="#fbc0a8" stroke-width="0.5833333333333334" stroke-opacity="0.7000000000000001"/>
<path d="M540.90,270.26 C570.65,270.26 570.65,306.35 600.40,306.35" fill="none" stroke="#8ea4da" stroke-width="0.45" stroke-opacity="0.65"/>
<path d="M540.90,270.45 C570.65,270.45 570.65,326.24 600.40,326.24" fill="none" stroke="#dc5661" stroke-width="0.45" stroke-opacity="0.7000000000000001"/>
<path d="M540.90,275.20 C570.65,275.20 570.65,209.37 600.40,209.37 L600.40,211.13 C570.65,211.13 570.65,276.67 540.90,276.67 Z" fill="#78998f" fill-opacity="0.72" stroke="none" stroke-width="0"/>
<path d="M540.90,276.82 C570.65,276.82 570.65,217.67 600.40,217.67" fill="none" stroke="#2b9e86" stroke-width="0.45" stroke-opacity="0.6"/>
<path d="M540.90,276.97 C570.65,276.97 570.65,254.25 600.40,254.25 L600.40,261.96 C570.65,261.96 570.65,284.34 540.90,284.34 Z" fill="#efdfcc" fill-opacity="0.62" stroke="none" stroke-width="0"/>
<path d="M540.90,284.34 C570.65,284.34 570.65,295.87 600.40,295.87 L600.40,297.60 C570.65,297.60 570.65,285.71 540.90,285.71 Z" fill="#fbc0a8" fill-opacity="0.55" stroke="none" stroke-width="0"/>
<path d="M540.90,285.76 C570.65,285.76 570.65,306.35 600.40,306.35" fill="none" stroke="#8ea4da" stroke-width="0.45" stroke-opacity="0.65"/>
<path d="M540.90,285.86 C570.65,285.86 570.65,310.40 600.40,310.40" fill="none" stroke="#b5b967" stroke-width="0.45" stroke-opacity="0.7000000000000001"/>
<path d="M540.90,286.15 C570.65,286.15 570.65,326.68 600.40,326.68" fill="none" stroke="#dc5661" stroke-width="0.49122807017543807" stroke-opacity="0.7000000000000001"/>
<path d="M540.90,291.90 C570.65,291.90 570.65,211.13 600.40,211.13 L600.40,212.30 C570.65,212.30 570.65,292.86 540.90,292.86 Z" fill="#78998f" fill-opacity="0.72" stroke="none" stroke-width="0"/>
<path d="M540.90,293.09 C570.65,293.09 570.65,218.00 600.40,218.00" fill="none" stroke="#2b9e86" stroke-width="0.47783251231527174" stroke-opacity="0.6"/>
<path d="M540.90,293.33 C570.65,293.33 570.65,261.96 600.40,261.96 L600.40,274.30 C570.65,274.30 570.65,304.80 540.90,304.80 Z" fill="#efdfcc" fill-opacity="0.62" stroke="none" stroke-width="0"/>
<path d="M540.90,304.80 C570.65,304.80 570.65,297.60 600.40,297.60 L600.40,301.30 C570.65,301.30 570.65,307.67 540.90,307.67 Z" fill="#fbc0a8" fill-opacity="0.55" stroke="none" stroke-width="0"/>
<path d="M540.90,307.76 C570.65,307.76 570.65,306.40 600.40,306.40" fill="none" stroke="#8ea4da" stroke-width="0.45" stroke-opacity="0.65"/>
<path d="M540.90,307.86 C570.65,307.86 570.65,310.50 600.40,310.50 L600.40,311.70 C570.65,311.70 570.65,308.43 540.90,308.43 Z" fill="#b5b967" fill-opacity="0.55" stroke="none" stroke-width="0"/>
<path d="M540.90,308.43 C570.65,308.43 570.65,315.73 600.40,315.73 L600.40,316.90 C570.65,316.90 570.65,308.91 540.90,308.91 Z" fill="#5b83ad" fill-opacity="0.55" stroke="none" stroke-width="0"/>
<path d="M540.90,308.96 C570.65,308.96 570.65,320.65 600.40,320.65" fill="none" stroke="#8a55a7" stroke-width="0.45" stroke-opacity="0.65"/>
<path d="M540.90,309.01 C570.65,309.01 570.65,326.95 600.40,326.95 L600.40,329.60 C570.65,329.60 570.65,311.30 540.90,311.30 Z" fill="#dc5661" fill-opacity="0.55" stroke="none" stroke-width="0"/>
<path d="M611.60,206.27 C641.05,206.27 641.05,221.20 670.50,221.20" fill="none" stroke="#78998f" stroke-width="0.45" stroke-opacity="0.87"/>
<path d="M611.60,216.94 C641.05,216.94 641.05,221.35 670.50,221.35" fill="none" stroke="#2b9e86" stroke-width="0.45" stroke-opacity="0.6"/>
<path d="M611.60,230.60 C641.05,230.60 641.05,221.40 670.50,221.40 L670.50,223.60 C641.05,223.60 641.05,232.81 611.60,232.81 Z" fill="#efdfcc" fill-opacity="0.62" stroke="none" stroke-width="0"/>
<path d="M611.60,293.49 C641.05,293.49 641.05,223.70 670.50,223.70" fill="none" stroke="#fbc0a8" stroke-width="0.45" stroke-opacity="0.7000000000000001"/>
<path d="M611.60,325.30 C641.05,325.30 641.05,223.80 670.50,223.80 L670.50,225.20 C641.05,225.20 641.05,326.53 611.60,326.53 Z" fill="#dc5661" fill-opacity="0.55" stroke="none" stroke-width="0"/>
<path d="M611.60,206.42 C641.05,206.42 641.05,226.88 670.50,226.88" fill="none" stroke="#78998f" stroke-width="0.45" stroke-opacity="0.87"/>
<path d="M611.60,217.03 C641.05,217.03 641.05,227.01 670.50,227.01" fill="none" stroke="#2b9e86" stroke-width="0.45" stroke-opacity="0.6"/>
<path d="M611.60,232.81 C641.05,232.81 641.05,227.05 670.50,227.05 L670.50,228.40 C641.05,228.40 641.05,234.42 611.60,234.42 Z" fill="#efdfcc" fill-opacity="0.62" stroke="none" stroke-width="0"/>
<path d="M611.60,293.66 C641.05,293.66 641.05,228.49 670.50,228.49" fill="none" stroke="#fbc0a8" stroke-width="0.45" stroke-opacity="0.7000000000000001"/>
<path d="M611.60,326.53 C641.05,326.53 641.05,228.57 670.50,228.57 L670.50,230.60 C641.05,230.60 641.05,328.64 611.60,328.64 Z" fill="#dc5661" fill-opacity="0.55" stroke="none" stroke-width="0"/>
<path d="M611.60,206.56 C641.05,206.56 641.05,231.90 670.50,231.90" fill="none" stroke="#78998f" stroke-width="0.45" stroke-opacity="0.87"/>
<path d="M611.60,217.12 C641.05,217.12 641.05,232.05 670.50,232.05" fill="none" stroke="#2b9e86" stroke-width="0.45" stroke-opacity="0.6"/>
<path d="M611.60,234.42 C641.05,234.42 641.05,232.10 670.50,232.10 L670.50,234.70 C641.05,234.70 641.05,237.03 611.60,237.03 Z" fill="#efdfcc" fill-opacity="0.62" stroke="none" stroke-width="0"/>
<path d="M611.60,293.87 C641.05,293.87 641.05,234.85 670.50,234.85" fill="none" stroke="#fbc0a8" stroke-width="0.45" stroke-opacity="0.7000000000000001"/>
<path d="M611.60,328.86 C641.05,328.86 641.05,235.25 670.50,235.25" fill="none" stroke="#dc5661" stroke-width="0.49999999999999845" stroke-opacity="0.7000000000000001"/>
<path d="M611.60,206.64 C641.05,206.64 641.05,236.30 670.50,236.30 L670.50,243.60 C641.05,243.60 641.05,211.60 611.60,211.60 Z" fill="#78998f" fill-opacity="0.72" stroke="none" stroke-width="0"/>
<path d="M611.60,217.16 C641.05,217.16 641.05,243.60 670.50,243.60 L670.50,244.89 C641.05,244.89 641.05,218.20 611.60,218.20 Z" fill="#2b9e86" fill-opacity="0.45" stroke="none" stroke-width="0"/>
<path d="M611.60,237.03 C641.05,237.03 641.05,244.89 670.50,244.89 L670.50,300.71 C641.05,300.71 641.05,289.30 611.60,289.30 Z" fill="#efdfcc" fill-opacity="0.62" stroke="none" stroke-width="0"/>
<path d="M611.60,294.00 C641.05,294.00 641.05,300.71 670.50,300.71 L670.50,309.83 C641.05,309.83 641.05,301.30 611.60,301.30 Z" fill="#fbc0a8" fill-opacity="0.55" stroke="none" stroke-width="0"/>
<path d="M611.60,306.46 C641.05,306.46 641.05,309.99 670.50,309.99" fill="none" stroke="#8ea4da" stroke-width="0.45" stroke-opacity="0.65"/>
<path d="M611.60,310.30 C641.05,310.30 641.05,310.15 670.50,310.15 L670.50,311.23 C641.05,311.23 641.05,311.50 611.60,311.50 Z" fill="#b5b967" fill-opacity="0.55" stroke="none" stroke-width="0"/>
<path d="M611.60,315.50 C641.05,315.50 641.05,311.23 670.50,311.23 L670.50,313.37 C641.05,313.37 641.05,316.90 611.60,316.90 Z" fill="#5b83ad" fill-opacity="0.55" stroke="none" stroke-width="0"/>
<path d="M611.60,320.71 C641.05,320.71 641.05,313.48 670.50,313.48" fill="none" stroke="#8a55a7" stroke-width="0.45" stroke-opacity="0.65"/>
<path d="M611.60,329.08 C641.05,329.08 641.05,313.59 670.50,313.59 L670.50,319.60 C641.05,319.60 641.05,334.00 611.60,334.00 Z" fill="#dc5661" fill-opacity="0.55" stroke="none" stroke-width="0"/>
<rect x="537.60" y="228.20" width="3.30" height="8.30" fill="#a8a8a8" stroke="none" stroke-width="0" rx="0" />
<rect x="537.60" y="242.50" width="3.30" height="14.30" fill="#a8a8a8" stroke="none" stroke-width="0" rx="0" />
<rect x="537.60" y="263.60" width="3.30" height="7.00" fill="#a8a8a8" stroke="none" stroke-width="0" rx="0" />
<rect x="537.60" y="275.20" width="3.30" height="11.20" fill="#a8a8a8" stroke="none" stroke-width="0" rx="0" />
<rect x="537.60" y="291.90" width="3.30" height="19.40" fill="#a8a8a8" stroke="none" stroke-width="0" rx="0" />
<rect x="670.50" y="221.10" width="3.20" height="4.10" fill="#bfe2f6" stroke="none" stroke-width="0" rx="0" />
<rect x="670.50" y="226.80" width="3.20" height="3.80" fill="#bfe2f6" stroke="none" stroke-width="0" rx="0" />
<rect x="670.50" y="231.80" width="3.20" height="3.70" fill="#bfe2f6" stroke="none" stroke-width="0" rx="0" />
<rect x="670.50" y="236.30" width="3.20" height="83.30" fill="#bfe2f6" stroke="none" stroke-width="0" rx="0" />
<rect x="600.70" y="206.50" width="3.80" height="5.50" rx="0.5" fill="#4f7b70" stroke="#3a3a3a" stroke-width="0.8"/>
<rect x="600.40" y="216.90" width="4.40" height="1.30" rx="0.65" fill="#2b9e86" stroke="#333" stroke-width="0.5"/>
<line x1="600.10" y1="222.40" x2="605.10" y2="222.40" stroke="#222" stroke-width="0.9" />
<line x1="600.10" y1="226.20" x2="605.10" y2="226.20" stroke="#222" stroke-width="0.9" />
<rect x="600.70" y="230.90" width="3.80" height="43.10" rx="1.0" fill="#efe3d1" stroke="#3a3a3a" stroke-width="0.8"/>
<rect x="600.70" y="293.70" width="3.80" height="7.30" rx="0.5" fill="#fbc8b3" stroke="#3a3a3a" stroke-width="0.8"/>
<line x1="600.10" y1="306.30" x2="605.10" y2="306.30" stroke="#222" stroke-width="0.9" />
<rect x="600.40" y="310.30" width="4.40" height="1.40" rx="0.70" fill="#b5b967" stroke="#333" stroke-width="0.5"/>
<rect x="600.40" y="315.50" width="4.40" height="1.40" rx="0.70" fill="#2f4d6b" stroke="#333" stroke-width="0.5"/>
<line x1="600.10" y1="320.60" x2="605.10" y2="320.60" stroke="#222" stroke-width="0.9" />
<rect x="600.70" y="325.60" width="3.80" height="3.70" rx="0.5" fill="#dc5661" stroke="#3a3a3a" stroke-width="0.8"/>
<rect x="607.10" y="206.50" width="4.20" height="4.80" rx="0.5" fill="#4f7b70" stroke="#3a3a3a" stroke-width="0.8"/>
<rect x="606.80" y="216.90" width="4.80" height="1.30" rx="0.65" fill="#2b9e86" stroke="#333" stroke-width="0.5"/>
<line x1="606.50" y1="222.40" x2="611.90" y2="222.40" stroke="#222" stroke-width="0.9" />
<line x1="606.50" y1="226.20" x2="611.90" y2="226.20" stroke="#222" stroke-width="0.9" />
<rect x="607.10" y="230.90" width="4.20" height="58.10" rx="1.0" fill="#efe3d1" stroke="#3a3a3a" stroke-width="0.8"/>
<rect x="607.10" y="293.70" width="4.20" height="7.30" rx="0.5" fill="#fbc8b3" stroke="#3a3a3a" stroke-width="0.8"/>
<line x1="606.50" y1="306.30" x2="611.90" y2="306.30" stroke="#222" stroke-width="0.9" />
<rect x="606.80" y="310.30" width="4.80" height="1.20" rx="0.60" fill="#b5b967" stroke="#333" stroke-width="0.5"/>
<rect x="606.80" y="315.50" width="4.80" height="1.40" rx="0.70" fill="#2f4d6b" stroke="#333" stroke-width="0.5"/>
<line x1="606.50" y1="320.60" x2="611.90" y2="320.60" stroke="#222" stroke-width="0.9" />
<rect x="607.10" y="325.60" width="4.20" height="8.10" rx="1.0" fill="#dc5661" stroke="#3a3a3a" stroke-width="0.8"/>
<text transform="translate(532.7,229.6) rotate(-90)" font-size="6.7" text-anchor="middle" fill="#231f20">EPI</text>
<line x1="533.60" y1="222.95" x2="533.60" y2="236.25" stroke="#222" stroke-width="0.6" />
<line x1="533.60" y1="233.50" x2="537.50" y2="233.50" stroke="#222" stroke-width="0.6" />
<text transform="translate(532.7,247.5) rotate(-90)" font-size="6.7" text-anchor="middle" fill="#231f20">MES</text>
<line x1="533.60" y1="240.85" x2="533.60" y2="254.15" stroke="#222" stroke-width="0.6" />
<line x1="533.60" y1="250.80" x2="537.50" y2="250.80" stroke="#222" stroke-width="0.6" />
<text transform="translate(532.7,266.7) rotate(-90)" font-size="6.7" text-anchor="middle" fill="#231f20">BAT</text>
<line x1="533.60" y1="260.05" x2="533.60" y2="273.35" stroke="#222" stroke-width="0.6" />
<line x1="533.60" y1="265.80" x2="537.50" y2="265.80" stroke="#222" stroke-width="0.6" />
<text transform="translate(532.7,282.1) rotate(-90)" font-size="6.7" text-anchor="middle" fill="#231f20">ABY</text>
<line x1="533.60" y1="275.45" x2="533.60" y2="288.75" stroke="#222" stroke-width="0.6" />
<line x1="533.60" y1="280.30" x2="537.50" y2="280.30" stroke="#222" stroke-width="0.6" />
<text transform="translate(532.7,306.0) rotate(-90)" font-size="6.7" text-anchor="middle" fill="#231f20">sediment</text>
<line x1="533.60" y1="289.60" x2="533.60" y2="322.40" stroke="#222" stroke-width="0.6" />
<line x1="533.60" y1="301.40" x2="537.50" y2="301.40" stroke="#222" stroke-width="0.6" />
<text transform="translate(678.9,216.2) rotate(90)" font-size="6.8" text-anchor="middle" fill="#231f20">CS</text>
<line x1="676.70" y1="211.20" x2="676.70" y2="221.20" stroke="#222" stroke-width="0.6" />
<line x1="674.30" y1="223.30" x2="676.70" y2="223.30" stroke="#222" stroke-width="0.6" />
<text transform="translate(678.9,227.3) rotate(90)" font-size="6.8" text-anchor="middle" fill="#231f20">HV</text>
<line x1="676.70" y1="222.30" x2="676.70" y2="232.30" stroke="#222" stroke-width="0.6" />
<line x1="674.30" y1="228.80" x2="676.70" y2="228.80" stroke="#222" stroke-width="0.6" />
<text transform="translate(678.9,238.3) rotate(90)" font-size="6.8" text-anchor="middle" fill="#231f20">Tre</text>
<line x1="676.70" y1="231.20" x2="676.70" y2="245.40" stroke="#222" stroke-width="0.6" />
<line x1="674.30" y1="232.60" x2="676.70" y2="232.60" stroke="#222" stroke-width="0.6" />
<text transform="translate(678.9,280.7) rotate(90)" font-size="6.8" text-anchor="middle" fill="#231f20">OS</text>
<line x1="676.70" y1="275.70" x2="676.70" y2="285.70" stroke="#222" stroke-width="0.6" />
<line x1="674.30" y1="279.40" x2="676.70" y2="279.40" stroke="#222" stroke-width="0.6" />
<text x="533.20" y="354.20" font-size="8.0" text-anchor="start" font-weight="normal" fill="#231f20" textLength="73.6" lengthAdjust="spacingAndGlyphs">Sample abbreviation</text>
<rect x="529.20" y="357.50" width="71.70" height="53.80" fill="#e0dfdf" stroke="none" stroke-width="0" rx="0" />
<rect x="600.90" y="357.50" width="80.60" height="53.80" fill="#dcf0fb" stroke="none" stroke-width="0" rx="0" />
<text x="533.20" y="365.30" font-size="7.6" text-anchor="start" font-weight="normal" fill="#231f20" textLength="40.9" lengthAdjust="spacingAndGlyphs">Water layer</text>
<text x="604.00" y="365.30" font-size="7.6" text-anchor="start" font-weight="normal" fill="#231f20" textLength="33.9" lengthAdjust="spacingAndGlyphs">Sediment</text>
<text x="533.20" y="375.50" font-size="7.6" text-anchor="start" font-weight="normal" fill="#231f20" textLength="47.9" lengthAdjust="spacingAndGlyphs">EPI, epipelagic</text>
<text x="604.00" y="375.50" font-size="7.6" text-anchor="start" font-weight="normal" fill="#231f20" textLength="43.0" lengthAdjust="spacingAndGlyphs">CS, cold seep</text>
<text x="533.20" y="385.70" font-size="7.6" text-anchor="start" font-weight="normal" fill="#231f20" textLength="60.0" lengthAdjust="spacingAndGlyphs">MES, mesopelagic</text>
<text x="604.00" y="385.70" font-size="7.6" text-anchor="start" font-weight="normal" fill="#231f20" textLength="75.2" lengthAdjust="spacingAndGlyphs">HV, hydrothermal vent</text>
<text x="533.20" y="395.90" font-size="7.6" text-anchor="start" font-weight="normal" fill="#231f20" textLength="57.7" lengthAdjust="spacingAndGlyphs">BAT, bathypelagic</text>
<text x="604.00" y="395.90" font-size="7.6" text-anchor="start" font-weight="normal" fill="#231f20" textLength="36.0" lengthAdjust="spacingAndGlyphs">Tre, trench</text>
<text x="533.20" y="406.10" font-size="7.6" text-anchor="start" font-weight="normal" fill="#231f20" textLength="61.4" lengthAdjust="spacingAndGlyphs">ABY, abyssopelagic</text>
<text x="604.00" y="406.10" font-size="7.6" text-anchor="start" font-weight="normal" fill="#231f20" textLength="34.3" lengthAdjust="spacingAndGlyphs">OS, others</text>
</svg></body></html>
